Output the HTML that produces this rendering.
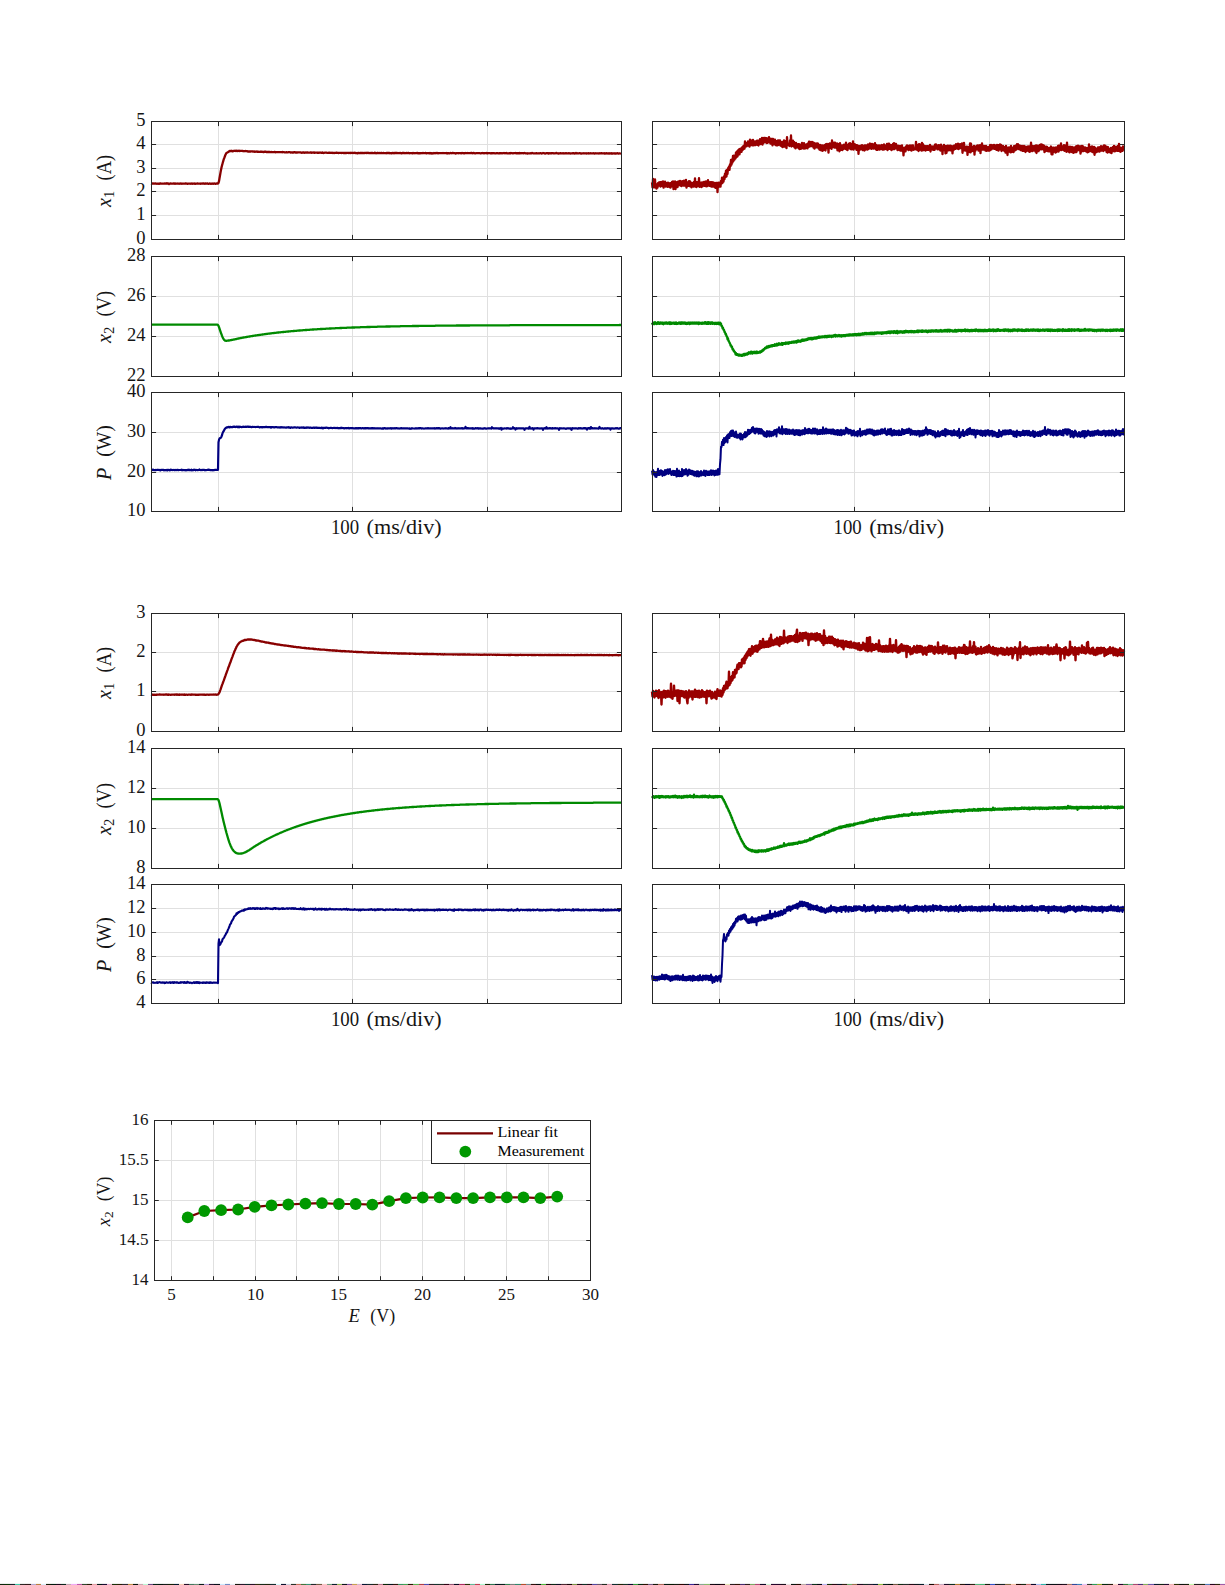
<!DOCTYPE html><html><head><meta charset="utf-8"><title>Plots</title><style>html,body{margin:0;padding:0;background:#fff;}body{width:1225px;height:1585px;overflow:hidden;}svg{display:block;}</style></head><body><svg width="1225" height="1585" viewBox="0 0 1225 1585" font-family="'Liberation Serif', 'DejaVu Serif', serif" fill="#151515">
<rect width="1225" height="1585" fill="#fff"/>
<path d="M218.5 121.5V239.5M352.5 121.5V239.5M487.5 121.5V239.5M151.5 144.5H621.5M151.5 168.5H621.5M151.5 191.5H621.5M151.5 215.5H621.5" stroke="#e0e0e0" stroke-width="1" fill="none"/>
<path d="M151.0 183.5L151.5 183.6L152.0 183.7L152.5 183.5L153.0 183.4L153.5 183.6L154.0 183.7L154.5 183.7L155.0 183.5L155.5 183.4L156.0 183.7L156.5 183.7L157.0 183.8L157.5 183.7L158.0 183.6L158.5 183.6L159.0 183.9L159.5 183.6L160.0 183.5L160.5 183.5L161.0 183.6L161.5 183.6L162.0 183.6L162.5 183.6L163.0 183.6L163.5 183.7L164.0 183.7L164.5 183.6L165.0 183.4L165.5 183.7L166.0 183.4L166.5 183.6L167.0 183.4L167.5 183.6L168.0 183.5L168.5 183.6L169.0 184.0L169.5 183.6L170.0 183.7L170.5 183.4L171.0 183.6L171.5 183.7L172.0 183.6L172.5 183.6L173.0 183.6L173.5 183.5L174.0 183.7L174.5 183.5L175.0 183.8L175.5 183.5L176.0 183.7L176.5 183.6L177.0 183.7L177.5 183.5L178.0 183.7L178.5 183.6L179.0 183.8L179.5 183.7L180.0 183.6L180.5 183.5L181.0 183.7L181.5 183.7L182.0 183.8L182.5 183.6L183.0 183.7L183.5 183.7L184.0 183.6L184.5 183.6L185.0 183.6L185.5 183.5L186.0 183.5L186.5 183.6L187.0 183.7L187.5 183.8L188.0 183.7L188.5 183.7L189.0 183.7L189.5 183.7L190.0 183.6L190.5 183.7L191.0 183.8L191.5 183.6L192.0 183.5L192.5 183.8L193.0 183.6L193.5 183.7L194.0 183.7L194.5 183.5L195.0 183.9L195.5 183.8L196.0 183.6L196.5 183.7L197.0 183.6L197.5 183.5L198.0 183.6L198.5 183.6L199.0 183.7L199.5 183.7L200.0 183.6L200.5 183.8L201.0 183.5L201.5 183.7L202.0 183.7L202.5 183.6L203.0 183.4L203.5 183.5L204.0 183.6L204.5 183.7L205.0 183.8L205.5 183.5L206.0 183.6L206.5 183.7L207.0 183.6L207.5 183.3L208.0 183.7L208.5 183.9L209.0 183.7L209.5 183.5L210.0 183.6L210.5 183.6L211.0 183.9L211.5 183.7L212.0 183.6L212.5 183.8L213.0 183.6L213.5 183.8L214.0 183.5L214.5 183.5L215.0 183.7L215.5 183.8L216.0 183.7L216.5 183.6L217.0 183.4L217.5 183.5L218.0 183.5L218.5 182.8L219.0 181.2L219.5 178.3L220.0 175.5L220.5 172.6L221.0 169.9L221.5 167.6L222.0 165.5L222.5 163.7L223.0 161.8L223.5 160.2L224.0 158.5L224.5 157.4L225.0 156.0L225.5 154.7L226.0 153.7L226.5 153.0L227.0 152.7L227.5 152.3L228.0 152.2L228.5 151.7L229.0 151.4L229.5 151.0L230.0 151.3L230.5 151.1L231.0 150.8L231.5 151.0L232.0 150.8L232.5 151.4L233.0 151.1L233.5 151.0L234.0 150.9L234.5 150.7L235.0 150.9L235.5 150.7L236.0 151.0L236.5 150.7L237.0 150.8L237.5 151.1L238.0 151.1L238.5 150.8L239.0 150.7L239.5 151.0L240.0 151.0L240.5 150.8L241.0 150.8L241.5 150.8L242.0 150.8L242.5 150.9L243.0 151.1L243.5 151.1L244.0 151.3L244.5 151.1L245.0 151.1L245.5 151.0L246.0 151.2L246.5 151.1L247.0 151.1L247.5 151.4L248.0 151.5L248.5 151.5L249.0 151.6L249.5 151.5L250.0 151.4L250.5 151.5L251.0 151.4L251.5 151.4L252.0 151.3L252.5 151.4L253.0 151.6L253.5 151.6L254.0 151.5L254.5 151.8L255.0 151.7L255.5 151.7L256.0 151.8L256.5 151.6L257.0 151.5L257.5 151.8L258.0 151.6L258.5 151.9L259.0 151.8L259.5 151.9L260.0 151.9L260.5 151.6L261.0 151.9L261.5 151.7L262.0 151.7L262.5 151.8L263.0 152.0L263.5 152.0L264.0 152.0L264.5 151.7L265.0 151.8L265.5 151.6L266.0 151.9L266.5 152.0L267.0 151.9L267.5 152.0L268.0 152.0L268.5 152.1L269.0 151.9L269.5 151.9L270.0 151.9L270.5 152.2L271.0 152.2L271.5 152.0L272.0 152.1L272.5 152.1L273.0 152.1L273.5 152.1L274.0 152.1L274.5 152.0L275.0 152.0L275.5 152.3L276.0 152.2L276.5 152.1L277.0 152.1L277.5 152.2L278.0 152.2L278.5 152.1L279.0 152.2L279.5 152.2L280.0 152.1L280.5 152.1L281.0 152.1L281.5 152.1L282.0 152.3L282.5 151.9L283.0 152.2L283.5 152.2L284.0 152.2L284.5 152.3L285.0 152.4L285.5 152.3L286.0 152.3L286.5 152.2L287.0 152.3L287.5 152.4L288.0 152.3L288.5 152.2L289.0 152.2L289.5 152.2L290.0 152.2L290.5 152.5L291.0 152.4L291.5 152.3L292.0 152.6L292.5 152.3L293.0 152.5L293.5 152.5L294.0 152.2L294.5 152.2L295.0 152.3L295.5 152.5L296.0 152.6L296.5 152.3L297.0 152.6L297.5 152.4L298.0 152.4L298.5 152.4L299.0 152.4L299.5 152.3L300.0 152.4L300.5 152.3L301.0 152.6L301.5 152.8L302.0 152.8L302.5 152.5L303.0 152.3L303.5 152.5L304.0 152.4L304.5 152.8L305.0 152.6L305.5 152.5L306.0 152.7L306.5 152.6L307.0 152.4L307.5 152.5L308.0 152.6L308.5 152.6L309.0 152.6L309.5 152.6L310.0 152.6L310.5 152.5L311.0 152.5L311.5 152.8L312.0 152.7L312.5 152.7L313.0 152.4L313.5 152.6L314.0 152.8L314.5 152.5L315.0 152.8L315.5 152.6L316.0 152.7L316.5 152.7L317.0 152.7L317.5 152.8L318.0 152.6L318.5 152.9L319.0 152.6L319.5 152.6L320.0 152.8L320.5 152.6L321.0 152.7L321.5 152.8L322.0 152.9L322.5 152.5L323.0 152.8L323.5 153.0L324.0 152.9L324.5 152.7L325.0 152.7L325.5 152.7L326.0 152.6L326.5 152.7L327.0 152.8L327.5 152.8L328.0 152.9L328.5 152.8L329.0 152.6L329.5 152.9L330.0 152.7L330.5 152.8L331.0 152.8L331.5 152.8L332.0 152.7L332.5 152.8L333.0 153.1L333.5 152.8L334.0 152.8L334.5 153.0L335.0 152.9L335.5 152.9L336.0 152.9L336.5 152.6L337.0 152.7L337.5 152.9L338.0 152.9L338.5 153.0L339.0 152.9L339.5 152.8L340.0 152.9L340.5 152.9L341.0 152.9L341.5 153.0L342.0 152.8L342.5 152.8L343.0 152.8L343.5 153.0L344.0 153.1L344.5 153.0L345.0 153.0L345.5 153.0L346.0 152.9L346.5 153.0L347.0 152.8L347.5 152.9L348.0 152.8L348.5 153.0L349.0 152.9L349.5 152.9L350.0 153.0L350.5 153.1L351.0 152.8L351.5 152.8L352.0 153.0L352.5 152.8L353.0 153.0L353.5 152.9L354.0 152.9L354.5 152.7L355.0 153.0L355.5 152.9L356.0 152.9L356.5 153.2L357.0 153.1L357.5 153.4L358.0 153.0L358.5 152.9L359.0 153.0L359.5 153.2L360.0 153.0L360.5 153.0L361.0 153.1L361.5 152.9L362.0 153.0L362.5 152.9L363.0 152.9L363.5 153.1L364.0 153.1L364.5 153.0L365.0 152.9L365.5 152.8L366.0 153.1L366.5 153.0L367.0 152.8L367.5 153.0L368.0 152.8L368.5 153.0L369.0 153.0L369.5 153.1L370.0 153.1L370.5 153.1L371.0 152.9L371.5 153.0L372.0 153.0L372.5 153.0L373.0 153.1L373.5 153.1L374.0 153.2L374.5 152.7L375.0 153.1L375.5 153.0L376.0 153.3L376.5 153.2L377.0 152.9L377.5 153.1L378.0 153.0L378.5 153.2L379.0 152.9L379.5 153.1L380.0 153.1L380.5 153.1L381.0 153.0L381.5 152.9L382.0 153.1L382.5 153.2L383.0 153.1L383.5 153.0L384.0 153.1L384.5 153.2L385.0 153.1L385.5 153.1L386.0 153.3L386.5 153.0L387.0 153.0L387.5 152.9L388.0 153.0L388.5 153.0L389.0 153.0L389.5 153.0L390.0 153.3L390.5 153.1L391.0 153.1L391.5 153.4L392.0 153.1L392.5 152.9L393.0 153.2L393.5 153.0L394.0 153.3L394.5 153.0L395.0 153.0L395.5 152.9L396.0 153.1L396.5 153.0L397.0 153.1L397.5 153.1L398.0 153.0L398.5 153.2L399.0 153.2L399.5 153.1L400.0 153.0L400.5 153.0L401.0 153.2L401.5 153.4L402.0 153.1L402.5 153.0L403.0 153.0L403.5 153.0L404.0 153.0L404.5 153.1L405.0 153.3L405.5 153.1L406.0 153.1L406.5 152.9L407.0 153.2L407.5 153.1L408.0 153.0L408.5 153.0L409.0 153.1L409.5 153.3L410.0 153.2L410.5 153.2L411.0 153.1L411.5 153.2L412.0 153.1L412.5 153.4L413.0 153.0L413.5 153.1L414.0 153.3L414.5 153.1L415.0 153.3L415.5 153.1L416.0 153.2L416.5 153.1L417.0 153.0L417.5 153.0L418.0 153.4L418.5 153.2L419.0 153.2L419.5 153.3L420.0 153.2L420.5 153.3L421.0 153.1L421.5 153.1L422.0 153.3L422.5 153.1L423.0 153.0L423.5 153.1L424.0 153.1L424.5 153.2L425.0 153.1L425.5 153.0L426.0 153.1L426.5 153.4L427.0 153.2L427.5 153.2L428.0 153.2L428.5 153.2L429.0 153.3L429.5 153.3L430.0 153.0L430.5 153.3L431.0 153.2L431.5 153.1L432.0 153.5L432.5 153.2L433.0 153.4L433.5 153.3L434.0 153.0L434.5 153.2L435.0 153.3L435.5 153.2L436.0 152.9L436.5 153.1L437.0 153.2L437.5 153.0L438.0 153.4L438.5 153.1L439.0 153.1L439.5 153.1L440.0 153.1L440.5 153.1L441.0 153.2L441.5 153.2L442.0 153.1L442.5 153.2L443.0 153.0L443.5 153.2L444.0 153.1L444.5 153.2L445.0 153.1L445.5 153.1L446.0 153.2L446.5 153.0L447.0 153.5L447.5 153.2L448.0 153.2L448.5 153.1L449.0 153.4L449.5 153.3L450.0 153.2L450.5 153.0L451.0 153.1L451.5 153.3L452.0 153.1L452.5 153.0L453.0 153.0L453.5 153.1L454.0 153.2L454.5 153.1L455.0 153.2L455.5 153.5L456.0 153.4L456.5 153.1L457.0 153.2L457.5 153.2L458.0 153.2L458.5 153.3L459.0 153.1L459.5 153.1L460.0 153.1L460.5 153.2L461.0 153.3L461.5 153.3L462.0 153.0L462.5 153.1L463.0 153.1L463.5 153.3L464.0 153.2L464.5 153.3L465.0 153.2L465.5 153.0L466.0 153.2L466.5 153.2L467.0 153.2L467.5 153.0L468.0 153.2L468.5 153.1L469.0 153.1L469.5 153.2L470.0 153.2L470.5 153.1L471.0 153.0L471.5 152.9L472.0 153.1L472.5 153.3L473.0 153.2L473.5 152.9L474.0 153.1L474.5 153.2L475.0 153.4L475.5 153.3L476.0 153.2L476.5 153.2L477.0 153.1L477.5 153.1L478.0 153.2L478.5 153.1L479.0 153.2L479.5 153.1L480.0 153.2L480.5 153.4L481.0 153.3L481.5 153.2L482.0 153.2L482.5 153.0L483.0 153.2L483.5 153.3L484.0 153.1L484.5 153.3L485.0 153.2L485.5 153.2L486.0 153.2L486.5 153.0L487.0 153.4L487.5 153.1L488.0 153.3L488.5 153.1L489.0 153.2L489.5 153.1L490.0 153.2L490.5 153.3L491.0 153.4L491.5 153.1L492.0 153.2L492.5 153.3L493.0 153.1L493.5 153.3L494.0 153.1L494.5 153.3L495.0 153.3L495.5 153.4L496.0 153.3L496.5 153.1L497.0 153.3L497.5 153.1L498.0 153.3L498.5 153.4L499.0 153.3L499.5 153.1L500.0 153.4L500.5 153.2L501.0 153.1L501.5 153.2L502.0 153.4L502.5 153.2L503.0 153.2L503.5 153.2L504.0 153.0L504.5 153.2L505.0 153.3L505.5 153.2L506.0 153.2L506.5 153.0L507.0 153.4L507.5 153.3L508.0 153.3L508.5 153.4L509.0 153.2L509.5 153.2L510.0 153.3L510.5 153.4L511.0 153.0L511.5 153.2L512.0 153.1L512.5 153.3L513.0 153.4L513.5 153.2L514.0 153.1L514.5 153.2L515.0 153.2L515.5 153.0L516.0 153.3L516.5 153.2L517.0 153.3L517.5 153.1L518.0 153.4L518.5 153.1L519.0 153.4L519.5 153.0L520.0 153.4L520.5 153.2L521.0 153.1L521.5 153.2L522.0 153.3L522.5 153.1L523.0 153.2L523.5 153.3L524.0 153.2L524.5 152.9L525.0 153.2L525.5 153.3L526.0 153.3L526.5 153.4L527.0 153.2L527.5 153.6L528.0 153.3L528.5 153.3L529.0 153.4L529.5 153.4L530.0 153.3L530.5 153.2L531.0 153.4L531.5 153.3L532.0 153.0L532.5 153.1L533.0 153.3L533.5 153.3L534.0 153.3L534.5 153.3L535.0 153.3L535.5 153.4L536.0 153.2L536.5 153.2L537.0 153.3L537.5 153.4L538.0 153.4L538.5 153.4L539.0 153.2L539.5 153.4L540.0 153.3L540.5 153.1L541.0 153.3L541.5 153.5L542.0 153.4L542.5 153.2L543.0 153.0L543.5 153.2L544.0 153.2L544.5 153.3L545.0 153.6L545.5 153.4L546.0 153.3L546.5 153.2L547.0 153.1L547.5 153.3L548.0 153.2L548.5 153.6L549.0 153.2L549.5 153.2L550.0 153.4L550.5 153.3L551.0 153.1L551.5 153.4L552.0 153.2L552.5 153.1L553.0 153.3L553.5 153.3L554.0 153.2L554.5 153.4L555.0 153.4L555.5 153.2L556.0 153.0L556.5 153.0L557.0 153.3L557.5 153.4L558.0 153.4L558.5 153.5L559.0 153.5L559.5 153.3L560.0 153.4L560.5 153.1L561.0 153.4L561.5 153.3L562.0 153.3L562.5 153.3L563.0 153.2L563.5 153.3L564.0 153.5L564.5 153.3L565.0 153.4L565.5 153.2L566.0 153.3L566.5 153.2L567.0 153.4L567.5 153.3L568.0 153.4L568.5 153.2L569.0 153.2L569.5 153.3L570.0 153.4L570.5 153.5L571.0 153.3L571.5 153.4L572.0 153.4L572.5 153.4L573.0 153.1L573.5 153.4L574.0 153.2L574.5 153.5L575.0 153.4L575.5 153.4L576.0 153.0L576.5 153.4L577.0 153.4L577.5 153.2L578.0 153.4L578.5 153.3L579.0 153.3L579.5 153.2L580.0 153.2L580.5 153.3L581.0 153.7L581.5 153.4L582.0 153.4L582.5 153.3L583.0 153.3L583.5 153.3L584.0 153.2L584.5 153.4L585.0 153.3L585.5 153.4L586.0 153.2L586.5 153.5L587.0 153.3L587.5 153.4L588.0 153.3L588.5 153.2L589.0 153.5L589.5 153.3L590.0 153.3L590.5 153.2L591.0 153.4L591.5 153.3L592.0 153.4L592.5 153.4L593.0 153.3L593.5 153.2L594.0 153.4L594.5 153.5L595.0 153.4L595.5 153.2L596.0 153.4L596.5 153.4L597.0 153.4L597.5 153.4L598.0 153.3L598.5 153.4L599.0 153.5L599.5 153.3L600.0 153.2L600.5 153.4L601.0 153.4L601.5 153.1L602.0 153.3L602.5 153.4L603.0 153.4L603.5 153.4L604.0 153.2L604.5 153.5L605.0 153.6L605.5 153.4L606.0 153.3L606.5 153.2L607.0 153.5L607.5 153.4L608.0 153.3L608.5 153.5L609.0 153.5L609.5 153.5L610.0 153.2L610.5 153.4L611.0 153.5L611.5 153.2L612.0 153.5L612.5 153.6L613.0 153.5L613.5 153.3L614.0 153.3L614.5 153.5L615.0 153.5L615.5 153.5L616.0 153.5L616.5 153.4L617.0 153.3L617.5 153.2L618.0 153.5L618.5 153.7L619.0 153.3L619.5 153.3L620.0 153.5L620.5 153.4L621.0 153.2" stroke="#880000" stroke-width="2.3" fill="none" stroke-linejoin="round"/>
<path d="M218.5 121.5v4.6M218.5 239.5v-4.6M352.5 121.5v4.6M352.5 239.5v-4.6M487.5 121.5v4.6M487.5 239.5v-4.6M151.5 121.5h4.6M621.5 121.5h-4.6M151.5 144.5h4.6M621.5 144.5h-4.6M151.5 168.5h4.6M621.5 168.5h-4.6M151.5 191.5h4.6M621.5 191.5h-4.6M151.5 215.5h4.6M621.5 215.5h-4.6M151.5 239.5h4.6M621.5 239.5h-4.6" stroke="#262626" stroke-width="1" fill="none"/>
<rect x="151.5" y="121.5" width="470" height="118" fill="none" stroke="#262626" stroke-width="1"/>
<text x="145.4" y="126.0" text-anchor="end" font-size="18.5">5</text>
<text x="145.4" y="149.0" text-anchor="end" font-size="18.5">4</text>
<text x="145.4" y="173.0" text-anchor="end" font-size="18.5">3</text>
<text x="145.4" y="196.0" text-anchor="end" font-size="18.5">2</text>
<text x="145.4" y="220.0" text-anchor="end" font-size="18.5">1</text>
<text x="145.4" y="244.0" text-anchor="end" font-size="18.5">0</text>
<path d="M719.5 121.5V239.5M854.5 121.5V239.5M989.5 121.5V239.5M652.5 144.5H1124.5M652.5 168.5H1124.5M652.5 191.5H1124.5M652.5 215.5H1124.5" stroke="#e0e0e0" stroke-width="1" fill="none"/>
<path d="M652.0 182.4L652.5 187.3L653.0 178.8L653.5 187.3L654.0 181.3L654.5 187.4L655.0 179.3L655.5 187.5L656.0 184.1L656.5 188.5L657.0 184.2L657.5 187.5L658.0 183.2L658.5 184.5L659.0 182.4L659.5 185.6L660.0 182.2L660.5 186.5L661.0 182.2L661.5 185.8L662.0 181.8L662.5 185.6L663.0 181.5L663.5 187.7L664.0 185.1L664.5 185.8L665.0 181.6L665.5 186.5L666.0 183.0L666.5 185.6L667.0 182.9L667.5 186.8L668.0 182.6L668.5 186.3L669.0 183.6L669.5 187.0L670.0 183.1L670.5 187.7L671.0 182.9L671.5 186.4L672.0 181.8L672.5 186.5L673.0 181.3L673.5 189.1L674.0 185.6L674.5 186.1L675.0 181.5L675.5 189.1L676.0 182.1L676.5 185.9L677.0 182.4L677.5 187.2L678.0 181.7L678.5 185.4L679.0 181.3L679.5 184.4L680.0 180.8L680.5 185.6L681.0 181.6L681.5 186.1L682.0 181.5L682.5 185.2L683.0 181.2L683.5 185.7L684.0 180.6L684.5 185.5L685.0 181.0L685.5 185.2L686.0 179.8L686.5 187.6L687.0 182.2L687.5 185.9L688.0 182.5L688.5 185.9L689.0 181.1L689.5 186.1L690.0 181.4L690.5 186.4L691.0 182.6L691.5 187.3L692.0 182.9L692.5 186.3L693.0 183.2L693.5 186.5L694.0 182.0L694.5 186.3L695.0 178.3L695.5 186.6L696.0 181.9L696.5 187.2L697.0 182.7L697.5 185.9L698.0 181.9L698.5 185.6L699.0 178.1L699.5 186.9L700.0 182.5L700.5 186.0L701.0 182.9L701.5 187.0L702.0 182.3L702.5 186.3L703.0 182.7L703.5 185.7L704.0 181.9L704.5 185.8L705.0 181.8L705.5 186.0L706.0 181.3L706.5 186.3L707.0 182.4L707.5 186.0L708.0 180.2L708.5 185.2L709.0 182.5L709.5 185.8L710.0 182.1L710.5 186.0L711.0 182.3L711.5 186.6L712.0 182.1L712.5 186.7L713.0 183.1L713.5 182.5L714.0 183.1L714.5 187.1L715.0 183.5L715.5 187.9L716.0 182.8L716.5 187.2L717.0 182.9L717.5 192.2L718.0 182.8L718.5 186.8L719.0 182.7L719.5 186.7L720.0 182.8L720.5 186.7L721.0 181.0L721.5 183.7L722.0 177.6L722.5 182.8L723.0 178.1L723.5 181.7L724.0 176.4L724.5 179.2L725.0 173.7L725.5 177.0L726.0 170.7L726.5 176.5L727.0 170.0L727.5 173.8L728.0 168.2L728.5 168.0L729.0 166.5L729.5 169.8L730.0 164.4L730.5 166.2L731.0 159.8L731.5 164.6L732.0 159.4L732.5 162.5L733.0 155.8L733.5 160.8L734.0 155.7L734.5 159.7L735.0 155.6L735.5 158.3L736.0 152.3L736.5 157.1L737.0 151.5L737.5 156.3L738.0 150.4L738.5 154.7L739.0 149.5L739.5 154.4L740.0 148.9L740.5 152.0L741.0 148.5L741.5 151.8L742.0 147.3L742.5 150.2L743.0 146.4L743.5 149.0L744.0 145.7L744.5 148.7L745.0 141.3L745.5 146.6L746.0 142.9L746.5 146.4L747.0 142.9L747.5 145.5L748.0 141.3L748.5 145.4L749.0 141.6L749.5 146.6L750.0 139.7L750.5 144.6L751.0 140.4L751.5 145.1L752.0 141.2L752.5 145.3L753.0 139.8L753.5 145.4L754.0 141.4L754.5 145.1L755.0 141.4L755.5 145.0L756.0 141.4L756.5 144.6L757.0 140.6L757.5 144.8L758.0 140.6L758.5 145.5L759.0 140.7L759.5 143.5L760.0 139.1L760.5 144.2L761.0 139.8L761.5 142.5L762.0 137.9L762.5 144.6L763.0 139.6L763.5 142.8L764.0 137.8L764.5 142.1L765.0 137.9L765.5 142.2L766.0 138.1L766.5 143.0L767.0 138.4L767.5 142.9L768.0 139.0L768.5 139.6L769.0 137.1L769.5 142.4L770.0 138.7L770.5 143.7L771.0 139.0L771.5 142.8L772.0 138.9L772.5 145.3L773.0 138.9L773.5 144.0L774.0 139.6L774.5 143.8L775.0 139.6L775.5 145.1L776.0 141.0L776.5 145.4L777.0 141.2L777.5 145.3L778.0 140.4L778.5 144.9L779.0 140.7L779.5 144.3L780.0 140.5L780.5 145.6L781.0 142.2L781.5 146.1L782.0 142.0L782.5 147.2L783.0 142.0L783.5 146.6L784.0 140.4L784.5 146.7L785.0 141.9L785.5 145.2L786.0 140.8L786.5 148.1L787.0 137.2L787.5 144.4L788.0 144.4L788.5 145.1L789.0 144.1L789.5 146.0L790.0 140.3L790.5 144.6L791.0 135.5L791.5 146.5L792.0 141.4L792.5 145.9L793.0 140.7L793.5 146.2L794.0 141.8L794.5 147.3L795.0 142.9L795.5 148.3L796.0 142.9L796.5 147.4L797.0 147.0L797.5 146.9L798.0 144.1L798.5 148.1L799.0 144.1L799.5 149.1L800.0 144.7L800.5 148.8L801.0 144.9L801.5 148.6L802.0 143.0L802.5 147.7L803.0 143.8L803.5 148.5L804.0 143.1L804.5 148.5L805.0 144.3L805.5 148.3L806.0 145.0L806.5 147.1L807.0 144.1L807.5 148.3L808.0 143.3L808.5 146.8L809.0 141.7L809.5 146.7L810.0 141.9L810.5 146.0L811.0 142.2L811.5 146.0L812.0 141.9L812.5 145.9L813.0 142.5L813.5 147.7L814.0 143.0L814.5 148.6L815.0 144.4L815.5 145.7L816.0 143.5L816.5 147.3L817.0 143.3L817.5 147.1L818.0 143.6L818.5 148.4L819.0 145.6L819.5 149.6L820.0 144.9L820.5 150.1L821.0 145.6L821.5 150.4L822.0 145.5L822.5 150.9L823.0 145.8L823.5 150.2L824.0 145.5L824.5 148.2L825.0 145.0L825.5 150.5L826.0 144.2L826.5 148.1L827.0 143.9L827.5 146.2L828.0 144.9L828.5 152.7L829.0 143.8L829.5 147.9L830.0 143.3L830.5 147.7L831.0 144.7L831.5 148.9L832.0 140.5L832.5 146.8L833.0 142.8L833.5 147.1L834.0 142.7L834.5 147.7L835.0 142.7L835.5 147.2L836.0 143.8L836.5 148.0L837.0 143.5L837.5 150.4L838.0 144.6L838.5 146.2L839.0 143.8L839.5 151.3L840.0 143.2L840.5 148.6L841.0 145.8L841.5 149.9L842.0 145.5L842.5 150.0L843.0 145.4L843.5 148.8L844.0 144.6L844.5 148.7L845.0 144.6L845.5 148.9L846.0 142.7L846.5 149.5L847.0 145.8L847.5 150.1L848.0 144.7L848.5 148.3L849.0 143.7L849.5 147.8L850.0 143.1L850.5 149.1L851.0 144.0L851.5 149.3L852.0 144.5L852.5 149.2L853.0 141.4L853.5 149.6L854.0 143.9L854.5 147.8L855.0 144.3L855.5 148.4L856.0 145.1L856.5 149.8L857.0 145.1L857.5 148.5L858.0 145.9L858.5 153.9L859.0 146.0L859.5 150.2L860.0 148.7L860.5 149.1L861.0 145.7L861.5 149.0L862.0 145.1L862.5 150.0L863.0 146.5L863.5 150.2L864.0 145.7L864.5 150.5L865.0 145.3L865.5 149.7L866.0 145.4L866.5 149.3L867.0 145.3L867.5 149.7L868.0 144.5L868.5 148.9L869.0 146.5L869.5 145.4L870.0 143.5L870.5 148.4L871.0 144.7L871.5 148.9L872.0 143.8L872.5 147.7L873.0 144.8L873.5 148.5L874.0 144.2L874.5 147.9L875.0 143.1L875.5 149.0L876.0 144.8L876.5 149.9L877.0 145.9L877.5 149.9L878.0 145.4L878.5 146.6L879.0 145.7L879.5 149.7L880.0 145.4L880.5 149.0L881.0 146.1L881.5 146.9L882.0 145.0L882.5 149.7L883.0 146.0L883.5 149.5L884.0 144.5L884.5 149.4L885.0 145.6L885.5 148.9L886.0 145.5L886.5 148.6L887.0 143.9L887.5 150.1L888.0 144.0L888.5 148.6L889.0 143.6L889.5 148.8L890.0 144.7L890.5 149.2L891.0 145.3L891.5 150.1L892.0 144.8L892.5 148.3L893.0 143.9L893.5 149.1L894.0 143.2L894.5 149.2L895.0 144.0L895.5 148.2L896.0 143.9L896.5 147.7L897.0 147.6L897.5 150.1L898.0 145.7L898.5 149.7L899.0 146.1L899.5 150.2L900.0 146.0L900.5 150.5L901.0 147.2L901.5 150.7L902.0 145.5L902.5 150.9L903.0 148.1L903.5 155.4L904.0 148.0L904.5 151.2L905.0 147.7L905.5 151.4L906.0 146.3L906.5 149.4L907.0 145.4L907.5 149.2L908.0 145.8L908.5 150.0L909.0 145.8L909.5 149.5L910.0 145.4L910.5 150.0L911.0 146.7L911.5 150.6L912.0 145.3L912.5 149.2L913.0 145.3L913.5 149.9L914.0 149.1L914.5 149.4L915.0 148.8L915.5 148.7L916.0 141.8L916.5 149.7L917.0 144.7L917.5 149.8L918.0 145.7L918.5 151.0L919.0 144.1L919.5 150.0L920.0 144.5L920.5 146.1L921.0 146.8L921.5 150.6L922.0 142.8L922.5 150.3L923.0 144.2L923.5 150.1L924.0 145.6L924.5 149.8L925.0 146.2L925.5 150.7L926.0 146.5L926.5 149.8L927.0 146.2L927.5 149.9L928.0 146.2L928.5 149.9L929.0 148.0L929.5 149.4L930.0 144.9L930.5 151.5L931.0 146.1L931.5 149.1L932.0 148.1L932.5 149.5L933.0 146.3L933.5 149.8L934.0 148.3L934.5 149.9L935.0 144.6L935.5 148.6L936.0 144.3L936.5 145.7L937.0 145.6L937.5 149.3L938.0 145.5L938.5 148.8L939.0 145.1L939.5 149.7L940.0 146.4L940.5 150.5L941.0 144.7L941.5 149.9L942.0 146.1L942.5 154.2L943.0 146.1L943.5 150.1L944.0 144.9L944.5 150.0L945.0 145.9L945.5 153.4L946.0 146.1L946.5 152.8L947.0 146.0L947.5 150.2L948.0 145.6L948.5 150.4L949.0 146.1L949.5 150.1L950.0 145.7L950.5 150.4L951.0 145.8L951.5 150.4L952.0 146.6L952.5 153.4L953.0 146.2L953.5 150.2L954.0 145.7L954.5 149.1L955.0 145.3L955.5 148.8L956.0 144.1L956.5 147.9L957.0 144.7L957.5 148.7L958.0 143.6L958.5 149.2L959.0 145.1L959.5 148.3L960.0 144.2L960.5 148.1L961.0 144.3L961.5 148.1L962.0 143.5L962.5 152.8L963.0 146.0L963.5 149.6L964.0 142.9L964.5 150.3L965.0 147.0L965.5 150.5L966.0 146.8L966.5 150.5L967.0 146.6L967.5 154.9L968.0 147.6L968.5 148.4L969.0 146.9L969.5 152.0L970.0 143.5L970.5 152.4L971.0 143.7L971.5 151.3L972.0 146.7L972.5 150.8L973.0 146.8L973.5 149.8L974.0 146.0L974.5 154.7L975.0 146.4L975.5 150.7L976.0 146.6L976.5 149.0L977.0 145.6L977.5 148.9L978.0 145.4L978.5 150.7L979.0 146.1L979.5 149.7L980.0 145.2L980.5 153.2L981.0 145.5L981.5 149.2L982.0 143.3L982.5 149.6L983.0 145.9L983.5 149.7L984.0 145.8L984.5 149.7L985.0 146.3L985.5 150.7L986.0 145.8L986.5 150.8L987.0 146.9L987.5 150.4L988.0 147.5L988.5 150.7L989.0 147.0L989.5 150.7L990.0 145.2L990.5 149.8L991.0 144.9L991.5 149.3L992.0 145.7L992.5 146.3L993.0 145.3L993.5 148.6L994.0 145.0L994.5 148.9L995.0 145.3L995.5 149.2L996.0 145.7L996.5 149.8L997.0 145.0L997.5 150.0L998.0 145.1L998.5 150.6L999.0 145.1L999.5 149.0L1000.0 144.5L1000.5 149.4L1001.0 145.0L1001.5 151.0L1002.0 146.0L1002.5 150.1L1003.0 146.0L1003.5 150.3L1004.0 147.2L1004.5 150.9L1005.0 147.0L1005.5 152.6L1006.0 145.9L1006.5 151.3L1007.0 147.7L1007.5 155.0L1008.0 147.8L1008.5 151.4L1009.0 147.3L1009.5 151.5L1010.0 148.4L1010.5 152.4L1011.0 146.0L1011.5 152.0L1012.0 148.2L1012.5 151.0L1013.0 147.6L1013.5 152.1L1014.0 146.2L1014.5 150.6L1015.0 145.9L1015.5 150.1L1016.0 145.4L1016.5 149.4L1017.0 144.2L1017.5 145.0L1018.0 144.3L1018.5 149.0L1019.0 145.4L1019.5 148.9L1020.0 145.6L1020.5 150.1L1021.0 146.2L1021.5 150.2L1022.0 145.9L1022.5 150.8L1023.0 146.9L1023.5 150.8L1024.0 146.0L1024.5 151.0L1025.0 146.6L1025.5 152.0L1026.0 146.9L1026.5 150.9L1027.0 146.9L1027.5 150.2L1028.0 146.5L1028.5 151.1L1029.0 146.7L1029.5 151.9L1030.0 146.2L1030.5 151.4L1031.0 142.7L1031.5 147.1L1032.0 146.7L1032.5 151.1L1033.0 146.1L1033.5 150.3L1034.0 146.3L1034.5 150.2L1035.0 146.0L1035.5 151.6L1036.0 145.5L1036.5 153.0L1037.0 145.6L1037.5 148.6L1038.0 145.7L1038.5 151.2L1039.0 148.4L1039.5 149.8L1040.0 144.8L1040.5 149.2L1041.0 144.4L1041.5 149.3L1042.0 144.7L1042.5 148.6L1043.0 145.1L1043.5 149.6L1044.0 145.6L1044.5 152.1L1045.0 146.9L1045.5 151.1L1046.0 146.6L1046.5 150.1L1047.0 146.8L1047.5 151.2L1048.0 150.7L1048.5 151.3L1049.0 148.0L1049.5 151.3L1050.0 148.4L1050.5 148.6L1051.0 146.5L1051.5 154.3L1052.0 148.0L1052.5 154.3L1053.0 147.7L1053.5 151.8L1054.0 147.6L1054.5 151.1L1055.0 148.4L1055.5 152.6L1056.0 147.4L1056.5 151.8L1057.0 147.5L1057.5 151.0L1058.0 146.0L1058.5 151.6L1059.0 145.6L1059.5 150.4L1060.0 146.4L1060.5 148.6L1061.0 143.3L1061.5 150.2L1062.0 146.3L1062.5 149.7L1063.0 146.1L1063.5 149.9L1064.0 145.2L1064.5 150.9L1065.0 145.6L1065.5 150.5L1066.0 145.4L1066.5 151.8L1067.0 142.6L1067.5 150.6L1068.0 146.7L1068.5 151.7L1069.0 147.6L1069.5 152.4L1070.0 146.6L1070.5 149.1L1071.0 148.2L1071.5 151.8L1072.0 147.0L1072.5 152.4L1073.0 148.1L1073.5 152.8L1074.0 147.3L1074.5 152.0L1075.0 147.5L1075.5 152.1L1076.0 146.4L1076.5 152.0L1077.0 146.1L1077.5 150.4L1078.0 145.6L1078.5 150.0L1079.0 146.2L1079.5 150.4L1080.0 146.7L1080.5 153.6L1081.0 146.2L1081.5 151.6L1082.0 146.0L1082.5 150.9L1083.0 146.4L1083.5 151.1L1084.0 147.8L1084.5 150.4L1085.0 147.4L1085.5 151.0L1086.0 148.0L1086.5 151.5L1087.0 148.1L1087.5 152.4L1088.0 147.9L1088.5 151.9L1089.0 144.3L1089.5 151.2L1090.0 148.0L1090.5 150.9L1091.0 146.9L1091.5 151.3L1092.0 146.3L1092.5 152.1L1093.0 147.4L1093.5 150.5L1094.0 146.8L1094.5 154.8L1095.0 147.6L1095.5 152.5L1096.0 152.2L1096.5 150.0L1097.0 148.5L1097.5 151.7L1098.0 147.3L1098.5 151.4L1099.0 147.3L1099.5 151.5L1100.0 147.1L1100.5 149.9L1101.0 146.1L1101.5 150.5L1102.0 146.8L1102.5 150.7L1103.0 146.3L1103.5 151.0L1104.0 145.5L1104.5 149.9L1105.0 145.7L1105.5 149.1L1106.0 146.7L1106.5 151.9L1107.0 146.9L1107.5 152.6L1108.0 147.1L1108.5 151.6L1109.0 148.6L1109.5 152.0L1110.0 151.1L1110.5 152.6L1111.0 147.8L1111.5 153.1L1112.0 147.9L1112.5 151.2L1113.0 147.0L1113.5 151.2L1114.0 145.9L1114.5 151.4L1115.0 146.7L1115.5 151.1L1116.0 147.2L1116.5 150.6L1117.0 146.7L1117.5 150.9L1118.0 145.8L1118.5 150.9L1119.0 143.9L1119.5 151.1L1120.0 147.5L1120.5 151.9L1121.0 151.2L1121.5 151.1L1122.0 147.7L1122.5 150.9L1123.0 146.4L1123.5 149.7L1124.0 146.3" stroke="#990000" stroke-width="2.3" fill="none" stroke-linejoin="round"/>
<path d="M719.5 121.5v4.6M719.5 239.5v-4.6M854.5 121.5v4.6M854.5 239.5v-4.6M989.5 121.5v4.6M989.5 239.5v-4.6M652.5 121.5h4.6M1124.5 121.5h-4.6M652.5 144.5h4.6M1124.5 144.5h-4.6M652.5 168.5h4.6M1124.5 168.5h-4.6M652.5 191.5h4.6M1124.5 191.5h-4.6M652.5 215.5h4.6M1124.5 215.5h-4.6M652.5 239.5h4.6M1124.5 239.5h-4.6" stroke="#262626" stroke-width="1" fill="none"/>
<rect x="652.5" y="121.5" width="472" height="118" fill="none" stroke="#262626" stroke-width="1"/>
<text transform="translate(111.2 0) rotate(-90)" font-size="20"><tspan x="-207" font-style="italic">x</tspan><tspan font-size="14.5" dy="3.2">1</tspan><tspan x="-180.5" dy="-3.2" textLength="25.7" lengthAdjust="spacingAndGlyphs">(A)</tspan></text>
<path d="M218.5 256.5V376.5M352.5 256.5V376.5M487.5 256.5V376.5M151.5 296.5H621.5M151.5 336.5H621.5" stroke="#e0e0e0" stroke-width="1" fill="none"/>
<path d="M151.0 324.7L151.5 324.7L152.0 324.7L152.5 324.7L153.0 324.7L153.5 324.7L154.0 324.7L154.5 324.7L155.0 324.7L155.5 324.7L156.0 324.7L156.5 324.7L157.0 324.7L157.5 324.7L158.0 324.7L158.5 324.7L159.0 324.7L159.5 324.7L160.0 324.7L160.5 324.7L161.0 324.7L161.5 324.7L162.0 324.7L162.5 324.7L163.0 324.7L163.5 324.7L164.0 324.7L164.5 324.7L165.0 324.7L165.5 324.7L166.0 324.7L166.5 324.7L167.0 324.7L167.5 324.7L168.0 324.7L168.5 324.7L169.0 324.7L169.5 324.7L170.0 324.7L170.5 324.7L171.0 324.7L171.5 324.7L172.0 324.7L172.5 324.7L173.0 324.7L173.5 324.7L174.0 324.7L174.5 324.7L175.0 324.7L175.5 324.7L176.0 324.7L176.5 324.7L177.0 324.7L177.5 324.7L178.0 324.7L178.5 324.7L179.0 324.7L179.5 324.7L180.0 324.7L180.5 324.7L181.0 324.7L181.5 324.7L182.0 324.7L182.5 324.7L183.0 324.7L183.5 324.7L184.0 324.7L184.5 324.7L185.0 324.7L185.5 324.7L186.0 324.7L186.5 324.7L187.0 324.7L187.5 324.7L188.0 324.7L188.5 324.7L189.0 324.7L189.5 324.7L190.0 324.7L190.5 324.7L191.0 324.7L191.5 324.7L192.0 324.7L192.5 324.7L193.0 324.7L193.5 324.7L194.0 324.7L194.5 324.7L195.0 324.7L195.5 324.7L196.0 324.7L196.5 324.7L197.0 324.7L197.5 324.7L198.0 324.7L198.5 324.7L199.0 324.7L199.5 324.7L200.0 324.7L200.5 324.7L201.0 324.7L201.5 324.7L202.0 324.7L202.5 324.7L203.0 324.7L203.5 324.7L204.0 324.7L204.5 324.7L205.0 324.7L205.5 324.7L206.0 324.7L206.5 324.7L207.0 324.7L207.5 324.7L208.0 324.7L208.5 324.7L209.0 324.7L209.5 324.7L210.0 324.7L210.5 324.7L211.0 324.7L211.5 324.7L212.0 324.7L212.5 324.7L213.0 324.7L213.5 324.7L214.0 324.7L214.5 324.7L215.0 324.7L215.5 324.7L216.0 324.7L216.5 324.7L217.0 324.7L217.5 324.7L218.0 325.0L218.5 325.8L219.0 327.1L219.5 328.6L220.0 330.1L220.5 331.6L221.0 333.0L221.5 334.3L222.0 335.7L222.5 336.9L223.0 338.0L223.5 338.9L224.0 339.7L224.5 340.2L225.0 340.6L225.5 340.7L226.0 340.8L226.5 340.8L227.0 340.7L227.5 340.7L228.0 340.6L228.5 340.5L229.0 340.5L229.5 340.4L230.0 340.3L230.5 340.2L231.0 340.1L231.5 340.0L232.0 339.9L232.5 339.8L233.0 339.7L233.5 339.6L234.0 339.5L234.5 339.4L235.0 339.3L235.5 339.2L236.0 339.1L236.5 339.0L237.0 338.8L237.5 338.7L238.0 338.6L238.5 338.5L239.0 338.4L239.5 338.3L240.0 338.2L240.5 338.1L241.0 338.0L241.5 337.9L242.0 337.8L242.5 337.7L243.0 337.6L243.5 337.5L244.0 337.4L244.5 337.4L245.0 337.3L245.5 337.2L246.0 337.1L246.5 337.0L247.0 336.9L247.5 336.8L248.0 336.7L248.5 336.6L249.0 336.6L249.5 336.5L250.0 336.4L250.5 336.3L251.0 336.2L251.5 336.1L252.0 336.1L252.5 336.0L253.0 335.9L253.5 335.8L254.0 335.7L254.5 335.7L255.0 335.6L255.5 335.5L256.0 335.4L256.5 335.4L257.0 335.3L257.5 335.2L258.0 335.1L258.5 335.1L259.0 335.0L259.5 334.9L260.0 334.8L260.5 334.8L261.0 334.7L261.5 334.6L262.0 334.6L262.5 334.5L263.0 334.4L263.5 334.3L264.0 334.3L264.5 334.2L265.0 334.1L265.5 334.1L266.0 334.0L266.5 333.9L267.0 333.9L267.5 333.8L268.0 333.7L268.5 333.7L269.0 333.6L269.5 333.6L270.0 333.5L270.5 333.4L271.0 333.4L271.5 333.3L272.0 333.2L272.5 333.2L273.0 333.1L273.5 333.1L274.0 333.0L274.5 332.9L275.0 332.9L275.5 332.8L276.0 332.8L276.5 332.7L277.0 332.7L277.5 332.6L278.0 332.5L278.5 332.5L279.0 332.4L279.5 332.4L280.0 332.3L280.5 332.3L281.0 332.2L281.5 332.2L282.0 332.1L282.5 332.1L283.0 332.0L283.5 332.0L284.0 331.9L284.5 331.9L285.0 331.8L285.5 331.8L286.0 331.7L286.5 331.7L287.0 331.6L287.5 331.6L288.0 331.5L288.5 331.5L289.0 331.4L289.5 331.4L290.0 331.3L290.5 331.3L291.0 331.2L291.5 331.2L292.0 331.1L292.5 331.1L293.0 331.1L293.5 331.0L294.0 331.0L294.5 330.9L295.0 330.9L295.5 330.8L296.0 330.8L296.5 330.8L297.0 330.7L297.5 330.7L298.0 330.6L298.5 330.6L299.0 330.5L299.5 330.5L300.0 330.5L300.5 330.4L301.0 330.4L301.5 330.3L302.0 330.3L302.5 330.3L303.0 330.2L303.5 330.2L304.0 330.2L304.5 330.1L305.0 330.1L305.5 330.0L306.0 330.0L306.5 330.0L307.0 329.9L307.5 329.9L308.0 329.9L308.5 329.8L309.0 329.8L309.5 329.8L310.0 329.7L310.5 329.7L311.0 329.6L311.5 329.6L312.0 329.6L312.5 329.5L313.0 329.5L313.5 329.5L314.0 329.4L314.5 329.4L315.0 329.4L315.5 329.3L316.0 329.3L316.5 329.3L317.0 329.3L317.5 329.2L318.0 329.2L318.5 329.2L319.0 329.1L319.5 329.1L320.0 329.1L320.5 329.0L321.0 329.0L321.5 329.0L322.0 329.0L322.5 328.9L323.0 328.9L323.5 328.9L324.0 328.8L324.5 328.8L325.0 328.8L325.5 328.8L326.0 328.7L326.5 328.7L327.0 328.7L327.5 328.6L328.0 328.6L328.5 328.6L329.0 328.6L329.5 328.5L330.0 328.5L330.5 328.5L331.0 328.5L331.5 328.4L332.0 328.4L332.5 328.4L333.0 328.4L333.5 328.3L334.0 328.3L334.5 328.3L335.0 328.3L335.5 328.2L336.0 328.2L336.5 328.2L337.0 328.2L337.5 328.1L338.0 328.1L338.5 328.1L339.0 328.1L339.5 328.1L340.0 328.0L340.5 328.0L341.0 328.0L341.5 328.0L342.0 327.9L342.5 327.9L343.0 327.9L343.5 327.9L344.0 327.9L344.5 327.8L345.0 327.8L345.5 327.8L346.0 327.8L346.5 327.8L347.0 327.7L347.5 327.7L348.0 327.7L348.5 327.7L349.0 327.7L349.5 327.6L350.0 327.6L350.5 327.6L351.0 327.6L351.5 327.6L352.0 327.5L352.5 327.5L353.0 327.5L353.5 327.5L354.0 327.5L354.5 327.5L355.0 327.4L355.5 327.4L356.0 327.4L356.5 327.4L357.0 327.4L357.5 327.3L358.0 327.3L358.5 327.3L359.0 327.3L359.5 327.3L360.0 327.3L360.5 327.2L361.0 327.2L361.5 327.2L362.0 327.2L362.5 327.2L363.0 327.2L363.5 327.1L364.0 327.1L364.5 327.1L365.0 327.1L365.5 327.1L366.0 327.1L366.5 327.1L367.0 327.0L367.5 327.0L368.0 327.0L368.5 327.0L369.0 327.0L369.5 327.0L370.0 327.0L370.5 326.9L371.0 326.9L371.5 326.9L372.0 326.9L372.5 326.9L373.0 326.9L373.5 326.9L374.0 326.8L374.5 326.8L375.0 326.8L375.5 326.8L376.0 326.8L376.5 326.8L377.0 326.8L377.5 326.7L378.0 326.7L378.5 326.7L379.0 326.7L379.5 326.7L380.0 326.7L380.5 326.7L381.0 326.7L381.5 326.6L382.0 326.6L382.5 326.6L383.0 326.6L383.5 326.6L384.0 326.6L384.5 326.6L385.0 326.6L385.5 326.6L386.0 326.5L386.5 326.5L387.0 326.5L387.5 326.5L388.0 326.5L388.5 326.5L389.0 326.5L389.5 326.5L390.0 326.5L390.5 326.4L391.0 326.4L391.5 326.4L392.0 326.4L392.5 326.4L393.0 326.4L393.5 326.4L394.0 326.4L394.5 326.4L395.0 326.4L395.5 326.3L396.0 326.3L396.5 326.3L397.0 326.3L397.5 326.3L398.0 326.3L398.5 326.3L399.0 326.3L399.5 326.3L400.0 326.3L400.5 326.2L401.0 326.2L401.5 326.2L402.0 326.2L402.5 326.2L403.0 326.2L403.5 326.2L404.0 326.2L404.5 326.2L405.0 326.2L405.5 326.2L406.0 326.1L406.5 326.1L407.0 326.1L407.5 326.1L408.0 326.1L408.5 326.1L409.0 326.1L409.5 326.1L410.0 326.1L410.5 326.1L411.0 326.1L411.5 326.1L412.0 326.1L412.5 326.0L413.0 326.0L413.5 326.0L414.0 326.0L414.5 326.0L415.0 326.0L415.5 326.0L416.0 326.0L416.5 326.0L417.0 326.0L417.5 326.0L418.0 326.0L418.5 326.0L419.0 325.9L419.5 325.9L420.0 325.9L420.5 325.9L421.0 325.9L421.5 325.9L422.0 325.9L422.5 325.9L423.0 325.9L423.5 325.9L424.0 325.9L424.5 325.9L425.0 325.9L425.5 325.9L426.0 325.9L426.5 325.9L427.0 325.8L427.5 325.8L428.0 325.8L428.5 325.8L429.0 325.8L429.5 325.8L430.0 325.8L430.5 325.8L431.0 325.8L431.5 325.8L432.0 325.8L432.5 325.8L433.0 325.8L433.5 325.8L434.0 325.8L434.5 325.8L435.0 325.8L435.5 325.7L436.0 325.7L436.5 325.7L437.0 325.7L437.5 325.7L438.0 325.7L438.5 325.7L439.0 325.7L439.5 325.7L440.0 325.7L440.5 325.7L441.0 325.7L441.5 325.7L442.0 325.7L442.5 325.7L443.0 325.7L443.5 325.7L444.0 325.7L444.5 325.7L445.0 325.6L445.5 325.6L446.0 325.6L446.5 325.6L447.0 325.6L447.5 325.6L448.0 325.6L448.5 325.6L449.0 325.6L449.5 325.6L450.0 325.6L450.5 325.6L451.0 325.6L451.5 325.6L452.0 325.6L452.5 325.6L453.0 325.6L453.5 325.6L454.0 325.6L454.5 325.6L455.0 325.6L455.5 325.6L456.0 325.6L456.5 325.5L457.0 325.5L457.5 325.5L458.0 325.5L458.5 325.5L459.0 325.5L459.5 325.5L460.0 325.5L460.5 325.5L461.0 325.5L461.5 325.5L462.0 325.5L462.5 325.5L463.0 325.5L463.5 325.5L464.0 325.5L464.5 325.5L465.0 325.5L465.5 325.5L466.0 325.5L466.5 325.5L467.0 325.5L467.5 325.5L468.0 325.5L468.5 325.5L469.0 325.5L469.5 325.5L470.0 325.4L470.5 325.4L471.0 325.4L471.5 325.4L472.0 325.4L472.5 325.4L473.0 325.4L473.5 325.4L474.0 325.4L474.5 325.4L475.0 325.4L475.5 325.4L476.0 325.4L476.5 325.4L477.0 325.4L477.5 325.4L478.0 325.4L478.5 325.4L479.0 325.4L479.5 325.4L480.0 325.4L480.5 325.4L481.0 325.4L481.5 325.4L482.0 325.4L482.5 325.4L483.0 325.4L483.5 325.4L484.0 325.4L484.5 325.4L485.0 325.4L485.5 325.4L486.0 325.4L486.5 325.4L487.0 325.3L487.5 325.3L488.0 325.3L488.5 325.3L489.0 325.3L489.5 325.3L490.0 325.3L490.5 325.3L491.0 325.3L491.5 325.3L492.0 325.3L492.5 325.3L493.0 325.3L493.5 325.3L494.0 325.3L494.5 325.3L495.0 325.3L495.5 325.3L496.0 325.3L496.5 325.3L497.0 325.3L497.5 325.3L498.0 325.3L498.5 325.3L499.0 325.3L499.5 325.3L500.0 325.3L500.5 325.3L501.0 325.3L501.5 325.3L502.0 325.3L502.5 325.3L503.0 325.3L503.5 325.3L504.0 325.3L504.5 325.3L505.0 325.3L505.5 325.3L506.0 325.3L506.5 325.3L507.0 325.3L507.5 325.3L508.0 325.3L508.5 325.3L509.0 325.3L509.5 325.3L510.0 325.2L510.5 325.2L511.0 325.2L511.5 325.2L512.0 325.2L512.5 325.2L513.0 325.2L513.5 325.2L514.0 325.2L514.5 325.2L515.0 325.2L515.5 325.2L516.0 325.2L516.5 325.2L517.0 325.2L517.5 325.2L518.0 325.2L518.5 325.2L519.0 325.2L519.5 325.2L520.0 325.2L520.5 325.2L521.0 325.2L521.5 325.2L522.0 325.2L522.5 325.2L523.0 325.2L523.5 325.2L524.0 325.2L524.5 325.2L525.0 325.2L525.5 325.2L526.0 325.2L526.5 325.2L527.0 325.2L527.5 325.2L528.0 325.2L528.5 325.2L529.0 325.2L529.5 325.2L530.0 325.2L530.5 325.2L531.0 325.2L531.5 325.2L532.0 325.2L532.5 325.2L533.0 325.2L533.5 325.2L534.0 325.2L534.5 325.2L535.0 325.2L535.5 325.2L536.0 325.2L536.5 325.2L537.0 325.2L537.5 325.2L538.0 325.2L538.5 325.2L539.0 325.2L539.5 325.2L540.0 325.2L540.5 325.2L541.0 325.2L541.5 325.2L542.0 325.2L542.5 325.2L543.0 325.2L543.5 325.2L544.0 325.2L544.5 325.1L545.0 325.1L545.5 325.1L546.0 325.1L546.5 325.1L547.0 325.1L547.5 325.1L548.0 325.1L548.5 325.1L549.0 325.1L549.5 325.1L550.0 325.1L550.5 325.1L551.0 325.1L551.5 325.1L552.0 325.1L552.5 325.1L553.0 325.1L553.5 325.1L554.0 325.1L554.5 325.1L555.0 325.1L555.5 325.1L556.0 325.1L556.5 325.1L557.0 325.1L557.5 325.1L558.0 325.1L558.5 325.1L559.0 325.1L559.5 325.1L560.0 325.1L560.5 325.1L561.0 325.1L561.5 325.1L562.0 325.1L562.5 325.1L563.0 325.1L563.5 325.1L564.0 325.1L564.5 325.1L565.0 325.1L565.5 325.1L566.0 325.1L566.5 325.1L567.0 325.1L567.5 325.1L568.0 325.1L568.5 325.1L569.0 325.1L569.5 325.1L570.0 325.1L570.5 325.1L571.0 325.1L571.5 325.1L572.0 325.1L572.5 325.1L573.0 325.1L573.5 325.1L574.0 325.1L574.5 325.1L575.0 325.1L575.5 325.1L576.0 325.1L576.5 325.1L577.0 325.1L577.5 325.1L578.0 325.1L578.5 325.1L579.0 325.1L579.5 325.1L580.0 325.1L580.5 325.1L581.0 325.1L581.5 325.1L582.0 325.1L582.5 325.1L583.0 325.1L583.5 325.1L584.0 325.1L584.5 325.1L585.0 325.1L585.5 325.1L586.0 325.1L586.5 325.1L587.0 325.1L587.5 325.1L588.0 325.1L588.5 325.1L589.0 325.1L589.5 325.1L590.0 325.1L590.5 325.1L591.0 325.1L591.5 325.1L592.0 325.1L592.5 325.1L593.0 325.1L593.5 325.1L594.0 325.1L594.5 325.1L595.0 325.1L595.5 325.1L596.0 325.1L596.5 325.1L597.0 325.1L597.5 325.1L598.0 325.1L598.5 325.1L599.0 325.1L599.5 325.1L600.0 325.1L600.5 325.1L601.0 325.1L601.5 325.1L602.0 325.1L602.5 325.1L603.0 325.1L603.5 325.1L604.0 325.1L604.5 325.1L605.0 325.1L605.5 325.1L606.0 325.1L606.5 325.1L607.0 325.1L607.5 325.1L608.0 325.1L608.5 325.1L609.0 325.1L609.5 325.1L610.0 325.1L610.5 325.1L611.0 325.1L611.5 325.1L612.0 325.1L612.5 325.1L613.0 325.1L613.5 325.1L614.0 325.1L614.5 325.1L615.0 325.1L615.5 325.1L616.0 325.1L616.5 325.1L617.0 325.1L617.5 325.1L618.0 325.1L618.5 325.1L619.0 325.1L619.5 325.0L620.0 325.0L620.5 325.0L621.0 325.0" stroke="#008a00" stroke-width="2.3" fill="none" stroke-linejoin="round"/>
<path d="M218.5 256.5v4.6M218.5 376.5v-4.6M352.5 256.5v4.6M352.5 376.5v-4.6M487.5 256.5v4.6M487.5 376.5v-4.6M151.5 256.5h4.6M621.5 256.5h-4.6M151.5 296.5h4.6M621.5 296.5h-4.6M151.5 336.5h4.6M621.5 336.5h-4.6M151.5 376.5h4.6M621.5 376.5h-4.6" stroke="#262626" stroke-width="1" fill="none"/>
<rect x="151.5" y="256.5" width="470" height="120" fill="none" stroke="#262626" stroke-width="1"/>
<text x="145.4" y="261.0" text-anchor="end" font-size="18.5">28</text>
<text x="145.4" y="301.0" text-anchor="end" font-size="18.5">26</text>
<text x="145.4" y="341.0" text-anchor="end" font-size="18.5">24</text>
<text x="145.4" y="381.0" text-anchor="end" font-size="18.5">22</text>
<path d="M719.5 256.5V376.5M854.5 256.5V376.5M989.5 256.5V376.5M652.5 296.5H1124.5M652.5 336.5H1124.5" stroke="#e0e0e0" stroke-width="1" fill="none"/>
<path d="M652.0 322.8L652.5 324.0L653.0 322.5L653.5 324.0L654.0 322.7L654.5 324.1L655.0 322.1L655.5 323.7L656.0 322.8L656.5 324.0L657.0 322.8L657.5 323.8L658.0 322.0L658.5 323.8L659.0 322.7L659.5 323.9L660.0 322.4L660.5 323.7L661.0 322.8L661.5 323.7L662.0 322.5L662.5 323.9L663.0 322.7L663.5 324.3L664.0 322.6L664.5 323.7L665.0 322.7L665.5 323.7L666.0 322.3L666.5 323.7L667.0 322.7L667.5 323.8L668.0 322.6L668.5 323.6L669.0 322.3L669.5 324.0L670.0 322.3L670.5 324.0L671.0 322.6L671.5 323.9L672.0 322.8L672.5 323.6L673.0 322.6L673.5 323.6L674.0 322.6L674.5 323.8L675.0 322.9L675.5 323.9L676.0 322.4L676.5 324.0L677.0 322.9L677.5 323.8L678.0 322.8L678.5 323.6L679.0 322.5L679.5 323.6L680.0 322.5L680.5 323.8L681.0 322.3L681.5 323.8L682.0 322.3L682.5 323.6L683.0 322.6L683.5 323.5L684.0 322.4L684.5 323.6L685.0 322.5L685.5 323.8L686.0 322.8L686.5 324.0L687.0 322.8L687.5 323.9L688.0 322.7L688.5 323.7L689.0 322.5L689.5 324.1L690.0 322.8L690.5 323.8L691.0 322.5L691.5 323.6L692.0 322.7L692.5 323.6L693.0 322.4L693.5 323.5L694.0 322.6L694.5 323.7L695.0 322.5L695.5 323.6L696.0 322.7L696.5 323.6L697.0 322.5L697.5 323.5L698.0 322.7L698.5 324.1L699.0 322.5L699.5 323.8L700.0 322.7L700.5 323.7L701.0 322.8L701.5 323.8L702.0 322.6L702.5 323.8L703.0 322.7L703.5 323.7L704.0 322.7L704.5 323.7L705.0 322.1L705.5 323.6L706.0 322.5L706.5 323.9L707.0 322.4L707.5 323.9L708.0 322.0L708.5 323.9L709.0 322.3L709.5 323.5L710.0 322.5L710.5 323.9L711.0 322.3L711.5 323.7L712.0 322.4L712.5 323.9L713.0 322.7L713.5 323.7L714.0 322.8L714.5 324.0L715.0 323.0L715.5 323.9L716.0 322.7L716.5 324.0L717.0 322.8L717.5 323.8L718.0 322.6L718.5 324.1L719.0 322.7L719.5 324.3L720.0 322.6L720.5 324.4L721.0 323.5L721.5 326.1L722.0 325.9L722.5 328.3L723.0 327.7L723.5 329.8L724.0 329.8L724.5 332.1L725.0 332.0L725.5 334.4L726.0 334.0L726.5 336.4L727.0 336.4L727.5 339.3L728.0 338.3L728.5 341.1L729.0 341.2L729.5 343.0L730.0 343.3L730.5 345.5L731.0 345.1L731.5 347.1L732.0 346.6L732.5 349.3L733.0 348.9L733.5 350.8L734.0 350.5L734.5 352.3L735.0 352.0L735.5 354.3L736.0 353.0L736.5 354.9L737.0 353.9L737.5 355.2L738.0 354.4L738.5 355.5L739.0 354.5L739.5 355.6L740.0 354.7L740.5 355.6L741.0 354.8L741.5 355.9L742.0 354.8L742.5 355.8L743.0 354.4L743.5 355.3L744.0 353.8L744.5 355.4L745.0 354.0L745.5 354.8L746.0 353.7L746.5 354.5L747.0 353.3L747.5 354.5L748.0 353.0L748.5 353.8L749.0 352.2L749.5 353.4L750.0 352.4L750.5 353.6L751.0 351.6L751.5 353.3L752.0 352.0L752.5 353.7L753.0 351.8L753.5 352.9L754.0 351.8L754.5 353.1L755.0 351.7L755.5 353.0L756.0 351.9L756.5 353.2L757.0 351.5L757.5 353.0L758.0 352.8L758.5 352.8L759.0 351.9L759.5 352.7L760.0 351.5L760.5 352.5L761.0 351.1L761.5 351.9L762.0 350.5L762.5 351.1L763.0 349.6L763.5 350.3L764.0 349.0L764.5 349.4L765.0 347.8L765.5 347.7L766.0 347.2L766.5 348.2L767.0 346.4L767.5 347.5L768.0 346.4L768.5 347.4L769.0 345.9L769.5 346.8L770.0 345.8L770.5 346.7L771.0 345.3L771.5 346.4L772.0 345.1L772.5 346.3L773.0 345.1L773.5 345.9L774.0 345.0L774.5 345.8L775.0 344.2L775.5 345.5L776.0 344.3L776.5 345.5L777.0 343.7L777.5 345.4L778.0 344.0L778.5 344.9L779.0 343.2L779.5 344.7L780.0 343.7L780.5 344.6L781.0 343.7L781.5 344.5L782.0 343.0L782.5 344.9L783.0 343.1L783.5 344.1L784.0 343.1L784.5 343.8L785.0 343.0L785.5 344.1L786.0 342.5L786.5 343.7L787.0 342.7L787.5 343.7L788.0 342.4L788.5 343.8L789.0 342.3L789.5 343.2L790.0 342.2L790.5 342.9L791.0 342.1L791.5 342.8L792.0 341.7L792.5 342.7L793.0 341.6L793.5 342.6L794.0 341.5L794.5 342.6L795.0 341.3L795.5 342.4L796.0 341.1L796.5 342.6L797.0 340.9L797.5 342.1L798.0 340.4L798.5 341.7L799.0 340.9L799.5 341.6L800.0 340.6L800.5 341.8L801.0 340.4L801.5 341.2L802.0 339.7L802.5 340.9L803.0 339.5L803.5 340.8L804.0 339.8L804.5 340.6L805.0 339.3L805.5 340.3L806.0 339.3L806.5 340.2L807.0 338.9L807.5 339.8L808.0 338.4L808.5 339.4L809.0 338.1L809.5 339.2L810.0 338.4L810.5 339.1L811.0 337.8L811.5 339.3L812.0 338.1L812.5 339.3L813.0 338.0L813.5 338.9L814.0 337.7L814.5 338.6L815.0 337.4L815.5 338.7L816.0 337.4L816.5 338.6L817.0 337.2L817.5 338.2L818.0 336.9L818.5 337.9L819.0 336.5L819.5 337.8L820.0 336.6L820.5 337.6L821.0 336.7L821.5 337.4L822.0 336.3L822.5 337.3L823.0 336.3L823.5 337.1L824.0 336.3L824.5 337.3L825.0 335.8L825.5 337.0L826.0 336.1L826.5 337.3L827.0 335.8L827.5 337.1L828.0 336.0L828.5 336.8L829.0 335.6L829.5 336.8L830.0 335.8L830.5 336.7L831.0 335.7L831.5 337.1L832.0 335.7L832.5 336.6L833.0 335.6L833.5 336.5L834.0 335.1L834.5 336.2L835.0 334.8L835.5 336.6L836.0 335.0L836.5 336.1L837.0 335.3L837.5 336.4L838.0 335.3L838.5 336.1L839.0 334.9L839.5 336.3L840.0 335.4L840.5 336.3L841.0 335.2L841.5 336.6L842.0 335.2L842.5 336.2L843.0 335.1L843.5 336.1L844.0 335.1L844.5 336.0L845.0 335.2L845.5 336.2L846.0 335.0L846.5 335.7L847.0 334.7L847.5 335.7L848.0 334.7L848.5 335.7L849.0 334.4L849.5 335.6L850.0 334.3L850.5 335.4L851.0 334.4L851.5 335.3L852.0 334.4L852.5 335.3L853.0 334.2L853.5 335.3L854.0 334.1L854.5 335.3L855.0 334.2L855.5 335.2L856.0 334.0L856.5 335.4L857.0 334.2L857.5 335.2L858.0 333.9L858.5 335.2L859.0 333.7L859.5 335.0L860.0 333.9L860.5 335.1L861.0 333.6L861.5 334.6L862.0 333.7L862.5 334.7L863.0 333.2L863.5 334.5L864.0 333.5L864.5 334.3L865.0 333.0L865.5 334.2L866.0 333.0L866.5 334.3L867.0 333.0L867.5 334.1L868.0 333.3L868.5 334.0L869.0 332.9L869.5 334.0L870.0 332.8L870.5 334.2L871.0 332.7L871.5 334.0L872.0 332.7L872.5 334.0L873.0 332.7L873.5 334.0L874.0 333.0L874.5 334.2L875.0 332.5L875.5 333.6L876.0 332.6L876.5 333.7L877.0 332.4L877.5 333.4L878.0 332.6L878.5 333.3L879.0 332.4L879.5 333.4L880.0 332.6L880.5 333.3L881.0 332.4L881.5 333.9L882.0 332.4L882.5 333.7L883.0 332.3L883.5 333.4L884.0 332.4L884.5 333.1L885.0 332.2L885.5 333.2L886.0 332.2L886.5 333.3L887.0 332.0L887.5 333.0L888.0 331.7L888.5 332.9L889.0 331.5L889.5 333.0L890.0 331.5L890.5 333.1L891.0 331.4L891.5 332.6L892.0 331.5L892.5 332.5L893.0 331.4L893.5 333.0L894.0 331.1L894.5 332.7L895.0 331.3L895.5 333.0L896.0 331.6L896.5 332.9L897.0 330.8L897.5 333.4L898.0 331.6L898.5 332.7L899.0 331.3L899.5 332.6L900.0 331.3L900.5 332.4L901.0 331.2L901.5 332.4L902.0 331.5L902.5 332.8L903.0 331.5L903.5 332.5L904.0 331.1L904.5 332.6L905.0 331.1L905.5 332.3L906.0 330.7L906.5 332.2L907.0 331.1L907.5 332.1L908.0 331.2L908.5 332.4L909.0 331.1L909.5 332.1L910.0 331.2L910.5 332.2L911.0 331.0L911.5 332.3L912.0 331.0L912.5 332.0L913.0 331.2L913.5 332.3L914.0 331.1L914.5 332.3L915.0 331.1L915.5 332.2L916.0 332.2L916.5 331.8L917.0 330.7L917.5 332.0L918.0 330.5L918.5 332.2L919.0 330.6L919.5 331.7L920.0 330.7L920.5 331.6L921.0 330.7L921.5 331.9L922.0 330.4L922.5 331.9L923.0 330.6L923.5 331.7L924.0 330.9L924.5 331.7L925.0 330.7L925.5 331.7L926.0 330.5L926.5 331.9L927.0 330.7L927.5 332.3L928.0 330.8L928.5 331.9L929.0 330.5L929.5 331.7L930.0 330.6L930.5 331.8L931.0 330.4L931.5 331.7L932.0 330.4L932.5 331.3L933.0 330.4L933.5 331.7L934.0 330.5L934.5 331.4L935.0 330.3L935.5 331.5L936.0 330.1L936.5 331.5L937.0 330.5L937.5 331.6L938.0 330.5L938.5 331.5L939.0 330.3L939.5 331.5L940.0 330.5L940.5 331.3L941.0 330.0L941.5 331.7L942.0 330.6L942.5 331.6L943.0 330.5L943.5 331.3L944.0 330.1L944.5 331.3L945.0 330.0L945.5 331.4L946.0 329.9L946.5 331.4L947.0 330.2L947.5 331.6L948.0 329.6L948.5 331.1L949.0 330.1L949.5 331.6L950.0 329.7L950.5 331.1L951.0 330.3L951.5 331.1L952.0 330.2L952.5 331.4L953.0 331.7L953.5 331.1L954.0 330.4L954.5 331.5L955.0 329.9L955.5 331.5L956.0 330.0L956.5 331.7L957.0 330.3L957.5 331.3L958.0 329.8L958.5 331.2L959.0 330.0L959.5 330.9L960.0 329.9L960.5 331.1L961.0 329.9L961.5 331.4L962.0 330.0L962.5 331.1L963.0 329.9L963.5 330.9L964.0 330.0L964.5 330.9L965.0 329.4L965.5 331.3L966.0 329.8L966.5 330.9L967.0 329.8L967.5 331.0L968.0 329.7L968.5 331.1L969.0 330.1L969.5 331.4L970.0 330.2L970.5 331.0L971.0 329.8L971.5 331.1L972.0 329.9L972.5 331.2L973.0 330.0L973.5 330.9L974.0 329.8L974.5 330.9L975.0 329.7L975.5 331.1L976.0 329.4L976.5 330.7L977.0 330.0L977.5 331.0L978.0 329.8L978.5 331.3L979.0 329.9L979.5 331.2L980.0 329.8L980.5 331.0L981.0 330.0L981.5 331.0L982.0 329.9L982.5 331.0L983.0 329.9L983.5 331.3L984.0 330.0L984.5 331.1L985.0 329.7L985.5 331.1L986.0 329.9L986.5 331.2L987.0 330.1L987.5 331.2L988.0 329.8L988.5 330.8L989.0 329.4L989.5 330.9L990.0 329.6L990.5 331.0L991.0 329.9L991.5 330.9L992.0 329.7L992.5 330.7L993.0 329.4L993.5 331.3L994.0 329.9L994.5 330.8L995.0 329.7L995.5 331.0L996.0 330.0L996.5 331.1L997.0 329.5L997.5 330.9L998.0 329.0L998.5 330.7L999.0 329.8L999.5 330.9L1000.0 329.9L1000.5 330.8L1001.0 329.9L1001.5 330.6L1002.0 329.8L1002.5 330.6L1003.0 329.8L1003.5 330.8L1004.0 329.5L1004.5 331.0L1005.0 329.4L1005.5 330.6L1006.0 329.5L1006.5 330.8L1007.0 329.8L1007.5 330.7L1008.0 329.3L1008.5 331.3L1009.0 330.0L1009.5 330.8L1010.0 329.7L1010.5 331.3L1011.0 329.9L1011.5 330.8L1012.0 329.8L1012.5 331.1L1013.0 329.5L1013.5 330.7L1014.0 329.4L1014.5 330.7L1015.0 329.5L1015.5 330.7L1016.0 329.8L1016.5 330.5L1017.0 329.6L1017.5 331.1L1018.0 329.4L1018.5 330.5L1019.0 329.4L1019.5 330.6L1020.0 329.7L1020.5 330.6L1021.0 329.7L1021.5 330.8L1022.0 329.5L1022.5 331.0L1023.0 329.9L1023.5 330.8L1024.0 329.9L1024.5 331.0L1025.0 329.9L1025.5 330.8L1026.0 329.3L1026.5 330.9L1027.0 329.6L1027.5 330.7L1028.0 329.3L1028.5 330.9L1029.0 329.8L1029.5 330.8L1030.0 329.8L1030.5 330.5L1031.0 329.4L1031.5 330.6L1032.0 329.7L1032.5 330.8L1033.0 329.3L1033.5 330.6L1034.0 329.4L1034.5 330.5L1035.0 329.7L1035.5 330.8L1036.0 329.6L1036.5 330.6L1037.0 329.6L1037.5 330.9L1038.0 329.3L1038.5 331.0L1039.0 329.9L1039.5 331.1L1040.0 329.6L1040.5 330.8L1041.0 329.9L1041.5 330.7L1042.0 329.9L1042.5 330.7L1043.0 329.5L1043.5 330.6L1044.0 329.7L1044.5 330.9L1045.0 329.6L1045.5 330.7L1046.0 329.6L1046.5 330.4L1047.0 329.4L1047.5 330.9L1048.0 329.5L1048.5 330.8L1049.0 329.5L1049.5 330.8L1050.0 329.7L1050.5 331.2L1051.0 329.5L1051.5 330.7L1052.0 329.6L1052.5 330.8L1053.0 329.9L1053.5 330.8L1054.0 329.8L1054.5 330.8L1055.0 329.9L1055.5 330.9L1056.0 329.9L1056.5 330.6L1057.0 329.6L1057.5 331.1L1058.0 329.5L1058.5 330.8L1059.0 329.5L1059.5 330.9L1060.0 329.5L1060.5 330.5L1061.0 329.7L1061.5 330.6L1062.0 329.7L1062.5 331.1L1063.0 329.0L1063.5 330.8L1064.0 329.8L1064.5 330.9L1065.0 329.6L1065.5 330.9L1066.0 329.7L1066.5 330.8L1067.0 329.8L1067.5 330.8L1068.0 329.5L1068.5 330.9L1069.0 329.1L1069.5 330.9L1070.0 329.6L1070.5 330.7L1071.0 329.5L1071.5 331.0L1072.0 329.2L1072.5 330.5L1073.0 329.7L1073.5 330.5L1074.0 329.3L1074.5 330.9L1075.0 329.5L1075.5 330.6L1076.0 329.6L1076.5 330.4L1077.0 329.5L1077.5 330.5L1078.0 329.1L1078.5 330.5L1079.0 329.5L1079.5 331.0L1080.0 329.7L1080.5 330.8L1081.0 329.6L1081.5 330.8L1082.0 329.8L1082.5 330.7L1083.0 329.7L1083.5 330.5L1084.0 329.5L1084.5 330.5L1085.0 328.8L1085.5 330.6L1086.0 329.6L1086.5 330.6L1087.0 329.6L1087.5 330.3L1088.0 329.4L1088.5 330.8L1089.0 329.4L1089.5 330.5L1090.0 329.5L1090.5 330.4L1091.0 329.5L1091.5 330.4L1092.0 329.6L1092.5 330.8L1093.0 329.7L1093.5 330.9L1094.0 329.8L1094.5 331.1L1095.0 329.9L1095.5 330.7L1096.0 329.9L1096.5 331.3L1097.0 330.0L1097.5 330.7L1098.0 329.7L1098.5 330.8L1099.0 329.7L1099.5 330.6L1100.0 329.7L1100.5 331.0L1101.0 329.6L1101.5 330.6L1102.0 329.6L1102.5 330.8L1103.0 329.6L1103.5 330.6L1104.0 329.9L1104.5 330.6L1105.0 329.8L1105.5 331.0L1106.0 329.9L1106.5 330.9L1107.0 329.7L1107.5 331.0L1108.0 329.9L1108.5 330.7L1109.0 329.9L1109.5 330.8L1110.0 329.6L1110.5 331.2L1111.0 329.9L1111.5 330.9L1112.0 329.7L1112.5 330.8L1113.0 329.6L1113.5 330.8L1114.0 329.5L1114.5 330.5L1115.0 329.7L1115.5 330.6L1116.0 329.4L1116.5 330.9L1117.0 329.3L1117.5 330.4L1118.0 329.7L1118.5 330.5L1119.0 329.7L1119.5 330.8L1120.0 329.8L1120.5 330.7L1121.0 329.2L1121.5 330.8L1122.0 329.4L1122.5 330.9L1123.0 329.2L1123.5 330.8L1124.0 329.8" stroke="#008a00" stroke-width="2.2" fill="none" stroke-linejoin="round"/>
<path d="M719.5 256.5v4.6M719.5 376.5v-4.6M854.5 256.5v4.6M854.5 376.5v-4.6M989.5 256.5v4.6M989.5 376.5v-4.6M652.5 256.5h4.6M1124.5 256.5h-4.6M652.5 296.5h4.6M1124.5 296.5h-4.6M652.5 336.5h4.6M1124.5 336.5h-4.6M652.5 376.5h4.6M1124.5 376.5h-4.6" stroke="#262626" stroke-width="1" fill="none"/>
<rect x="652.5" y="256.5" width="472" height="120" fill="none" stroke="#262626" stroke-width="1"/>
<text transform="translate(111.2 0) rotate(-90)" font-size="20"><tspan x="-343" font-style="italic">x</tspan><tspan font-size="14.5" dy="3.2">2</tspan><tspan x="-316.5" dy="-3.2" textLength="25.7" lengthAdjust="spacingAndGlyphs">(V)</tspan></text>
<path d="M218.5 392.5V511.5M352.5 392.5V511.5M487.5 392.5V511.5M151.5 432.5H621.5M151.5 472.5H621.5" stroke="#e0e0e0" stroke-width="1" fill="none"/>
<path d="M151.0 469.8L151.5 469.8L152.0 470.1L152.5 469.7L153.0 470.0L153.5 469.7L154.0 470.2L154.5 470.0L155.0 470.2L155.5 469.9L156.0 470.1L156.5 470.0L157.0 469.9L157.5 470.0L158.0 469.8L158.5 469.9L159.0 470.1L159.5 470.0L160.0 469.9L160.5 470.3L161.0 470.0L161.5 469.9L162.0 470.0L162.5 469.9L163.0 469.9L163.5 469.9L164.0 470.3L164.5 470.0L165.0 470.0L165.5 470.1L166.0 470.3L166.5 470.0L167.0 469.9L167.5 470.4L168.0 469.8L168.5 469.9L169.0 470.1L169.5 470.3L170.0 469.9L170.5 469.6L171.0 470.1L171.5 469.9L172.0 469.9L172.5 470.1L173.0 470.0L173.5 470.0L174.0 469.9L174.5 470.2L175.0 470.2L175.5 470.0L176.0 469.9L176.5 470.1L177.0 470.1L177.5 469.8L178.0 469.9L178.5 470.2L179.0 470.0L179.5 470.0L180.0 470.0L180.5 470.0L181.0 470.0L181.5 469.7L182.0 470.3L182.5 470.0L183.0 469.9L183.5 470.1L184.0 470.0L184.5 470.0L185.0 470.2L185.5 470.3L186.0 470.1L186.5 470.2L187.0 470.3L187.5 469.8L188.0 469.9L188.5 470.1L189.0 469.7L189.5 470.0L190.0 470.2L190.5 470.2L191.0 470.1L191.5 469.7L192.0 470.4L192.5 470.1L193.0 470.1L193.5 470.1L194.0 469.7L194.5 469.8L195.0 469.8L195.5 470.3L196.0 469.9L196.5 470.0L197.0 470.0L197.5 470.1L198.0 470.1L198.5 470.0L199.0 469.8L199.5 469.5L200.0 470.0L200.5 470.0L201.0 470.2L201.5 470.0L202.0 469.9L202.5 470.1L203.0 469.8L203.5 469.8L204.0 469.8L204.5 470.0L205.0 470.3L205.5 470.1L206.0 470.2L206.5 470.0L207.0 470.0L207.5 469.9L208.0 470.0L208.5 469.6L209.0 469.8L209.5 469.8L210.0 470.1L210.5 470.1L211.0 470.2L211.5 470.2L212.0 470.0L212.5 470.2L213.0 470.3L213.5 470.0L214.0 470.2L214.5 470.0L215.0 469.8L215.5 470.0L216.0 469.9L216.5 470.0L217.0 469.9L217.5 470.0L218.0 469.7L218.5 442.3L219.0 439.9L219.5 438.5L220.0 438.0L220.5 438.0L221.0 437.6L221.5 436.5L222.0 435.2L222.5 433.3L223.0 432.1L223.5 431.4L224.0 430.4L224.5 429.4L225.0 428.8L225.5 428.2L226.0 427.7L226.5 427.7L227.0 427.2L227.5 427.4L228.0 427.2L228.5 426.9L229.0 427.0L229.5 427.4L230.0 426.9L230.5 426.9L231.0 427.2L231.5 427.0L232.0 427.0L232.5 427.2L233.0 426.7L233.5 427.0L234.0 426.8L234.5 426.7L235.0 426.8L235.5 427.1L236.0 426.9L236.5 426.6L237.0 426.7L237.5 427.1L238.0 427.1L238.5 426.7L239.0 427.3L239.5 426.8L240.0 426.7L240.5 426.9L241.0 427.0L241.5 427.1L242.0 427.1L242.5 426.8L243.0 426.8L243.5 426.7L244.0 426.9L244.5 426.8L245.0 426.9L245.5 426.7L246.0 426.8L246.5 426.8L247.0 426.7L247.5 426.7L248.0 426.8L248.5 426.7L249.0 427.0L249.5 426.9L250.0 426.7L250.5 427.0L251.0 427.0L251.5 427.2L252.0 426.9L252.5 426.9L253.0 426.9L253.5 427.0L254.0 427.0L254.5 427.0L255.0 426.9L255.5 427.1L256.0 427.0L256.5 427.0L257.0 426.9L257.5 427.0L258.0 426.9L258.5 426.9L259.0 427.0L259.5 427.4L260.0 427.2L260.5 427.0L261.0 427.0L261.5 427.2L262.0 427.3L262.5 427.3L263.0 427.0L263.5 427.1L264.0 427.0L264.5 427.1L265.0 427.0L265.5 427.1L266.0 426.8L266.5 426.9L267.0 427.2L267.5 427.0L268.0 427.2L268.5 427.0L269.0 427.1L269.5 427.2L270.0 427.0L270.5 427.1L271.0 427.6L271.5 427.1L272.0 427.1L272.5 427.1L273.0 427.2L273.5 427.2L274.0 427.4L274.5 427.4L275.0 427.2L275.5 427.2L276.0 427.0L276.5 427.0L277.0 427.2L277.5 427.4L278.0 427.3L278.5 427.4L279.0 427.5L279.5 427.3L280.0 427.6L280.5 427.3L281.0 427.2L281.5 427.3L282.0 427.5L282.5 427.3L283.0 427.3L283.5 427.4L284.0 427.6L284.5 427.4L285.0 427.4L285.5 427.6L286.0 427.6L286.5 427.6L287.0 427.3L287.5 427.5L288.0 427.5L288.5 427.2L289.0 427.6L289.5 427.5L290.0 427.4L290.5 427.8L291.0 427.5L291.5 427.4L292.0 427.5L292.5 427.6L293.0 427.6L293.5 427.5L294.0 427.4L294.5 427.4L295.0 427.4L295.5 427.4L296.0 427.6L296.5 427.5L297.0 427.6L297.5 427.4L298.0 427.4L298.5 427.6L299.0 427.5L299.5 427.8L300.0 427.5L300.5 427.6L301.0 427.6L301.5 427.4L302.0 427.7L302.5 427.7L303.0 427.3L303.5 427.7L304.0 427.8L304.5 427.5L305.0 427.9L305.5 427.7L306.0 427.5L306.5 427.8L307.0 427.6L307.5 427.5L308.0 427.4L308.5 427.7L309.0 427.6L309.5 427.8L310.0 427.8L310.5 427.6L311.0 427.6L311.5 428.0L312.0 428.0L312.5 427.9L313.0 427.7L313.5 427.6L314.0 427.7L314.5 428.0L315.0 427.8L315.5 427.7L316.0 427.6L316.5 427.8L317.0 427.7L317.5 427.8L318.0 427.9L318.5 428.0L319.0 427.8L319.5 427.8L320.0 427.9L320.5 428.1L321.0 427.9L321.5 427.6L322.0 428.1L322.5 427.9L323.0 428.4L323.5 427.8L324.0 427.9L324.5 427.8L325.0 427.9L325.5 427.8L326.0 427.7L326.5 427.6L327.0 427.9L327.5 427.8L328.0 427.8L328.5 428.3L329.0 428.1L329.5 428.1L330.0 427.9L330.5 428.0L331.0 427.9L331.5 427.9L332.0 428.1L332.5 428.1L333.0 428.0L333.5 428.0L334.0 427.8L334.5 427.9L335.0 428.1L335.5 428.0L336.0 427.9L336.5 428.1L337.0 427.9L337.5 427.9L338.0 428.2L338.5 428.0L339.0 428.3L339.5 428.1L340.0 428.2L340.5 428.2L341.0 427.7L341.5 428.1L342.0 427.9L342.5 428.0L343.0 428.1L343.5 428.3L344.0 428.1L344.5 428.4L345.0 428.0L345.5 428.1L346.0 428.1L346.5 428.3L347.0 428.1L347.5 428.0L348.0 428.1L348.5 427.9L349.0 428.3L349.5 428.3L350.0 428.2L350.5 428.2L351.0 428.1L351.5 428.1L352.0 428.3L352.5 428.1L353.0 428.1L353.5 428.4L354.0 428.4L354.5 428.3L355.0 428.3L355.5 428.2L356.0 428.4L356.5 428.2L357.0 428.2L357.5 428.3L358.0 428.5L358.5 428.2L359.0 428.3L359.5 428.2L360.0 428.2L360.5 428.2L361.0 428.3L361.5 428.4L362.0 428.2L362.5 428.2L363.0 428.2L363.5 428.3L364.0 428.4L364.5 428.1L365.0 428.4L365.5 428.2L366.0 428.4L366.5 428.2L367.0 428.2L367.5 428.2L368.0 428.3L368.5 428.2L369.0 428.4L369.5 428.4L370.0 428.3L370.5 428.4L371.0 428.5L371.5 428.2L372.0 428.3L372.5 428.3L373.0 428.0L373.5 428.4L374.0 428.2L374.5 428.3L375.0 428.3L375.5 428.4L376.0 428.4L376.5 428.4L377.0 428.3L377.5 428.5L378.0 428.4L378.5 428.3L379.0 428.4L379.5 428.5L380.0 428.4L380.5 428.5L381.0 428.4L381.5 428.6L382.0 428.7L382.5 428.5L383.0 428.2L383.5 428.7L384.0 428.3L384.5 428.2L385.0 428.0L385.5 428.5L386.0 428.6L386.5 428.5L387.0 428.3L387.5 428.6L388.0 428.4L388.5 428.3L389.0 428.4L389.5 428.4L390.0 428.4L390.5 428.5L391.0 428.1L391.5 428.6L392.0 428.3L392.5 428.5L393.0 428.3L393.5 428.4L394.0 428.4L394.5 428.2L395.0 428.5L395.5 428.5L396.0 428.2L396.5 428.1L397.0 428.3L397.5 428.3L398.0 428.4L398.5 428.4L399.0 428.6L399.5 428.5L400.0 428.4L400.5 428.4L401.0 428.0L401.5 428.3L402.0 428.3L402.5 428.4L403.0 428.4L403.5 428.4L404.0 428.5L404.5 428.3L405.0 428.4L405.5 428.4L406.0 428.4L406.5 428.4L407.0 428.4L407.5 428.4L408.0 428.4L408.5 428.6L409.0 428.4L409.5 428.4L410.0 428.8L410.5 428.5L411.0 428.5L411.5 428.6L412.0 428.2L412.5 428.5L413.0 428.5L413.5 428.5L414.0 428.5L414.5 428.5L415.0 428.6L415.5 428.3L416.0 428.5L416.5 428.3L417.0 428.6L417.5 428.4L418.0 428.2L418.5 428.4L419.0 428.2L419.5 428.5L420.0 428.3L420.5 428.1L421.0 428.3L421.5 428.6L422.0 428.4L422.5 428.3L423.0 428.5L423.5 428.5L424.0 428.6L424.5 428.5L425.0 428.5L425.5 428.3L426.0 428.4L426.5 428.4L427.0 428.4L427.5 428.5L428.0 428.2L428.5 428.5L429.0 428.4L429.5 428.5L430.0 428.4L430.5 428.4L431.0 428.4L431.5 428.5L432.0 428.4L432.5 428.4L433.0 428.3L433.5 428.5L434.0 428.4L434.5 428.2L435.0 428.6L435.5 428.3L436.0 428.4L436.5 428.2L437.0 428.1L437.5 428.5L438.0 428.2L438.5 428.1L439.0 428.4L439.5 428.2L440.0 428.4L440.5 428.7L441.0 428.3L441.5 428.5L442.0 428.5L442.5 428.4L443.0 428.4L443.5 428.6L444.0 428.4L444.5 428.5L445.0 428.4L445.5 428.2L446.0 428.4L446.5 428.4L447.0 428.5L447.5 428.5L448.0 428.6L448.5 428.1L449.0 428.3L449.5 428.3L450.0 428.3L450.5 427.2L451.0 428.4L451.5 428.3L452.0 428.4L452.5 428.2L453.0 428.5L453.5 428.5L454.0 428.3L454.5 428.5L455.0 428.0L455.5 428.3L456.0 428.5L456.5 428.3L457.0 428.6L457.5 428.4L458.0 428.3L458.5 428.5L459.0 428.3L459.5 428.3L460.0 428.3L460.5 428.5L461.0 428.5L461.5 428.2L462.0 428.5L462.5 428.2L463.0 428.6L463.5 428.5L464.0 428.4L464.5 428.3L465.0 428.2L465.5 426.9L466.0 428.4L466.5 428.4L467.0 428.2L467.5 428.4L468.0 428.1L468.5 428.5L469.0 428.4L469.5 428.4L470.0 428.4L470.5 428.4L471.0 428.4L471.5 428.4L472.0 428.6L472.5 428.1L473.0 428.7L473.5 428.4L474.0 428.7L474.5 428.6L475.0 428.5L475.5 428.1L476.0 428.3L476.5 428.4L477.0 428.4L477.5 428.2L478.0 428.2L478.5 428.6L479.0 428.3L479.5 428.3L480.0 428.6L480.5 428.3L481.0 428.5L481.5 428.5L482.0 428.7L482.5 428.6L483.0 428.5L483.5 428.6L484.0 428.3L484.5 428.3L485.0 428.2L485.5 428.4L486.0 428.7L486.5 428.6L487.0 428.5L487.5 428.5L488.0 428.3L488.5 428.5L489.0 428.4L489.5 428.5L490.0 428.3L490.5 428.4L491.0 428.2L491.5 428.6L492.0 427.2L492.5 428.1L493.0 428.3L493.5 428.5L494.0 428.3L494.5 428.4L495.0 428.5L495.5 428.3L496.0 428.5L496.5 428.3L497.0 428.4L497.5 428.5L498.0 428.4L498.5 428.3L499.0 428.8L499.5 428.4L500.0 428.5L500.5 428.4L501.0 428.0L501.5 429.7L502.0 428.7L502.5 428.4L503.0 428.6L503.5 428.7L504.0 428.5L504.5 428.4L505.0 428.5L505.5 428.5L506.0 428.4L506.5 428.6L507.0 428.2L507.5 428.3L508.0 428.5L508.5 428.3L509.0 428.6L509.5 428.5L510.0 428.6L510.5 428.4L511.0 428.8L511.5 428.6L512.0 428.6L512.5 428.4L513.0 427.2L513.5 428.3L514.0 428.4L514.5 428.2L515.0 428.3L515.5 429.5L516.0 428.5L516.5 428.1L517.0 428.7L517.5 428.4L518.0 428.4L518.5 428.5L519.0 428.3L519.5 428.5L520.0 428.4L520.5 428.4L521.0 428.4L521.5 428.3L522.0 428.3L522.5 428.4L523.0 428.3L523.5 428.4L524.0 428.5L524.5 429.8L525.0 428.5L525.5 428.4L526.0 428.4L526.5 428.5L527.0 428.3L527.5 428.4L528.0 428.3L528.5 428.7L529.0 428.7L529.5 426.8L530.0 428.4L530.5 428.3L531.0 428.7L531.5 428.4L532.0 428.2L532.5 428.2L533.0 428.5L533.5 429.7L534.0 428.3L534.5 428.4L535.0 428.3L535.5 428.3L536.0 428.3L536.5 428.5L537.0 428.3L537.5 428.2L538.0 428.3L538.5 428.4L539.0 428.3L539.5 428.5L540.0 428.6L540.5 428.4L541.0 428.4L541.5 428.3L542.0 428.3L542.5 428.6L543.0 429.8L543.5 428.5L544.0 428.3L544.5 428.3L545.0 428.1L545.5 428.5L546.0 428.6L546.5 427.2L547.0 428.3L547.5 428.2L548.0 428.6L548.5 428.4L549.0 428.2L549.5 428.5L550.0 428.3L550.5 428.2L551.0 428.4L551.5 428.3L552.0 428.6L552.5 428.1L553.0 428.3L553.5 428.5L554.0 428.5L554.5 428.3L555.0 428.2L555.5 428.5L556.0 428.3L556.5 428.3L557.0 428.3L557.5 428.3L558.0 428.5L558.5 428.7L559.0 429.8L559.5 428.3L560.0 428.2L560.5 428.4L561.0 428.3L561.5 428.3L562.0 428.4L562.5 428.5L563.0 428.5L563.5 428.3L564.0 428.5L564.5 428.4L565.0 428.6L565.5 428.5L566.0 428.8L566.5 428.5L567.0 428.4L567.5 428.3L568.0 428.4L568.5 428.4L569.0 428.4L569.5 428.4L570.0 428.6L570.5 428.3L571.0 428.5L571.5 429.8L572.0 428.3L572.5 428.2L573.0 428.5L573.5 428.5L574.0 428.3L574.5 428.4L575.0 428.3L575.5 428.5L576.0 428.4L576.5 428.4L577.0 428.5L577.5 428.6L578.0 428.6L578.5 428.2L579.0 428.5L579.5 428.2L580.0 428.5L580.5 428.2L581.0 428.3L581.5 428.3L582.0 428.6L582.5 428.5L583.0 428.4L583.5 428.2L584.0 428.3L584.5 428.2L585.0 428.3L585.5 428.2L586.0 428.6L586.5 428.3L587.0 429.6L587.5 428.4L588.0 428.1L588.5 428.4L589.0 428.2L589.5 428.7L590.0 428.0L590.5 428.6L591.0 427.1L591.5 428.2L592.0 428.5L592.5 428.2L593.0 428.3L593.5 428.3L594.0 428.4L594.5 428.2L595.0 428.4L595.5 428.4L596.0 428.4L596.5 428.4L597.0 428.5L597.5 428.5L598.0 428.4L598.5 428.7L599.0 428.3L599.5 427.0L600.0 428.2L600.5 428.3L601.0 428.3L601.5 428.6L602.0 428.4L602.5 428.2L603.0 428.4L603.5 428.7L604.0 428.7L604.5 428.4L605.0 428.1L605.5 428.5L606.0 428.7L606.5 428.4L607.0 428.5L607.5 428.2L608.0 428.4L608.5 428.4L609.0 428.4L609.5 428.5L610.0 428.4L610.5 429.7L611.0 428.5L611.5 428.4L612.0 428.4L612.5 428.3L613.0 428.6L613.5 428.6L614.0 428.4L614.5 428.6L615.0 428.5L615.5 428.3L616.0 428.2L616.5 428.5L617.0 428.1L617.5 428.3L618.0 428.5L618.5 428.6L619.0 428.7L619.5 428.5L620.0 428.2L620.5 428.2L621.0 428.3" stroke="#000080" stroke-width="2.2" fill="none" stroke-linejoin="round"/>
<path d="M218.5 392.5v4.6M218.5 511.5v-4.6M352.5 392.5v4.6M352.5 511.5v-4.6M487.5 392.5v4.6M487.5 511.5v-4.6M151.5 392.5h4.6M621.5 392.5h-4.6M151.5 432.5h4.6M621.5 432.5h-4.6M151.5 472.5h4.6M621.5 472.5h-4.6M151.5 511.5h4.6M621.5 511.5h-4.6" stroke="#262626" stroke-width="1" fill="none"/>
<rect x="151.5" y="392.5" width="470" height="119" fill="none" stroke="#262626" stroke-width="1"/>
<text x="145.4" y="397.0" text-anchor="end" font-size="18.5">40</text>
<text x="145.4" y="437.0" text-anchor="end" font-size="18.5">30</text>
<text x="145.4" y="477.0" text-anchor="end" font-size="18.5">20</text>
<text x="145.4" y="516.0" text-anchor="end" font-size="18.5">10</text>
<path d="M719.5 392.5V511.5M854.5 392.5V511.5M989.5 392.5V511.5M652.5 432.5H1124.5M652.5 472.5H1124.5" stroke="#e0e0e0" stroke-width="1" fill="none"/>
<path d="M652.0 470.7L652.5 474.3L653.0 470.1L653.5 474.2L654.0 471.5L654.5 475.4L655.0 472.6L655.5 476.8L656.0 471.9L656.5 477.0L657.0 472.2L657.5 472.8L658.0 468.7L658.5 475.1L659.0 471.4L659.5 475.1L660.0 470.7L660.5 474.5L661.0 470.3L661.5 474.5L662.0 471.0L662.5 476.0L663.0 471.6L663.5 475.1L664.0 471.8L664.5 475.2L665.0 470.0L665.5 474.8L666.0 470.8L666.5 474.0L667.0 469.8L667.5 473.5L668.0 469.3L668.5 473.9L669.0 469.9L669.5 473.1L670.0 469.1L670.5 473.7L671.0 471.2L671.5 475.0L672.0 473.6L672.5 474.2L673.0 470.7L673.5 475.1L674.0 471.0L674.5 475.0L675.0 470.9L675.5 475.1L676.0 471.7L676.5 476.6L677.0 468.7L677.5 475.9L678.0 471.7L678.5 475.9L679.0 470.6L679.5 476.2L680.0 472.1L680.5 476.0L681.0 471.8L681.5 476.2L682.0 468.9L682.5 476.0L683.0 471.7L683.5 474.8L684.0 469.9L684.5 474.4L685.0 470.5L685.5 474.3L686.0 469.1L686.5 473.7L687.0 470.3L687.5 475.7L688.0 470.9L688.5 474.8L689.0 469.5L689.5 472.9L690.0 470.2L690.5 473.9L691.0 470.8L691.5 474.2L692.0 470.7L692.5 474.6L693.0 471.2L693.5 474.9L694.0 471.4L694.5 475.8L695.0 472.2L695.5 475.1L696.0 471.8L696.5 476.3L697.0 471.3L697.5 476.0L698.0 471.2L698.5 476.4L699.0 472.5L699.5 476.3L700.0 472.1L700.5 475.3L701.0 471.0L701.5 475.5L702.0 472.3L702.5 474.8L703.0 472.2L703.5 475.1L704.0 470.5L704.5 475.3L705.0 472.7L705.5 475.9L706.0 470.7L706.5 474.2L707.0 471.5L707.5 474.9L708.0 471.4L708.5 475.1L709.0 471.6L709.5 475.1L710.0 471.3L710.5 474.6L711.0 470.2L711.5 475.0L712.0 471.5L712.5 474.4L713.0 470.4L713.5 474.5L714.0 471.0L714.5 475.5L715.0 470.9L715.5 475.0L716.0 470.6L716.5 474.8L717.0 470.5L717.5 474.8L718.0 469.1L718.5 474.5L719.0 470.6L719.5 474.2L720.0 464.1L720.5 459.2L721.0 446.7L721.5 447.1L722.0 441.8L722.5 445.0L723.0 439.7L723.5 445.1L724.0 438.0L724.5 443.0L725.0 438.2L725.5 442.0L726.0 437.0L726.5 439.3L727.0 435.6L727.5 442.4L728.0 434.6L728.5 438.2L729.0 434.1L729.5 438.0L730.0 432.2L730.5 435.5L731.0 430.9L731.5 436.1L732.0 430.5L732.5 435.8L733.0 430.6L733.5 436.0L734.0 432.2L734.5 437.0L735.0 432.8L735.5 436.7L736.0 431.5L736.5 437.6L737.0 434.4L737.5 437.8L738.0 434.4L738.5 437.1L739.0 435.5L739.5 438.0L740.0 433.6L740.5 439.4L741.0 433.8L741.5 438.0L742.0 435.0L742.5 439.5L743.0 435.0L743.5 437.6L744.0 433.8L744.5 437.2L745.0 432.1L745.5 437.2L746.0 432.7L746.5 436.4L747.0 432.1L747.5 435.4L748.0 429.7L748.5 434.1L749.0 430.0L749.5 433.9L750.0 430.2L750.5 433.0L751.0 429.5L751.5 432.1L752.0 427.7L752.5 431.3L753.0 427.1L753.5 431.8L754.0 428.5L754.5 433.2L755.0 429.0L755.5 433.4L756.0 428.6L756.5 431.7L757.0 428.4L757.5 432.0L758.0 428.9L758.5 433.7L759.0 428.8L759.5 432.8L760.0 429.6L760.5 433.6L761.0 429.0L761.5 433.6L762.0 429.8L762.5 433.8L763.0 431.1L763.5 435.4L764.0 431.7L764.5 436.2L765.0 432.4L765.5 436.3L766.0 432.5L766.5 437.0L767.0 430.9L767.5 436.2L768.0 432.0L768.5 435.2L769.0 431.3L769.5 436.4L770.0 431.6L770.5 435.2L771.0 432.2L771.5 436.2L772.0 431.7L772.5 435.2L773.0 432.0L773.5 435.5L774.0 430.5L774.5 434.5L775.0 430.1L775.5 433.4L776.0 429.9L776.5 436.5L777.0 429.3L777.5 432.4L778.0 429.2L778.5 432.0L779.0 427.2L779.5 433.3L780.0 429.2L780.5 433.5L781.0 429.5L781.5 433.5L782.0 426.3L782.5 434.2L783.0 429.1L783.5 432.7L784.0 429.4L784.5 433.0L785.0 429.3L785.5 433.9L786.0 429.1L786.5 433.8L787.0 429.3L787.5 434.0L788.0 430.4L788.5 433.1L789.0 429.6L789.5 434.1L790.0 430.2L790.5 433.6L791.0 430.3L791.5 433.8L792.0 430.2L792.5 433.5L793.0 429.5L793.5 434.3L794.0 434.1L794.5 434.9L795.0 430.3L795.5 434.8L796.0 430.3L796.5 434.3L797.0 430.1L797.5 434.5L798.0 431.2L798.5 435.0L799.0 430.1L799.5 435.2L800.0 431.1L800.5 435.2L801.0 430.4L801.5 434.0L802.0 430.7L802.5 434.5L803.0 429.9L803.5 433.7L804.0 430.2L804.5 434.2L805.0 428.1L805.5 433.6L806.0 429.9L806.5 433.1L807.0 429.4L807.5 433.2L808.0 429.3L808.5 433.3L809.0 428.8L809.5 432.8L810.0 429.5L810.5 433.2L811.0 430.0L811.5 433.6L812.0 429.9L812.5 433.6L813.0 428.4L813.5 432.6L814.0 429.4L814.5 433.6L815.0 428.4L815.5 433.3L816.0 429.8L816.5 433.5L817.0 429.2L817.5 434.5L818.0 430.3L818.5 434.1L819.0 430.5L819.5 434.1L820.0 429.7L820.5 433.9L821.0 429.9L821.5 433.6L822.0 429.7L822.5 434.0L823.0 427.3L823.5 432.7L824.0 429.5L824.5 433.8L825.0 429.6L825.5 432.0L826.0 428.4L826.5 433.6L827.0 429.2L827.5 432.9L828.0 429.9L828.5 433.3L829.0 429.5L829.5 433.0L830.0 430.0L830.5 433.4L831.0 429.4L831.5 433.8L832.0 430.1L832.5 433.6L833.0 429.3L833.5 433.9L834.0 430.1L834.5 434.3L835.0 430.4L835.5 434.4L836.0 431.1L836.5 434.3L837.0 430.1L837.5 435.0L838.0 429.9L838.5 434.3L839.0 430.7L839.5 435.1L840.0 430.4L840.5 434.7L841.0 429.8L841.5 435.3L842.0 431.3L842.5 434.3L843.0 430.2L843.5 434.1L844.0 430.3L844.5 434.4L845.0 430.2L845.5 433.6L846.0 427.7L846.5 432.1L847.0 428.5L847.5 432.8L848.0 429.3L848.5 433.8L849.0 430.3L849.5 433.3L850.0 429.8L850.5 433.5L851.0 430.2L851.5 435.5L852.0 431.1L852.5 435.2L853.0 430.7L853.5 433.9L854.0 430.4L854.5 435.7L855.0 432.4L855.5 435.3L856.0 432.0L856.5 435.3L857.0 431.4L857.5 436.3L858.0 431.0L858.5 434.8L859.0 430.9L859.5 434.5L860.0 428.7L860.5 436.2L861.0 431.7L861.5 434.3L862.0 431.4L862.5 435.2L863.0 430.9L863.5 434.1L864.0 431.2L864.5 434.0L865.0 430.5L865.5 434.8L866.0 430.8L866.5 434.4L867.0 429.6L867.5 433.7L868.0 429.8L868.5 433.6L869.0 429.4L869.5 433.3L870.0 429.2L870.5 433.6L871.0 430.2L871.5 433.7L872.0 429.5L872.5 434.2L873.0 430.5L873.5 435.2L874.0 430.4L874.5 435.4L875.0 431.4L875.5 434.8L876.0 431.0L876.5 434.7L877.0 430.5L877.5 434.6L878.0 430.6L878.5 434.4L879.0 430.5L879.5 433.7L880.0 431.3L880.5 434.2L881.0 429.4L881.5 432.9L882.0 429.2L882.5 433.6L883.0 429.4L883.5 431.5L884.0 430.0L884.5 433.1L885.0 428.5L885.5 433.7L886.0 431.7L886.5 434.9L887.0 431.1L887.5 434.7L888.0 429.3L888.5 434.0L889.0 430.3L889.5 434.2L890.0 429.0L890.5 434.3L891.0 428.8L891.5 435.4L892.0 430.4L892.5 435.5L893.0 431.7L893.5 434.8L894.0 430.0L894.5 435.0L895.0 430.7L895.5 434.5L896.0 431.2L896.5 435.0L897.0 430.7L897.5 433.9L898.0 431.4L898.5 435.2L899.0 430.3L899.5 434.9L900.0 431.2L900.5 434.9L901.0 431.2L901.5 435.0L902.0 429.1L902.5 433.3L903.0 429.8L903.5 434.2L904.0 430.1L904.5 434.1L905.0 430.6L905.5 433.3L906.0 429.7L906.5 433.0L907.0 429.2L907.5 433.0L908.0 429.4L908.5 433.0L909.0 428.5L909.5 432.2L910.0 429.8L910.5 435.0L911.0 429.6L911.5 433.4L912.0 430.4L912.5 434.5L913.0 431.0L913.5 432.8L914.0 431.1L914.5 434.7L915.0 431.0L915.5 434.5L916.0 430.9L916.5 435.2L917.0 432.0L917.5 434.6L918.0 430.7L918.5 433.8L919.0 430.9L919.5 436.4L920.0 431.1L920.5 435.4L921.0 431.6L921.5 435.6L922.0 431.0L922.5 435.5L923.0 430.5L923.5 435.1L924.0 431.4L924.5 434.7L925.0 429.7L925.5 433.3L926.0 427.2L926.5 431.2L927.0 429.3L927.5 434.8L928.0 430.6L928.5 433.8L929.0 430.1L929.5 433.2L930.0 429.9L930.5 434.1L931.0 430.2L931.5 434.1L932.0 431.0L932.5 435.2L933.0 431.1L933.5 434.8L934.0 431.6L934.5 436.0L935.0 431.5L935.5 437.5L936.0 433.8L936.5 435.1L937.0 432.7L937.5 436.3L938.0 431.0L938.5 436.2L939.0 433.2L939.5 436.4L940.0 432.2L940.5 435.7L941.0 431.7L941.5 434.5L942.0 430.9L942.5 435.0L943.0 430.4L943.5 435.0L944.0 431.1L944.5 435.3L945.0 429.0L945.5 436.3L946.0 429.3L946.5 434.1L947.0 430.3L947.5 434.6L948.0 430.3L948.5 434.3L949.0 431.1L949.5 434.0L950.0 430.9L950.5 434.7L951.0 430.8L951.5 435.4L952.0 431.9L952.5 435.5L953.0 430.9L953.5 435.1L954.0 430.1L954.5 435.3L955.0 431.7L955.5 434.8L956.0 431.3L956.5 435.2L957.0 432.0L957.5 436.0L958.0 430.7L958.5 435.2L959.0 428.8L959.5 438.0L960.0 431.9L960.5 437.0L961.0 434.5L961.5 434.8L962.0 431.8L962.5 435.2L963.0 429.9L963.5 435.9L964.0 432.3L964.5 435.9L965.0 432.0L965.5 434.5L966.0 431.1L966.5 434.7L967.0 429.7L967.5 435.1L968.0 429.3L968.5 433.7L969.0 428.7L969.5 433.9L970.0 428.1L970.5 433.4L971.0 430.5L971.5 434.3L972.0 429.8L972.5 433.8L973.0 430.4L973.5 434.8L974.0 429.8L974.5 434.2L975.0 430.4L975.5 437.4L976.0 430.8L976.5 434.4L977.0 430.2L977.5 434.1L978.0 430.6L978.5 432.7L979.0 431.0L979.5 434.3L980.0 430.8L980.5 435.2L981.0 430.4L981.5 434.9L982.0 431.2L982.5 436.0L983.0 430.9L983.5 434.8L984.0 431.2L984.5 435.2L985.0 430.6L985.5 436.0L986.0 430.4L986.5 434.8L987.0 431.0L987.5 434.5L988.0 430.0L988.5 434.7L989.0 431.1L989.5 435.7L990.0 430.9L990.5 434.2L991.0 431.0L991.5 434.6L992.0 430.8L992.5 436.3L993.0 431.5L993.5 435.1L994.0 431.6L994.5 435.8L995.0 431.9L995.5 435.5L996.0 433.0L996.5 436.8L997.0 432.7L997.5 437.0L998.0 433.1L998.5 437.1L999.0 430.1L999.5 436.0L1000.0 431.5L1000.5 435.7L1001.0 432.1L1001.5 436.5L1002.0 431.7L1002.5 434.9L1003.0 430.4L1003.5 434.5L1004.0 431.0L1004.5 434.5L1005.0 430.3L1005.5 434.5L1006.0 430.7L1006.5 434.3L1007.0 430.5L1007.5 433.7L1008.0 430.5L1008.5 434.3L1009.0 430.5L1009.5 433.9L1010.0 430.0L1010.5 433.7L1011.0 430.3L1011.5 434.0L1012.0 431.7L1012.5 434.5L1013.0 431.3L1013.5 436.1L1014.0 431.4L1014.5 436.4L1015.0 432.0L1015.5 435.5L1016.0 431.4L1016.5 437.1L1017.0 430.5L1017.5 435.3L1018.0 432.2L1018.5 434.8L1019.0 431.8L1019.5 435.5L1020.0 432.1L1020.5 435.9L1021.0 432.5L1021.5 435.3L1022.0 431.8L1022.5 435.1L1023.0 430.6L1023.5 434.9L1024.0 431.3L1024.5 435.5L1025.0 431.1L1025.5 434.9L1026.0 430.9L1026.5 434.3L1027.0 430.7L1027.5 435.3L1028.0 431.6L1028.5 434.9L1029.0 430.7L1029.5 435.5L1030.0 432.1L1030.5 435.9L1031.0 432.6L1031.5 435.6L1032.0 431.9L1032.5 435.5L1033.0 430.8L1033.5 436.5L1034.0 432.6L1034.5 437.1L1035.0 431.5L1035.5 436.0L1036.0 433.5L1036.5 435.6L1037.0 432.6L1037.5 435.7L1038.0 432.1L1038.5 436.0L1039.0 432.3L1039.5 435.3L1040.0 431.2L1040.5 436.2L1041.0 433.5L1041.5 434.2L1042.0 431.0L1042.5 434.9L1043.0 430.6L1043.5 433.7L1044.0 430.2L1044.5 433.9L1045.0 427.1L1045.5 434.4L1046.0 430.3L1046.5 435.1L1047.0 432.0L1047.5 433.5L1048.0 429.2L1048.5 433.6L1049.0 429.9L1049.5 433.3L1050.0 429.7L1050.5 434.8L1051.0 430.4L1051.5 432.3L1052.0 431.3L1052.5 434.9L1053.0 430.5L1053.5 435.4L1054.0 430.8L1054.5 434.5L1055.0 431.8L1055.5 434.8L1056.0 430.4L1056.5 435.4L1057.0 431.4L1057.5 435.3L1058.0 431.4L1058.5 434.8L1059.0 431.1L1059.5 433.8L1060.0 430.6L1060.5 434.5L1061.0 430.9L1061.5 434.9L1062.0 431.6L1062.5 435.2L1063.0 429.7L1063.5 435.4L1064.0 430.5L1064.5 433.0L1065.0 429.2L1065.5 433.2L1066.0 429.3L1066.5 434.5L1067.0 429.8L1067.5 434.8L1068.0 429.2L1068.5 433.4L1069.0 429.6L1069.5 433.4L1070.0 429.9L1070.5 437.0L1071.0 431.2L1071.5 434.5L1072.0 431.1L1072.5 436.4L1073.0 431.8L1073.5 437.5L1074.0 432.0L1074.5 436.3L1075.0 430.6L1075.5 435.1L1076.0 431.6L1076.5 435.7L1077.0 433.2L1077.5 436.7L1078.0 434.2L1078.5 435.8L1079.0 431.9L1079.5 436.4L1080.0 432.7L1080.5 436.9L1081.0 432.6L1081.5 436.2L1082.0 431.6L1082.5 436.2L1083.0 431.0L1083.5 435.3L1084.0 431.2L1084.5 437.7L1085.0 431.1L1085.5 434.4L1086.0 431.6L1086.5 436.3L1087.0 431.8L1087.5 435.2L1088.0 430.4L1088.5 434.5L1089.0 431.5L1089.5 435.5L1090.0 431.8L1090.5 436.0L1091.0 432.1L1091.5 435.2L1092.0 431.5L1092.5 435.8L1093.0 431.6L1093.5 435.5L1094.0 431.4L1094.5 435.4L1095.0 431.1L1095.5 434.6L1096.0 431.4L1096.5 434.7L1097.0 430.7L1097.5 433.9L1098.0 430.3L1098.5 435.0L1099.0 431.2L1099.5 434.8L1100.0 431.7L1100.5 435.0L1101.0 431.5L1101.5 435.3L1102.0 431.6L1102.5 435.1L1103.0 431.0L1103.5 434.1L1104.0 430.6L1104.5 434.5L1105.0 431.6L1105.5 436.2L1106.0 431.0L1106.5 435.0L1107.0 431.5L1107.5 434.2L1108.0 431.0L1108.5 435.4L1109.0 430.5L1109.5 435.3L1110.0 431.0L1110.5 434.5L1111.0 431.1L1111.5 435.7L1112.0 430.2L1112.5 434.4L1113.0 430.5L1113.5 434.9L1114.0 431.5L1114.5 436.2L1115.0 431.4L1115.5 435.3L1116.0 429.4L1116.5 435.0L1117.0 431.4L1117.5 434.6L1118.0 430.7L1118.5 434.5L1119.0 430.8L1119.5 435.6L1120.0 430.9L1120.5 435.4L1121.0 431.6L1121.5 432.8L1122.0 430.6L1122.5 434.1L1123.0 428.9L1123.5 434.6L1124.0 430.2" stroke="#000080" stroke-width="2.0" fill="none" stroke-linejoin="round"/>
<path d="M719.5 392.5v4.6M719.5 511.5v-4.6M854.5 392.5v4.6M854.5 511.5v-4.6M989.5 392.5v4.6M989.5 511.5v-4.6M652.5 392.5h4.6M1124.5 392.5h-4.6M652.5 432.5h4.6M1124.5 432.5h-4.6M652.5 472.5h4.6M1124.5 472.5h-4.6M652.5 511.5h4.6M1124.5 511.5h-4.6" stroke="#262626" stroke-width="1" fill="none"/>
<rect x="652.5" y="392.5" width="472" height="119" fill="none" stroke="#262626" stroke-width="1"/>
<text transform="translate(111.2 0) rotate(-90)" font-size="20"><tspan x="-480.1" font-style="italic">P</tspan><tspan x="-456.8" textLength="31.5" lengthAdjust="spacingAndGlyphs">(W)</tspan></text>
<text y="534" font-size="20"><tspan x="330.9" textLength="28.2" lengthAdjust="spacingAndGlyphs">100</tspan> <tspan x="366.6" textLength="75" lengthAdjust="spacingAndGlyphs">(ms/div)</tspan></text>
<text y="534" font-size="20"><tspan x="833.5" textLength="28.2" lengthAdjust="spacingAndGlyphs">100</tspan> <tspan x="869.2" textLength="75" lengthAdjust="spacingAndGlyphs">(ms/div)</tspan></text>
<path d="M218.5 613.5V731.5M352.5 613.5V731.5M487.5 613.5V731.5M151.5 652.5H621.5M151.5 691.5H621.5" stroke="#e0e0e0" stroke-width="1" fill="none"/>
<path d="M151.0 694.7L151.5 694.8L152.0 694.6L152.5 694.8L153.0 694.7L153.5 694.7L154.0 694.9L154.5 694.7L155.0 694.7L155.5 694.8L156.0 694.8L156.5 694.7L157.0 694.8L157.5 694.6L158.0 694.7L158.5 694.7L159.0 694.6L159.5 694.5L160.0 694.5L160.5 694.7L161.0 694.7L161.5 694.7L162.0 694.7L162.5 694.6L163.0 694.7L163.5 694.7L164.0 694.8L164.5 694.6L165.0 694.7L165.5 694.5L166.0 694.6L166.5 694.5L167.0 694.6L167.5 694.8L168.0 694.5L168.5 694.8L169.0 694.7L169.5 694.7L170.0 694.7L170.5 694.8L171.0 694.8L171.5 694.7L172.0 694.6L172.5 694.6L173.0 694.6L173.5 694.7L174.0 694.6L174.5 694.8L175.0 694.5L175.5 694.6L176.0 694.6L176.5 694.5L177.0 694.9L177.5 694.5L178.0 694.7L178.5 694.6L179.0 694.9L179.5 694.5L180.0 694.8L180.5 694.6L181.0 694.7L181.5 694.6L182.0 694.8L182.5 694.6L183.0 694.7L183.5 694.7L184.0 694.9L184.5 694.5L185.0 694.9L185.5 694.8L186.0 694.7L186.5 694.7L187.0 694.7L187.5 694.9L188.0 694.7L188.5 694.7L189.0 694.7L189.5 694.7L190.0 694.7L190.5 694.6L191.0 694.9L191.5 694.5L192.0 694.3L192.5 694.7L193.0 694.7L193.5 694.7L194.0 694.7L194.5 694.7L195.0 694.7L195.5 694.8L196.0 694.7L196.5 694.7L197.0 694.9L197.5 694.8L198.0 694.6L198.5 694.9L199.0 694.8L199.5 694.6L200.0 694.6L200.5 694.7L201.0 694.6L201.5 694.6L202.0 694.6L202.5 694.6L203.0 694.8L203.5 694.7L204.0 694.6L204.5 694.8L205.0 694.7L205.5 694.8L206.0 694.8L206.5 694.7L207.0 694.7L207.5 694.7L208.0 694.6L208.5 694.8L209.0 694.8L209.5 694.7L210.0 694.7L210.5 694.7L211.0 694.6L211.5 694.6L212.0 694.7L212.5 694.6L213.0 694.7L213.5 694.5L214.0 694.7L214.5 694.7L215.0 694.6L215.5 694.5L216.0 694.7L216.5 694.8L217.0 694.6L217.5 694.7L218.0 694.4L218.5 694.1L219.0 693.1L219.5 692.3L220.0 690.8L220.5 689.6L221.0 688.1L221.5 686.7L222.0 685.2L222.5 683.9L223.0 682.5L223.5 681.2L224.0 679.8L224.5 678.3L225.0 677.0L225.5 675.7L226.0 674.2L226.5 672.8L227.0 671.4L227.5 670.1L228.0 668.7L228.5 667.2L229.0 666.0L229.5 664.6L230.0 663.2L230.5 662.0L231.0 660.6L231.5 659.2L232.0 657.9L232.5 656.6L233.0 655.2L233.5 653.9L234.0 652.7L234.5 651.2L235.0 650.2L235.5 649.1L236.0 648.0L236.5 646.8L237.0 646.0L237.5 645.1L238.0 644.4L238.5 643.8L239.0 643.2L239.5 642.6L240.0 642.2L240.5 642.0L241.0 641.5L241.5 641.3L242.0 641.1L242.5 640.8L243.0 640.8L243.5 640.4L244.0 640.5L244.5 640.0L245.0 639.9L245.5 640.1L246.0 640.0L246.5 639.8L247.0 639.7L247.5 639.5L248.0 639.6L248.5 639.5L249.0 639.5L249.5 639.6L250.0 639.5L250.5 639.6L251.0 639.5L251.5 639.5L252.0 639.7L252.5 639.7L253.0 639.9L253.5 639.8L254.0 640.1L254.5 639.9L255.0 640.2L255.5 640.1L256.0 640.5L256.5 640.4L257.0 640.5L257.5 640.7L258.0 640.6L258.5 640.7L259.0 640.7L259.5 641.2L260.0 641.1L260.5 641.2L261.0 641.4L261.5 641.7L262.0 641.4L262.5 641.7L263.0 641.7L263.5 641.9L264.0 641.8L264.5 642.0L265.0 642.3L265.5 642.4L266.0 642.5L266.5 642.4L267.0 642.6L267.5 642.6L268.0 642.6L268.5 642.7L269.0 643.0L269.5 643.0L270.0 643.1L270.5 643.3L271.0 643.2L271.5 643.4L272.0 643.5L272.5 643.5L273.0 643.7L273.5 643.7L274.0 643.8L274.5 643.9L275.0 644.2L275.5 644.0L276.0 644.2L276.5 644.3L277.0 644.3L277.5 644.5L278.0 644.4L278.5 644.7L279.0 644.5L279.5 644.7L280.0 644.8L280.5 644.9L281.0 645.0L281.5 645.1L282.0 645.1L282.5 645.1L283.0 645.3L283.5 645.3L284.0 645.3L284.5 645.6L285.0 645.6L285.5 645.5L286.0 645.7L286.5 645.6L287.0 645.7L287.5 645.9L288.0 645.8L288.5 646.0L289.0 646.0L289.5 646.2L290.0 646.2L290.5 646.3L291.0 646.2L291.5 646.4L292.0 646.6L292.5 646.6L293.0 646.4L293.5 646.8L294.0 646.8L294.5 646.8L295.0 647.0L295.5 646.8L296.0 647.0L296.5 647.2L297.0 647.3L297.5 647.3L298.0 647.1L298.5 647.1L299.0 647.4L299.5 647.3L300.0 647.5L300.5 647.4L301.0 647.7L301.5 647.7L302.0 647.8L302.5 647.8L303.0 647.8L303.5 647.8L304.0 648.0L304.5 648.0L305.0 648.1L305.5 648.0L306.0 648.3L306.5 648.2L307.0 648.4L307.5 648.4L308.0 648.3L308.5 648.2L309.0 648.6L309.5 648.5L310.0 648.6L310.5 648.6L311.0 648.7L311.5 648.6L312.0 648.7L312.5 648.7L313.0 648.8L313.5 648.6L314.0 649.0L314.5 649.0L315.0 648.9L315.5 649.0L316.0 649.1L316.5 649.2L317.0 649.2L317.5 649.4L318.0 649.3L318.5 649.2L319.0 649.3L319.5 649.5L320.0 649.4L320.5 649.6L321.0 649.7L321.5 649.7L322.0 649.7L322.5 649.7L323.0 649.7L323.5 649.7L324.0 649.7L324.5 649.7L325.0 649.8L325.5 649.8L326.0 649.8L326.5 650.0L327.0 650.1L327.5 650.0L328.0 650.2L328.5 650.2L329.0 650.3L329.5 650.2L330.0 650.1L330.5 650.4L331.0 650.4L331.5 650.4L332.0 650.4L332.5 650.6L333.0 650.4L333.5 650.6L334.0 650.5L334.5 650.4L335.0 650.6L335.5 650.8L336.0 650.5L336.5 650.8L337.0 650.7L337.5 650.7L338.0 650.8L338.5 650.9L339.0 650.8L339.5 650.9L340.0 651.0L340.5 651.1L341.0 650.9L341.5 651.2L342.0 651.3L342.5 651.3L343.0 651.0L343.5 651.2L344.0 651.0L344.5 651.3L345.0 651.3L345.5 651.2L346.0 651.2L346.5 651.4L347.0 651.4L347.5 651.3L348.0 651.4L348.5 651.2L349.0 651.4L349.5 651.5L350.0 651.6L350.5 651.7L351.0 651.5L351.5 651.4L352.0 651.7L352.5 651.6L353.0 651.7L353.5 651.8L354.0 651.8L354.5 651.9L355.0 651.9L355.5 651.7L356.0 651.8L356.5 652.1L357.0 651.9L357.5 652.0L358.0 651.9L358.5 651.9L359.0 652.2L359.5 652.1L360.0 652.0L360.5 652.2L361.0 652.0L361.5 652.0L362.0 652.2L362.5 652.2L363.0 652.1L363.5 652.3L364.0 652.3L364.5 652.4L365.0 652.4L365.5 652.3L366.0 652.3L366.5 652.3L367.0 652.3L367.5 652.5L368.0 652.6L368.5 652.6L369.0 652.5L369.5 652.4L370.0 652.6L370.5 652.5L371.0 652.5L371.5 652.4L372.0 652.5L372.5 652.7L373.0 652.5L373.5 652.5L374.0 652.6L374.5 652.8L375.0 652.8L375.5 652.7L376.0 652.7L376.5 652.7L377.0 652.7L377.5 652.8L378.0 652.8L378.5 652.7L379.0 652.8L379.5 652.8L380.0 652.8L380.5 652.8L381.0 653.0L381.5 653.1L382.0 652.9L382.5 652.9L383.0 653.0L383.5 653.0L384.0 652.9L384.5 653.2L385.0 652.9L385.5 653.0L386.0 653.0L386.5 653.0L387.0 653.1L387.5 653.2L388.0 653.3L388.5 653.2L389.0 653.2L389.5 653.0L390.0 653.2L390.5 653.1L391.0 653.2L391.5 653.3L392.0 653.3L392.5 653.2L393.0 653.2L393.5 653.3L394.0 653.3L394.5 653.2L395.0 653.3L395.5 653.4L396.0 653.2L396.5 653.3L397.0 653.3L397.5 653.6L398.0 653.5L398.5 653.5L399.0 653.5L399.5 653.5L400.0 653.5L400.5 653.3L401.0 653.5L401.5 653.6L402.0 653.4L402.5 653.6L403.0 653.6L403.5 653.4L404.0 653.5L404.5 653.5L405.0 653.5L405.5 653.6L406.0 653.5L406.5 653.6L407.0 653.7L407.5 653.7L408.0 653.7L408.5 653.6L409.0 653.8L409.5 653.5L410.0 653.8L410.5 653.7L411.0 653.6L411.5 653.7L412.0 653.6L412.5 653.6L413.0 653.7L413.5 653.7L414.0 653.9L414.5 653.7L415.0 653.7L415.5 653.7L416.0 654.0L416.5 653.8L417.0 653.8L417.5 653.8L418.0 653.8L418.5 653.9L419.0 653.9L419.5 654.0L420.0 654.0L420.5 653.9L421.0 653.9L421.5 653.9L422.0 653.7L422.5 653.9L423.0 654.0L423.5 653.9L424.0 654.0L424.5 653.9L425.0 654.1L425.5 654.0L426.0 654.0L426.5 654.1L427.0 653.8L427.5 654.0L428.0 654.0L428.5 654.2L429.0 654.1L429.5 654.0L430.0 654.2L430.5 654.0L431.0 654.2L431.5 654.0L432.0 654.1L432.5 654.0L433.0 654.2L433.5 653.9L434.0 654.2L434.5 654.1L435.0 654.2L435.5 654.1L436.0 654.2L436.5 654.2L437.0 654.3L437.5 654.2L438.0 654.3L438.5 654.3L439.0 654.2L439.5 654.1L440.0 654.1L440.5 654.3L441.0 654.2L441.5 654.4L442.0 654.3L442.5 654.2L443.0 654.4L443.5 654.5L444.0 654.3L444.5 654.2L445.0 654.2L445.5 654.4L446.0 654.3L446.5 654.3L447.0 654.4L447.5 654.3L448.0 654.4L448.5 654.3L449.0 654.3L449.5 654.4L450.0 654.4L450.5 654.4L451.0 654.3L451.5 654.4L452.0 654.4L452.5 654.4L453.0 654.5L453.5 654.5L454.0 654.4L454.5 654.4L455.0 654.3L455.5 654.5L456.0 654.4L456.5 654.4L457.0 654.4L457.5 654.5L458.0 654.7L458.5 654.5L459.0 654.5L459.5 654.5L460.0 654.4L460.5 654.5L461.0 654.4L461.5 654.4L462.0 654.5L462.5 654.5L463.0 654.5L463.5 654.4L464.0 654.6L464.5 654.4L465.0 654.6L465.5 654.5L466.0 654.6L466.5 654.6L467.0 654.6L467.5 654.4L468.0 654.5L468.5 654.6L469.0 654.5L469.5 654.3L470.0 654.6L470.5 654.6L471.0 654.6L471.5 654.6L472.0 654.6L472.5 654.6L473.0 654.8L473.5 654.7L474.0 654.7L474.5 654.6L475.0 654.7L475.5 654.6L476.0 654.7L476.5 654.4L477.0 654.7L477.5 654.6L478.0 654.6L478.5 654.8L479.0 654.7L479.5 654.7L480.0 654.6L480.5 654.9L481.0 654.8L481.5 654.8L482.0 654.6L482.5 654.8L483.0 654.8L483.5 654.7L484.0 654.7L484.5 654.5L485.0 654.8L485.5 654.6L486.0 654.8L486.5 654.7L487.0 654.7L487.5 654.8L488.0 654.8L488.5 654.6L489.0 654.7L489.5 654.8L490.0 654.7L490.5 654.6L491.0 654.7L491.5 654.7L492.0 654.7L492.5 654.8L493.0 654.8L493.5 654.7L494.0 654.6L494.5 654.8L495.0 654.8L495.5 654.7L496.0 654.8L496.5 655.0L497.0 654.7L497.5 654.6L498.0 654.9L498.5 654.7L499.0 654.9L499.5 654.7L500.0 654.8L500.5 654.9L501.0 654.9L501.5 654.9L502.0 654.9L502.5 654.8L503.0 654.8L503.5 654.8L504.0 655.0L504.5 654.9L505.0 654.8L505.5 654.9L506.0 654.9L506.5 655.0L507.0 654.8L507.5 654.8L508.0 654.9L508.5 655.1L509.0 654.9L509.5 655.0L510.0 654.7L510.5 655.0L511.0 654.7L511.5 654.8L512.0 654.8L512.5 654.9L513.0 654.9L513.5 654.9L514.0 654.9L514.5 654.8L515.0 655.1L515.5 654.9L516.0 655.0L516.5 655.1L517.0 655.0L517.5 655.0L518.0 654.9L518.5 655.1L519.0 654.8L519.5 654.8L520.0 654.9L520.5 654.7L521.0 654.8L521.5 655.0L522.0 654.9L522.5 654.9L523.0 655.0L523.5 654.8L524.0 655.0L524.5 654.9L525.0 654.8L525.5 654.9L526.0 654.9L526.5 654.9L527.0 654.9L527.5 655.0L528.0 655.1L528.5 655.0L529.0 654.9L529.5 654.8L530.0 654.9L530.5 654.8L531.0 655.0L531.5 655.0L532.0 655.0L532.5 655.0L533.0 654.9L533.5 655.0L534.0 655.0L534.5 655.0L535.0 655.1L535.5 654.9L536.0 655.2L536.5 654.8L537.0 654.8L537.5 654.8L538.0 654.9L538.5 655.0L539.0 655.2L539.5 654.9L540.0 655.1L540.5 655.0L541.0 655.0L541.5 654.9L542.0 655.2L542.5 655.0L543.0 654.9L543.5 655.2L544.0 655.0L544.5 655.0L545.0 655.0L545.5 654.9L546.0 654.9L546.5 655.0L547.0 655.2L547.5 655.0L548.0 655.0L548.5 655.1L549.0 654.9L549.5 655.1L550.0 655.0L550.5 654.9L551.0 655.1L551.5 655.1L552.0 655.0L552.5 655.0L553.0 655.1L553.5 655.2L554.0 654.9L554.5 654.8L555.0 655.2L555.5 655.0L556.0 655.0L556.5 655.1L557.0 655.0L557.5 655.1L558.0 654.9L558.5 655.0L559.0 654.9L559.5 655.2L560.0 655.0L560.5 655.2L561.0 655.2L561.5 654.9L562.0 655.0L562.5 655.1L563.0 655.1L563.5 655.0L564.0 655.1L564.5 655.1L565.0 655.0L565.5 655.0L566.0 655.1L566.5 655.1L567.0 655.1L567.5 654.9L568.0 655.2L568.5 655.0L569.0 655.1L569.5 655.1L570.0 655.1L570.5 655.1L571.0 655.0L571.5 655.1L572.0 655.2L572.5 655.1L573.0 655.1L573.5 655.1L574.0 655.1L574.5 655.3L575.0 655.0L575.5 655.1L576.0 655.2L576.5 655.1L577.0 655.0L577.5 655.0L578.0 655.2L578.5 655.0L579.0 655.1L579.5 655.1L580.0 655.1L580.5 654.9L581.0 654.9L581.5 655.1L582.0 655.0L582.5 655.1L583.0 655.1L583.5 655.1L584.0 655.0L584.5 654.9L585.0 655.2L585.5 655.0L586.0 655.0L586.5 654.9L587.0 655.1L587.5 655.0L588.0 655.0L588.5 655.2L589.0 655.1L589.5 655.2L590.0 655.0L590.5 654.8L591.0 655.0L591.5 655.1L592.0 655.0L592.5 655.2L593.0 655.1L593.5 655.0L594.0 655.2L594.5 655.1L595.0 655.1L595.5 655.2L596.0 654.9L596.5 655.2L597.0 655.2L597.5 654.9L598.0 655.1L598.5 655.1L599.0 655.0L599.5 655.1L600.0 655.0L600.5 655.1L601.0 655.1L601.5 654.9L602.0 655.2L602.5 655.2L603.0 655.0L603.5 655.2L604.0 655.3L604.5 655.0L605.0 655.1L605.5 655.1L606.0 655.2L606.5 655.1L607.0 655.0L607.5 655.2L608.0 655.1L608.5 655.2L609.0 655.4L609.5 655.0L610.0 655.1L610.5 655.2L611.0 655.1L611.5 655.2L612.0 655.1L612.5 655.4L613.0 655.2L613.5 655.2L614.0 655.1L614.5 655.2L615.0 655.0L615.5 655.1L616.0 655.2L616.5 655.0L617.0 655.1L617.5 655.1L618.0 655.1L618.5 655.4L619.0 655.2L619.5 655.2L620.0 655.1L620.5 655.1L621.0 655.1" stroke="#880000" stroke-width="2.3" fill="none" stroke-linejoin="round"/>
<path d="M218.5 613.5v4.6M218.5 731.5v-4.6M352.5 613.5v4.6M352.5 731.5v-4.6M487.5 613.5v4.6M487.5 731.5v-4.6M151.5 613.5h4.6M621.5 613.5h-4.6M151.5 652.5h4.6M621.5 652.5h-4.6M151.5 691.5h4.6M621.5 691.5h-4.6M151.5 731.5h4.6M621.5 731.5h-4.6" stroke="#262626" stroke-width="1" fill="none"/>
<rect x="151.5" y="613.5" width="470" height="118" fill="none" stroke="#262626" stroke-width="1"/>
<text x="145.4" y="618.0" text-anchor="end" font-size="18.5">3</text>
<text x="145.4" y="657.0" text-anchor="end" font-size="18.5">2</text>
<text x="145.4" y="696.0" text-anchor="end" font-size="18.5">1</text>
<text x="145.4" y="736.0" text-anchor="end" font-size="18.5">0</text>
<path d="M719.5 613.5V731.5M854.5 613.5V731.5M989.5 613.5V731.5M652.5 652.5H1124.5M652.5 691.5H1124.5" stroke="#e0e0e0" stroke-width="1" fill="none"/>
<path d="M652.0 691.7L652.5 696.4L653.0 690.9L653.5 695.9L654.0 692.2L654.5 697.5L655.0 691.8L655.5 695.8L656.0 690.8L656.5 695.8L657.0 691.3L657.5 696.5L658.0 692.0L658.5 698.0L659.0 690.1L659.5 696.0L660.0 692.1L660.5 697.2L661.0 692.1L661.5 704.5L662.0 691.9L662.5 697.7L663.0 691.6L663.5 697.2L664.0 690.6L664.5 696.1L665.0 691.1L665.5 697.7L666.0 691.2L666.5 696.1L667.0 691.8L667.5 696.7L668.0 690.7L668.5 696.6L669.0 691.9L669.5 696.5L670.0 691.1L670.5 697.2L671.0 683.7L671.5 697.6L672.0 697.4L672.5 698.7L673.0 692.4L673.5 695.7L674.0 685.6L674.5 696.0L675.0 691.2L675.5 692.2L676.0 690.7L676.5 696.0L677.0 690.4L677.5 701.0L678.0 690.5L678.5 695.4L679.0 690.6L679.5 703.2L680.0 691.1L680.5 695.2L681.0 690.9L681.5 696.0L682.0 691.4L682.5 691.6L683.0 691.4L683.5 696.7L684.0 691.7L684.5 697.6L685.0 692.7L685.5 696.7L686.0 691.1L686.5 696.9L687.0 700.3L687.5 703.3L688.0 692.3L688.5 697.8L689.0 690.5L689.5 696.6L690.0 691.6L690.5 696.3L691.0 691.5L691.5 696.8L692.0 691.4L692.5 699.5L693.0 691.4L693.5 695.8L694.0 692.1L694.5 696.7L695.0 689.6L695.5 696.8L696.0 691.7L696.5 696.6L697.0 690.9L697.5 697.1L698.0 692.5L698.5 697.0L699.0 690.8L699.5 697.6L700.0 691.4L700.5 697.0L701.0 692.0L701.5 697.0L702.0 690.3L702.5 691.2L703.0 691.4L703.5 696.6L704.0 692.3L704.5 696.7L705.0 692.4L705.5 696.4L706.0 691.8L706.5 703.3L707.0 690.7L707.5 696.2L708.0 691.2L708.5 696.2L709.0 692.0L709.5 696.1L710.0 690.7L710.5 695.9L711.0 695.9L711.5 698.6L712.0 691.9L712.5 697.8L713.0 693.2L713.5 697.3L714.0 693.2L714.5 696.3L715.0 691.7L715.5 698.2L716.0 693.2L716.5 699.0L717.0 692.1L717.5 689.3L718.0 690.8L718.5 695.7L719.0 695.3L719.5 695.8L720.0 690.4L720.5 695.8L721.0 691.5L721.5 696.6L722.0 690.8L722.5 694.9L723.0 688.3L723.5 692.5L724.0 686.0L724.5 690.1L725.0 685.4L725.5 689.1L726.0 684.3L726.5 681.8L727.0 682.6L727.5 688.2L728.0 682.5L728.5 685.7L729.0 671.7L729.5 685.1L730.0 678.7L730.5 683.2L731.0 677.0L731.5 681.1L732.0 675.9L732.5 679.9L733.0 672.3L733.5 678.0L734.0 672.3L734.5 677.4L735.0 669.9L735.5 673.9L736.0 669.5L736.5 673.0L737.0 667.5L737.5 664.6L738.0 665.5L738.5 669.1L739.0 663.3L739.5 667.2L740.0 663.2L740.5 666.4L741.0 667.2L741.5 666.4L742.0 659.4L742.5 663.4L743.0 658.6L743.5 663.2L744.0 657.4L744.5 663.2L745.0 655.6L745.5 659.8L746.0 654.1L746.5 658.1L747.0 652.5L747.5 656.3L748.0 651.1L748.5 654.9L749.0 649.2L749.5 653.8L750.0 649.0L750.5 655.7L751.0 649.3L751.5 653.5L752.0 646.3L752.5 653.7L753.0 647.6L753.5 652.1L754.0 647.0L754.5 650.8L755.0 646.3L755.5 651.1L756.0 645.7L756.5 651.5L757.0 645.6L757.5 651.7L758.0 646.0L758.5 649.7L759.0 644.6L759.5 649.4L760.0 641.1L760.5 647.6L761.0 641.5L761.5 647.9L762.0 643.2L762.5 646.9L763.0 638.9L763.5 647.2L764.0 642.4L764.5 647.2L765.0 641.8L765.5 646.1L766.0 646.8L766.5 646.9L767.0 641.5L767.5 646.4L768.0 641.6L768.5 646.8L769.0 641.6L769.5 638.5L770.0 641.0L770.5 646.1L771.0 634.7L771.5 645.2L772.0 639.7L772.5 645.1L773.0 640.9L773.5 645.0L774.0 640.4L774.5 644.4L775.0 639.4L775.5 644.2L776.0 639.2L776.5 644.2L777.0 637.8L777.5 643.9L778.0 643.9L778.5 644.8L779.0 638.5L779.5 646.0L780.0 637.0L780.5 642.4L781.0 637.3L781.5 643.8L782.0 637.7L782.5 642.0L783.0 638.0L783.5 643.2L784.0 630.6L784.5 642.4L785.0 637.5L785.5 641.4L786.0 637.8L786.5 641.5L787.0 638.2L787.5 643.0L788.0 636.6L788.5 641.7L789.0 636.4L789.5 641.6L790.0 636.2L790.5 641.4L791.0 636.2L791.5 640.6L792.0 636.4L792.5 640.5L793.0 640.3L793.5 639.5L794.0 635.9L794.5 641.3L795.0 634.9L795.5 641.9L796.0 634.2L796.5 633.6L797.0 629.6L797.5 642.1L798.0 635.5L798.5 640.2L799.0 635.5L799.5 641.0L800.0 632.9L800.5 639.0L801.0 634.3L801.5 638.9L802.0 633.5L802.5 640.9L803.0 633.3L803.5 638.2L804.0 633.1L804.5 638.2L805.0 632.9L805.5 638.2L806.0 632.6L806.5 638.4L807.0 633.8L807.5 639.5L808.0 633.8L808.5 645.1L809.0 635.1L809.5 640.5L810.0 634.2L810.5 638.7L811.0 633.6L811.5 639.3L812.0 633.6L812.5 638.6L813.0 634.4L813.5 639.3L814.0 634.3L814.5 639.3L815.0 633.7L815.5 640.7L816.0 634.6L816.5 640.3L817.0 633.3L817.5 638.9L818.0 634.8L818.5 639.6L819.0 634.1L819.5 639.3L820.0 634.2L820.5 640.8L821.0 635.7L821.5 641.1L822.0 642.7L822.5 641.0L823.0 635.8L823.5 645.1L824.0 630.5L824.5 641.2L825.0 635.9L825.5 643.2L826.0 637.8L826.5 642.2L827.0 638.3L827.5 643.0L828.0 638.0L828.5 642.4L829.0 636.7L829.5 642.8L830.0 636.8L830.5 643.1L831.0 638.0L831.5 642.7L832.0 636.8L832.5 643.4L833.0 637.9L833.5 643.7L834.0 638.9L834.5 645.2L835.0 639.3L835.5 644.2L836.0 640.3L836.5 645.1L837.0 640.0L837.5 646.6L838.0 639.6L838.5 646.0L839.0 641.8L839.5 645.5L840.0 641.0L840.5 645.3L841.0 640.6L841.5 647.0L842.0 642.5L842.5 646.6L843.0 640.6L843.5 649.3L844.0 642.4L844.5 646.6L845.0 641.6L845.5 646.3L846.0 641.2L846.5 646.3L847.0 641.6L847.5 646.9L848.0 642.3L848.5 646.9L849.0 642.1L849.5 647.5L850.0 642.0L850.5 647.2L851.0 641.7L851.5 647.6L852.0 643.6L852.5 647.3L853.0 643.5L853.5 647.5L854.0 642.8L854.5 647.8L855.0 643.2L855.5 648.2L856.0 643.6L856.5 648.4L857.0 643.5L857.5 648.8L858.0 649.4L858.5 647.8L859.0 643.2L859.5 650.0L860.0 645.8L860.5 650.1L861.0 645.2L861.5 649.9L862.0 648.3L862.5 648.6L863.0 642.8L863.5 647.3L864.0 643.7L864.5 649.4L865.0 643.9L865.5 650.5L866.0 645.3L866.5 649.5L867.0 638.0L867.5 651.3L868.0 644.1L868.5 650.9L869.0 637.8L869.5 650.3L870.0 637.3L870.5 649.6L871.0 645.9L871.5 651.3L872.0 645.7L872.5 644.1L873.0 645.4L873.5 649.9L874.0 645.0L874.5 649.8L875.0 645.1L875.5 648.9L876.0 644.0L876.5 649.1L877.0 644.5L877.5 649.2L878.0 644.8L878.5 651.0L879.0 640.5L879.5 649.8L880.0 645.2L880.5 651.1L881.0 646.1L881.5 649.8L882.0 649.8L882.5 651.7L883.0 646.2L883.5 651.1L884.0 646.3L884.5 651.7L885.0 646.8L885.5 650.3L886.0 645.7L886.5 651.6L887.0 646.1L887.5 651.5L888.0 646.2L888.5 651.6L889.0 645.4L889.5 649.3L890.0 638.9L890.5 651.4L891.0 645.5L891.5 651.0L892.0 645.5L892.5 652.0L893.0 646.0L893.5 645.1L894.0 646.1L894.5 650.6L895.0 647.0L895.5 651.0L896.0 640.3L896.5 651.2L897.0 647.6L897.5 652.5L898.0 647.8L898.5 652.6L899.0 646.8L899.5 652.1L900.0 645.8L900.5 651.2L901.0 646.5L901.5 644.1L902.0 646.6L902.5 650.7L903.0 645.9L903.5 650.7L904.0 645.7L904.5 650.6L905.0 650.4L905.5 649.4L906.0 646.0L906.5 657.1L907.0 645.9L907.5 651.8L908.0 646.1L908.5 651.1L909.0 647.2L909.5 652.3L910.0 647.3L910.5 654.3L911.0 648.7L911.5 652.6L912.0 648.9L912.5 653.6L913.0 648.0L913.5 652.5L914.0 646.3L914.5 651.2L915.0 647.2L915.5 651.5L916.0 652.6L916.5 652.5L917.0 645.6L917.5 652.6L918.0 646.3L918.5 650.9L919.0 646.4L919.5 652.0L920.0 645.9L920.5 651.1L921.0 646.4L921.5 652.2L922.0 646.7L922.5 651.8L923.0 654.6L923.5 653.1L924.0 647.9L924.5 652.5L925.0 647.5L925.5 654.0L926.0 647.7L926.5 654.8L927.0 648.2L927.5 651.8L928.0 646.9L928.5 651.9L929.0 645.7L929.5 650.5L930.0 647.2L930.5 651.6L931.0 645.9L931.5 650.4L932.0 646.1L932.5 651.4L933.0 647.1L933.5 653.1L934.0 647.6L934.5 653.8L935.0 646.7L935.5 652.3L936.0 647.8L936.5 651.9L937.0 648.2L937.5 652.4L938.0 642.4L938.5 653.4L939.0 648.5L939.5 652.9L940.0 647.3L940.5 652.5L941.0 647.3L941.5 651.6L942.0 647.1L942.5 653.8L943.0 645.7L943.5 652.1L944.0 645.9L944.5 645.7L945.0 646.8L945.5 652.6L946.0 646.9L946.5 650.9L947.0 646.2L947.5 651.2L948.0 648.1L948.5 654.1L949.0 648.6L949.5 652.2L950.0 647.6L950.5 653.9L951.0 648.8L951.5 653.0L952.0 648.2L952.5 653.1L953.0 648.1L953.5 653.5L954.0 647.9L954.5 653.8L955.0 647.8L955.5 658.3L956.0 648.6L956.5 652.9L957.0 648.7L957.5 652.9L958.0 649.2L958.5 652.3L959.0 647.1L959.5 652.7L960.0 647.6L960.5 652.1L961.0 652.0L961.5 652.8L962.0 647.6L962.5 652.7L963.0 647.5L963.5 652.9L964.0 645.0L964.5 645.1L965.0 647.7L965.5 654.1L966.0 648.9L966.5 647.2L967.0 648.2L967.5 653.8L968.0 649.1L968.5 652.8L969.0 647.4L969.5 652.6L970.0 641.4L970.5 652.0L971.0 647.8L971.5 652.6L972.0 648.3L972.5 652.9L973.0 646.1L973.5 651.9L974.0 642.1L974.5 652.1L975.0 647.5L975.5 646.7L976.0 654.2L976.5 654.4L977.0 649.2L977.5 653.7L978.0 648.3L978.5 653.6L979.0 649.4L979.5 653.3L980.0 648.6L980.5 653.1L981.0 646.9L981.5 653.8L982.0 648.6L982.5 653.1L983.0 648.9L983.5 652.2L984.0 648.0L984.5 653.0L985.0 647.5L985.5 652.2L986.0 647.3L986.5 650.5L987.0 646.5L987.5 652.6L988.0 646.9L988.5 651.5L989.0 645.2L989.5 651.7L990.0 646.8L990.5 652.7L991.0 648.0L991.5 652.3L992.0 648.3L992.5 653.6L993.0 646.9L993.5 653.6L994.0 648.0L994.5 654.4L995.0 648.7L995.5 653.6L996.0 648.3L996.5 653.8L997.0 649.0L997.5 655.3L998.0 648.6L998.5 652.3L999.0 649.0L999.5 653.3L1000.0 648.9L1000.5 653.4L1001.0 648.0L1001.5 653.0L1002.0 648.5L1002.5 654.5L1003.0 648.4L1003.5 654.4L1004.0 649.2L1004.5 654.8L1005.0 652.7L1005.5 654.6L1006.0 649.5L1006.5 653.8L1007.0 647.8L1007.5 653.7L1008.0 649.3L1008.5 655.0L1009.0 648.8L1009.5 653.5L1010.0 654.0L1010.5 653.9L1011.0 647.9L1011.5 652.7L1012.0 648.5L1012.5 658.4L1013.0 655.1L1013.5 654.7L1014.0 648.7L1014.5 652.9L1015.0 647.1L1015.5 652.7L1016.0 648.3L1016.5 653.2L1017.0 649.5L1017.5 660.0L1018.0 648.6L1018.5 653.6L1019.0 647.5L1019.5 652.8L1020.0 642.2L1020.5 658.0L1021.0 648.9L1021.5 653.7L1022.0 649.0L1022.5 654.0L1023.0 647.7L1023.5 654.4L1024.0 649.1L1024.5 653.3L1025.0 646.4L1025.5 652.4L1026.0 649.0L1026.5 653.8L1027.0 647.1L1027.5 652.5L1028.0 648.8L1028.5 653.5L1029.0 648.7L1029.5 654.3L1030.0 653.2L1030.5 655.2L1031.0 648.2L1031.5 653.3L1032.0 648.9L1032.5 653.7L1033.0 647.9L1033.5 654.3L1034.0 648.7L1034.5 652.5L1035.0 647.9L1035.5 653.0L1036.0 648.7L1036.5 654.3L1037.0 648.9L1037.5 647.4L1038.0 648.8L1038.5 652.9L1039.0 648.4L1039.5 653.1L1040.0 647.8L1040.5 654.0L1041.0 647.3L1041.5 652.6L1042.0 648.0L1042.5 654.2L1043.0 647.5L1043.5 652.6L1044.0 652.9L1044.5 651.6L1045.0 647.4L1045.5 652.5L1046.0 647.8L1046.5 653.5L1047.0 648.7L1047.5 653.1L1048.0 645.3L1048.5 654.2L1049.0 648.2L1049.5 654.4L1050.0 649.2L1050.5 653.5L1051.0 647.7L1051.5 653.4L1052.0 648.8L1052.5 654.1L1053.0 648.5L1053.5 653.7L1054.0 647.1L1054.5 652.8L1055.0 653.5L1055.5 652.9L1056.0 647.6L1056.5 644.5L1057.0 648.2L1057.5 654.1L1058.0 648.0L1058.5 652.7L1059.0 648.2L1059.5 647.9L1060.0 648.3L1060.5 660.2L1061.0 650.0L1061.5 653.5L1062.0 649.1L1062.5 653.4L1063.0 649.1L1063.5 653.8L1064.0 648.3L1064.5 658.5L1065.0 649.2L1065.5 647.1L1066.0 647.7L1066.5 654.5L1067.0 650.5L1067.5 654.7L1068.0 649.9L1068.5 655.4L1069.0 649.4L1069.5 654.6L1070.0 641.6L1070.5 654.0L1071.0 648.3L1071.5 652.0L1072.0 647.1L1072.5 652.7L1073.0 648.2L1073.5 654.7L1074.0 648.7L1074.5 654.1L1075.0 647.2L1075.5 660.3L1076.0 648.3L1076.5 652.8L1077.0 648.2L1077.5 653.9L1078.0 648.4L1078.5 654.3L1079.0 647.7L1079.5 648.6L1080.0 648.5L1080.5 652.0L1081.0 648.7L1081.5 652.9L1082.0 645.5L1082.5 652.1L1083.0 647.1L1083.5 652.7L1084.0 647.1L1084.5 652.9L1085.0 648.1L1085.5 653.6L1086.0 653.2L1086.5 652.6L1087.0 642.8L1087.5 651.4L1088.0 641.9L1088.5 652.4L1089.0 647.9L1089.5 653.4L1090.0 649.3L1090.5 653.6L1091.0 649.5L1091.5 653.2L1092.0 648.2L1092.5 653.6L1093.0 647.8L1093.5 653.6L1094.0 654.7L1094.5 653.7L1095.0 649.7L1095.5 655.0L1096.0 654.2L1096.5 654.0L1097.0 647.9L1097.5 654.4L1098.0 648.0L1098.5 653.1L1099.0 648.4L1099.5 653.3L1100.0 648.1L1100.5 653.3L1101.0 647.8L1101.5 653.1L1102.0 648.3L1102.5 652.0L1103.0 648.5L1103.5 651.9L1104.0 647.9L1104.5 656.1L1105.0 649.0L1105.5 654.7L1106.0 649.7L1106.5 654.8L1107.0 650.4L1107.5 653.9L1108.0 649.1L1108.5 653.7L1109.0 648.4L1109.5 652.6L1110.0 647.2L1110.5 653.2L1111.0 648.4L1111.5 652.8L1112.0 648.5L1112.5 653.4L1113.0 647.8L1113.5 655.2L1114.0 648.8L1114.5 653.9L1115.0 648.7L1115.5 655.2L1116.0 649.2L1116.5 653.1L1117.0 649.8L1117.5 656.0L1118.0 649.9L1118.5 655.0L1119.0 649.7L1119.5 654.4L1120.0 648.3L1120.5 655.3L1121.0 649.1L1121.5 654.3L1122.0 650.3L1122.5 655.6L1123.0 650.3L1123.5 654.7L1124.0 650.7" stroke="#990000" stroke-width="2.4" fill="none" stroke-linejoin="round"/>
<path d="M719.5 613.5v4.6M719.5 731.5v-4.6M854.5 613.5v4.6M854.5 731.5v-4.6M989.5 613.5v4.6M989.5 731.5v-4.6M652.5 613.5h4.6M1124.5 613.5h-4.6M652.5 652.5h4.6M1124.5 652.5h-4.6M652.5 691.5h4.6M1124.5 691.5h-4.6M652.5 731.5h4.6M1124.5 731.5h-4.6" stroke="#262626" stroke-width="1" fill="none"/>
<rect x="652.5" y="613.5" width="472" height="118" fill="none" stroke="#262626" stroke-width="1"/>
<text transform="translate(111.2 0) rotate(-90)" font-size="20"><tspan x="-699" font-style="italic">x</tspan><tspan font-size="14.5" dy="3.2">1</tspan><tspan x="-672.5" dy="-3.2" textLength="25.7" lengthAdjust="spacingAndGlyphs">(A)</tspan></text>
<path d="M218.5 748.5V868.5M352.5 748.5V868.5M487.5 748.5V868.5M151.5 788.5H621.5M151.5 828.5H621.5" stroke="#e0e0e0" stroke-width="1" fill="none"/>
<path d="M151.0 799.1L151.5 799.1L152.0 799.1L152.5 799.1L153.0 799.1L153.5 799.1L154.0 799.1L154.5 799.1L155.0 799.1L155.5 799.1L156.0 799.1L156.5 799.1L157.0 799.1L157.5 799.1L158.0 799.1L158.5 799.1L159.0 799.1L159.5 799.1L160.0 799.1L160.5 799.1L161.0 799.1L161.5 799.1L162.0 799.1L162.5 799.1L163.0 799.1L163.5 799.1L164.0 799.1L164.5 799.1L165.0 799.1L165.5 799.1L166.0 799.1L166.5 799.1L167.0 799.1L167.5 799.1L168.0 799.1L168.5 799.1L169.0 799.1L169.5 799.1L170.0 799.1L170.5 799.1L171.0 799.1L171.5 799.1L172.0 799.1L172.5 799.1L173.0 799.1L173.5 799.1L174.0 799.1L174.5 799.1L175.0 799.1L175.5 799.1L176.0 799.1L176.5 799.1L177.0 799.1L177.5 799.1L178.0 799.1L178.5 799.1L179.0 799.1L179.5 799.1L180.0 799.1L180.5 799.1L181.0 799.1L181.5 799.1L182.0 799.1L182.5 799.1L183.0 799.1L183.5 799.1L184.0 799.1L184.5 799.1L185.0 799.1L185.5 799.1L186.0 799.1L186.5 799.1L187.0 799.1L187.5 799.1L188.0 799.1L188.5 799.1L189.0 799.1L189.5 799.1L190.0 799.1L190.5 799.1L191.0 799.1L191.5 799.1L192.0 799.1L192.5 799.1L193.0 799.1L193.5 799.1L194.0 799.1L194.5 799.1L195.0 799.1L195.5 799.1L196.0 799.1L196.5 799.1L197.0 799.1L197.5 799.1L198.0 799.1L198.5 799.1L199.0 799.1L199.5 799.1L200.0 799.1L200.5 799.1L201.0 799.1L201.5 799.1L202.0 799.1L202.5 799.1L203.0 799.1L203.5 799.1L204.0 799.1L204.5 799.1L205.0 799.1L205.5 799.1L206.0 799.1L206.5 799.1L207.0 799.1L207.5 799.1L208.0 799.1L208.5 799.1L209.0 799.1L209.5 799.1L210.0 799.1L210.5 799.1L211.0 799.1L211.5 799.1L212.0 799.1L212.5 799.1L213.0 799.1L213.5 799.1L214.0 799.1L214.5 799.1L215.0 799.1L215.5 799.1L216.0 799.1L216.5 799.1L217.0 799.1L217.5 799.1L218.0 799.4L218.5 800.2L219.0 801.5L219.5 803.2L220.0 805.4L220.5 807.7L221.0 810.0L221.5 812.3L222.0 814.6L222.5 816.9L223.0 819.1L223.5 821.2L224.0 823.3L224.5 825.3L225.0 827.3L225.5 829.2L226.0 831.1L226.5 833.0L227.0 834.7L227.5 836.5L228.0 838.2L228.5 839.8L229.0 841.3L229.5 842.8L230.0 844.1L230.5 845.4L231.0 846.5L231.5 847.6L232.0 848.5L232.5 849.3L233.0 850.1L233.5 850.7L234.0 851.3L234.5 851.8L235.0 852.3L235.5 852.6L236.0 852.9L236.5 853.1L237.0 853.3L237.5 853.4L238.0 853.5L238.5 853.6L239.0 853.6L239.5 853.6L240.0 853.6L240.5 853.6L241.0 853.5L241.5 853.5L242.0 853.4L242.5 853.3L243.0 853.2L243.5 853.0L244.0 852.8L244.5 852.6L245.0 852.4L245.5 852.2L246.0 851.9L246.5 851.6L247.0 851.4L247.5 851.1L248.0 850.8L248.5 850.5L249.0 850.2L249.5 849.9L250.0 849.5L250.5 849.2L251.0 848.9L251.5 848.5L252.0 848.2L252.5 847.8L253.0 847.5L253.5 847.2L254.0 846.8L254.5 846.5L255.0 846.2L255.5 845.9L256.0 845.6L256.5 845.3L257.0 845.0L257.5 844.7L258.0 844.4L258.5 844.1L259.0 843.8L259.5 843.5L260.0 843.2L260.5 842.9L261.0 842.6L261.5 842.3L262.0 842.0L262.5 841.7L263.0 841.5L263.5 841.2L264.0 840.9L264.5 840.6L265.0 840.4L265.5 840.1L266.0 839.8L266.5 839.6L267.0 839.3L267.5 839.0L268.0 838.8L268.5 838.5L269.0 838.3L269.5 838.0L270.0 837.7L270.5 837.5L271.0 837.2L271.5 837.0L272.0 836.8L272.5 836.5L273.0 836.3L273.5 836.0L274.0 835.8L274.5 835.5L275.0 835.3L275.5 835.1L276.0 834.8L276.5 834.6L277.0 834.4L277.5 834.2L278.0 833.9L278.5 833.7L279.0 833.5L279.5 833.3L280.0 833.0L280.5 832.8L281.0 832.6L281.5 832.4L282.0 832.2L282.5 832.0L283.0 831.8L283.5 831.5L284.0 831.3L284.5 831.1L285.0 830.9L285.5 830.7L286.0 830.5L286.5 830.3L287.0 830.1L287.5 829.9L288.0 829.7L288.5 829.5L289.0 829.3L289.5 829.2L290.0 829.0L290.5 828.8L291.0 828.6L291.5 828.4L292.0 828.2L292.5 828.0L293.0 827.8L293.5 827.7L294.0 827.5L294.5 827.3L295.0 827.1L295.5 827.0L296.0 826.8L296.5 826.6L297.0 826.4L297.5 826.3L298.0 826.1L298.5 825.9L299.0 825.8L299.5 825.6L300.0 825.4L300.5 825.3L301.0 825.1L301.5 824.9L302.0 824.8L302.5 824.6L303.0 824.5L303.5 824.3L304.0 824.1L304.5 824.0L305.0 823.8L305.5 823.7L306.0 823.5L306.5 823.4L307.0 823.2L307.5 823.1L308.0 822.9L308.5 822.8L309.0 822.6L309.5 822.5L310.0 822.4L310.5 822.2L311.0 822.1L311.5 821.9L312.0 821.8L312.5 821.7L313.0 821.5L313.5 821.4L314.0 821.3L314.5 821.1L315.0 821.0L315.5 820.9L316.0 820.7L316.5 820.6L317.0 820.5L317.5 820.3L318.0 820.2L318.5 820.1L319.0 820.0L319.5 819.8L320.0 819.7L320.5 819.6L321.0 819.5L321.5 819.3L322.0 819.2L322.5 819.1L323.0 819.0L323.5 818.9L324.0 818.7L324.5 818.6L325.0 818.5L325.5 818.4L326.0 818.3L326.5 818.2L327.0 818.1L327.5 817.9L328.0 817.8L328.5 817.7L329.0 817.6L329.5 817.5L330.0 817.4L330.5 817.3L331.0 817.2L331.5 817.1L332.0 817.0L332.5 816.9L333.0 816.8L333.5 816.7L334.0 816.6L334.5 816.5L335.0 816.4L335.5 816.3L336.0 816.2L336.5 816.1L337.0 816.0L337.5 815.9L338.0 815.8L338.5 815.7L339.0 815.6L339.5 815.5L340.0 815.4L340.5 815.3L341.0 815.2L341.5 815.1L342.0 815.0L342.5 814.9L343.0 814.9L343.5 814.8L344.0 814.7L344.5 814.6L345.0 814.5L345.5 814.4L346.0 814.3L346.5 814.3L347.0 814.2L347.5 814.1L348.0 814.0L348.5 813.9L349.0 813.8L349.5 813.8L350.0 813.7L350.5 813.6L351.0 813.5L351.5 813.4L352.0 813.4L352.5 813.3L353.0 813.2L353.5 813.1L354.0 813.0L354.5 813.0L355.0 812.9L355.5 812.8L356.0 812.7L356.5 812.7L357.0 812.6L357.5 812.5L358.0 812.5L358.5 812.4L359.0 812.3L359.5 812.2L360.0 812.2L360.5 812.1L361.0 812.0L361.5 812.0L362.0 811.9L362.5 811.8L363.0 811.8L363.5 811.7L364.0 811.6L364.5 811.6L365.0 811.5L365.5 811.4L366.0 811.4L366.5 811.3L367.0 811.2L367.5 811.2L368.0 811.1L368.5 811.1L369.0 811.0L369.5 810.9L370.0 810.9L370.5 810.8L371.0 810.8L371.5 810.7L372.0 810.6L372.5 810.6L373.0 810.5L373.5 810.5L374.0 810.4L374.5 810.3L375.0 810.3L375.5 810.2L376.0 810.2L376.5 810.1L377.0 810.1L377.5 810.0L378.0 810.0L378.5 809.9L379.0 809.8L379.5 809.8L380.0 809.7L380.5 809.7L381.0 809.6L381.5 809.6L382.0 809.5L382.5 809.5L383.0 809.4L383.5 809.4L384.0 809.3L384.5 809.3L385.0 809.2L385.5 809.2L386.0 809.1L386.5 809.1L387.0 809.0L387.5 809.0L388.0 809.0L388.5 808.9L389.0 808.9L389.5 808.8L390.0 808.8L390.5 808.7L391.0 808.7L391.5 808.6L392.0 808.6L392.5 808.5L393.0 808.5L393.5 808.5L394.0 808.4L394.5 808.4L395.0 808.3L395.5 808.3L396.0 808.2L396.5 808.2L397.0 808.2L397.5 808.1L398.0 808.1L398.5 808.0L399.0 808.0L399.5 808.0L400.0 807.9L400.5 807.9L401.0 807.8L401.5 807.8L402.0 807.8L402.5 807.7L403.0 807.7L403.5 807.6L404.0 807.6L404.5 807.6L405.0 807.5L405.5 807.5L406.0 807.5L406.5 807.4L407.0 807.4L407.5 807.4L408.0 807.3L408.5 807.3L409.0 807.3L409.5 807.2L410.0 807.2L410.5 807.1L411.0 807.1L411.5 807.1L412.0 807.0L412.5 807.0L413.0 807.0L413.5 807.0L414.0 806.9L414.5 806.9L415.0 806.9L415.5 806.8L416.0 806.8L416.5 806.8L417.0 806.7L417.5 806.7L418.0 806.7L418.5 806.6L419.0 806.6L419.5 806.6L420.0 806.5L420.5 806.5L421.0 806.5L421.5 806.5L422.0 806.4L422.5 806.4L423.0 806.4L423.5 806.3L424.0 806.3L424.5 806.3L425.0 806.3L425.5 806.2L426.0 806.2L426.5 806.2L427.0 806.2L427.5 806.1L428.0 806.1L428.5 806.1L429.0 806.0L429.5 806.0L430.0 806.0L430.5 806.0L431.0 805.9L431.5 805.9L432.0 805.9L432.5 805.9L433.0 805.8L433.5 805.8L434.0 805.8L434.5 805.8L435.0 805.7L435.5 805.7L436.0 805.7L436.5 805.7L437.0 805.7L437.5 805.6L438.0 805.6L438.5 805.6L439.0 805.6L439.5 805.5L440.0 805.5L440.5 805.5L441.0 805.5L441.5 805.5L442.0 805.4L442.5 805.4L443.0 805.4L443.5 805.4L444.0 805.3L444.5 805.3L445.0 805.3L445.5 805.3L446.0 805.3L446.5 805.2L447.0 805.2L447.5 805.2L448.0 805.2L448.5 805.2L449.0 805.1L449.5 805.1L450.0 805.1L450.5 805.1L451.0 805.1L451.5 805.0L452.0 805.0L452.5 805.0L453.0 805.0L453.5 805.0L454.0 805.0L454.5 804.9L455.0 804.9L455.5 804.9L456.0 804.9L456.5 804.9L457.0 804.8L457.5 804.8L458.0 804.8L458.5 804.8L459.0 804.8L459.5 804.8L460.0 804.7L460.5 804.7L461.0 804.7L461.5 804.7L462.0 804.7L462.5 804.7L463.0 804.6L463.5 804.6L464.0 804.6L464.5 804.6L465.0 804.6L465.5 804.6L466.0 804.5L466.5 804.5L467.0 804.5L467.5 804.5L468.0 804.5L468.5 804.5L469.0 804.5L469.5 804.4L470.0 804.4L470.5 804.4L471.0 804.4L471.5 804.4L472.0 804.4L472.5 804.4L473.0 804.3L473.5 804.3L474.0 804.3L474.5 804.3L475.0 804.3L475.5 804.3L476.0 804.3L476.5 804.3L477.0 804.2L477.5 804.2L478.0 804.2L478.5 804.2L479.0 804.2L479.5 804.2L480.0 804.2L480.5 804.1L481.0 804.1L481.5 804.1L482.0 804.1L482.5 804.1L483.0 804.1L483.5 804.1L484.0 804.1L484.5 804.1L485.0 804.0L485.5 804.0L486.0 804.0L486.5 804.0L487.0 804.0L487.5 804.0L488.0 804.0L488.5 804.0L489.0 803.9L489.5 803.9L490.0 803.9L490.5 803.9L491.0 803.9L491.5 803.9L492.0 803.9L492.5 803.9L493.0 803.9L493.5 803.9L494.0 803.8L494.5 803.8L495.0 803.8L495.5 803.8L496.0 803.8L496.5 803.8L497.0 803.8L497.5 803.8L498.0 803.8L498.5 803.8L499.0 803.7L499.5 803.7L500.0 803.7L500.5 803.7L501.0 803.7L501.5 803.7L502.0 803.7L502.5 803.7L503.0 803.7L503.5 803.7L504.0 803.6L504.5 803.6L505.0 803.6L505.5 803.6L506.0 803.6L506.5 803.6L507.0 803.6L507.5 803.6L508.0 803.6L508.5 803.6L509.0 803.6L509.5 803.6L510.0 803.5L510.5 803.5L511.0 803.5L511.5 803.5L512.0 803.5L512.5 803.5L513.0 803.5L513.5 803.5L514.0 803.5L514.5 803.5L515.0 803.5L515.5 803.5L516.0 803.5L516.5 803.4L517.0 803.4L517.5 803.4L518.0 803.4L518.5 803.4L519.0 803.4L519.5 803.4L520.0 803.4L520.5 803.4L521.0 803.4L521.5 803.4L522.0 803.4L522.5 803.4L523.0 803.4L523.5 803.3L524.0 803.3L524.5 803.3L525.0 803.3L525.5 803.3L526.0 803.3L526.5 803.3L527.0 803.3L527.5 803.3L528.0 803.3L528.5 803.3L529.0 803.3L529.5 803.3L530.0 803.3L530.5 803.3L531.0 803.2L531.5 803.2L532.0 803.2L532.5 803.2L533.0 803.2L533.5 803.2L534.0 803.2L534.5 803.2L535.0 803.2L535.5 803.2L536.0 803.2L536.5 803.2L537.0 803.2L537.5 803.2L538.0 803.2L538.5 803.2L539.0 803.2L539.5 803.2L540.0 803.1L540.5 803.1L541.0 803.1L541.5 803.1L542.0 803.1L542.5 803.1L543.0 803.1L543.5 803.1L544.0 803.1L544.5 803.1L545.0 803.1L545.5 803.1L546.0 803.1L546.5 803.1L547.0 803.1L547.5 803.1L548.0 803.1L548.5 803.1L549.0 803.1L549.5 803.1L550.0 803.0L550.5 803.0L551.0 803.0L551.5 803.0L552.0 803.0L552.5 803.0L553.0 803.0L553.5 803.0L554.0 803.0L554.5 803.0L555.0 803.0L555.5 803.0L556.0 803.0L556.5 803.0L557.0 803.0L557.5 803.0L558.0 803.0L558.5 803.0L559.0 803.0L559.5 803.0L560.0 803.0L560.5 803.0L561.0 803.0L561.5 802.9L562.0 802.9L562.5 802.9L563.0 802.9L563.5 802.9L564.0 802.9L564.5 802.9L565.0 802.9L565.5 802.9L566.0 802.9L566.5 802.9L567.0 802.9L567.5 802.9L568.0 802.9L568.5 802.9L569.0 802.9L569.5 802.9L570.0 802.9L570.5 802.9L571.0 802.9L571.5 802.9L572.0 802.9L572.5 802.9L573.0 802.9L573.5 802.9L574.0 802.9L574.5 802.9L575.0 802.9L575.5 802.8L576.0 802.8L576.5 802.8L577.0 802.8L577.5 802.8L578.0 802.8L578.5 802.8L579.0 802.8L579.5 802.8L580.0 802.8L580.5 802.8L581.0 802.8L581.5 802.8L582.0 802.8L582.5 802.8L583.0 802.8L583.5 802.8L584.0 802.8L584.5 802.8L585.0 802.8L585.5 802.8L586.0 802.8L586.5 802.8L587.0 802.8L587.5 802.8L588.0 802.8L588.5 802.8L589.0 802.8L589.5 802.8L590.0 802.8L590.5 802.8L591.0 802.8L591.5 802.8L592.0 802.8L592.5 802.8L593.0 802.8L593.5 802.7L594.0 802.7L594.5 802.7L595.0 802.7L595.5 802.7L596.0 802.7L596.5 802.7L597.0 802.7L597.5 802.7L598.0 802.7L598.5 802.7L599.0 802.7L599.5 802.7L600.0 802.7L600.5 802.7L601.0 802.7L601.5 802.7L602.0 802.7L602.5 802.7L603.0 802.7L603.5 802.7L604.0 802.7L604.5 802.7L605.0 802.7L605.5 802.7L606.0 802.7L606.5 802.7L607.0 802.7L607.5 802.7L608.0 802.7L608.5 802.7L609.0 802.7L609.5 802.7L610.0 802.7L610.5 802.7L611.0 802.7L611.5 802.7L612.0 802.7L612.5 802.7L613.0 802.7L613.5 802.7L614.0 802.7L614.5 802.7L615.0 802.7L615.5 802.7L616.0 802.7L616.5 802.7L617.0 802.6L617.5 802.6L618.0 802.6L618.5 802.6L619.0 802.6L619.5 802.6L620.0 802.6L620.5 802.6L621.0 802.6" stroke="#008a00" stroke-width="2.3" fill="none" stroke-linejoin="round"/>
<path d="M218.5 748.5v4.6M218.5 868.5v-4.6M352.5 748.5v4.6M352.5 868.5v-4.6M487.5 748.5v4.6M487.5 868.5v-4.6M151.5 748.5h4.6M621.5 748.5h-4.6M151.5 788.5h4.6M621.5 788.5h-4.6M151.5 828.5h4.6M621.5 828.5h-4.6M151.5 868.5h4.6M621.5 868.5h-4.6" stroke="#262626" stroke-width="1" fill="none"/>
<rect x="151.5" y="748.5" width="470" height="120" fill="none" stroke="#262626" stroke-width="1"/>
<text x="145.4" y="753.0" text-anchor="end" font-size="18.5">14</text>
<text x="145.4" y="793.0" text-anchor="end" font-size="18.5">12</text>
<text x="145.4" y="833.0" text-anchor="end" font-size="18.5">10</text>
<text x="145.4" y="873.0" text-anchor="end" font-size="18.5">8</text>
<path d="M719.5 748.5V868.5M854.5 748.5V868.5M989.5 748.5V868.5M652.5 788.5H1124.5M652.5 828.5H1124.5" stroke="#e0e0e0" stroke-width="1" fill="none"/>
<path d="M652.0 796.3L652.5 797.2L653.0 796.1L653.5 797.4L654.0 796.4L654.5 797.9L655.0 796.3L655.5 797.4L656.0 796.1L656.5 797.3L657.0 796.3L657.5 797.2L658.0 796.1L658.5 797.4L659.0 796.0L659.5 797.9L660.0 796.1L660.5 797.4L661.0 796.1L661.5 797.0L662.0 795.9L662.5 797.2L663.0 796.2L663.5 797.3L664.0 796.4L664.5 797.2L665.0 796.3L665.5 797.5L666.0 796.2L666.5 797.3L667.0 796.2L667.5 797.2L668.0 796.1L668.5 797.4L669.0 796.4L669.5 797.5L670.0 796.3L670.5 797.4L671.0 796.3L671.5 797.2L672.0 796.2L672.5 797.2L673.0 795.9L673.5 797.3L674.0 796.1L674.5 797.0L675.0 795.6L675.5 797.3L676.0 796.0L676.5 797.1L677.0 796.2L677.5 797.8L678.0 796.4L678.5 797.3L679.0 796.1L679.5 797.5L680.0 796.4L680.5 797.3L681.0 796.3L681.5 798.0L682.0 796.2L682.5 797.5L683.0 796.3L683.5 797.7L684.0 795.9L684.5 797.3L685.0 796.1L685.5 797.1L686.0 795.9L686.5 797.1L687.0 795.7L687.5 797.3L688.0 796.0L688.5 797.0L689.0 795.8L689.5 796.9L690.0 795.4L690.5 797.1L691.0 795.9L691.5 797.1L692.0 796.0L692.5 797.0L693.0 795.9L693.5 797.6L694.0 794.5L694.5 797.2L695.0 796.3L695.5 797.2L696.0 796.2L696.5 797.2L697.0 796.0L697.5 797.1L698.0 796.2L698.5 797.2L699.0 796.3L699.5 797.3L700.0 796.3L700.5 797.0L701.0 796.0L701.5 797.0L702.0 795.9L702.5 797.3L703.0 795.7L703.5 796.8L704.0 795.8L704.5 797.2L705.0 795.6L705.5 797.0L706.0 796.0L706.5 797.1L707.0 796.1L707.5 797.3L708.0 796.3L708.5 797.6L709.0 796.1L709.5 795.5L710.0 796.3L710.5 797.1L711.0 796.2L711.5 797.4L712.0 796.3L712.5 797.3L713.0 796.2L713.5 797.8L714.0 796.2L714.5 797.3L715.0 796.1L715.5 797.3L716.0 796.0L716.5 797.0L717.0 796.1L717.5 797.4L718.0 796.0L718.5 797.1L719.0 796.1L719.5 796.9L720.0 796.1L720.5 796.9L721.0 796.1L721.5 797.3L722.0 796.4L722.5 798.5L723.0 798.3L723.5 800.4L724.0 800.0L724.5 802.3L725.0 802.0L725.5 804.2L726.0 804.2L726.5 806.7L727.0 806.2L727.5 808.4L728.0 808.6L728.5 810.8L729.0 810.5L729.5 812.9L730.0 812.7L730.5 815.3L731.0 815.1L731.5 817.8L732.0 817.5L732.5 820.3L733.0 820.3L733.5 822.7L734.0 822.8L734.5 824.9L735.0 825.2L735.5 827.8L736.0 827.5L736.5 829.9L737.0 829.8L737.5 832.5L738.0 832.0L738.5 834.3L739.0 834.2L739.5 836.5L740.0 836.6L740.5 838.8L741.0 838.6L741.5 840.8L742.0 840.5L742.5 842.5L743.0 842.2L743.5 844.1L744.0 843.9L744.5 846.3L745.0 845.6L745.5 847.4L746.0 846.7L746.5 848.4L747.0 847.8L747.5 849.0L748.0 848.3L748.5 849.8L749.0 849.1L749.5 850.3L750.0 849.4L750.5 850.6L751.0 850.0L751.5 851.3L752.0 849.9L752.5 851.3L753.0 850.5L753.5 851.4L754.0 850.5L754.5 851.8L755.0 850.6L755.5 852.0L756.0 850.7L756.5 852.1L757.0 850.6L757.5 852.2L758.0 850.7L758.5 852.0L759.0 850.2L759.5 851.5L760.0 850.5L760.5 851.4L761.0 850.3L761.5 851.6L762.0 850.2L762.5 851.4L763.0 850.3L763.5 851.5L764.0 850.3L764.5 851.2L765.0 850.2L765.5 851.5L766.0 850.1L766.5 851.0L767.0 849.4L767.5 850.8L768.0 849.5L768.5 850.8L769.0 849.2L769.5 850.2L770.0 848.8L770.5 849.7L771.0 848.7L771.5 849.5L772.0 848.2L772.5 849.2L773.0 848.3L773.5 848.9L774.0 847.5L774.5 848.6L775.0 847.6L775.5 848.5L776.0 847.4L776.5 848.0L777.0 847.2L777.5 847.9L778.0 846.5L778.5 847.7L779.0 846.7L779.5 847.3L780.0 845.9L780.5 847.0L781.0 845.7L781.5 846.9L782.0 845.7L782.5 846.6L783.0 845.4L783.5 846.1L784.0 843.1L784.5 846.1L785.0 844.6L785.5 845.6L786.0 844.7L786.5 845.5L787.0 844.3L787.5 845.2L788.0 843.9L788.5 844.8L789.0 843.5L789.5 845.0L790.0 843.7L790.5 844.6L791.0 843.3L791.5 844.5L792.0 843.6L792.5 844.5L793.0 843.2L793.5 844.4L794.0 842.9L794.5 844.0L795.0 843.2L795.5 843.8L796.0 842.7L796.5 843.6L797.0 842.6L797.5 843.9L798.0 842.5L798.5 843.1L799.0 841.6L799.5 842.9L800.0 842.0L800.5 843.1L801.0 841.7L801.5 842.7L802.0 841.6L802.5 842.6L803.0 841.3L803.5 842.2L804.0 841.1L804.5 841.8L805.0 840.5L805.5 841.7L806.0 840.6L806.5 841.7L807.0 840.2L807.5 840.9L808.0 839.9L808.5 840.7L809.0 839.3L809.5 840.1L810.0 838.2L810.5 840.1L811.0 838.5L811.5 839.4L812.0 838.2L812.5 839.2L813.0 837.7L813.5 838.6L814.0 836.8L814.5 837.7L815.0 836.5L815.5 837.2L816.0 836.1L816.5 836.9L817.0 835.8L817.5 836.6L818.0 835.3L818.5 836.2L819.0 835.1L819.5 836.2L820.0 834.8L820.5 835.7L821.0 834.4L821.5 835.2L822.0 834.1L822.5 834.7L823.0 833.7L823.5 834.4L824.0 833.0L824.5 834.6L825.0 832.4L825.5 833.4L826.0 832.2L826.5 833.2L827.0 831.9L827.5 832.9L828.0 831.6L828.5 832.6L829.0 830.7L829.5 832.0L830.0 830.6L830.5 831.3L831.0 830.3L831.5 831.2L832.0 829.6L832.5 830.5L833.0 829.2L833.5 830.5L834.0 828.6L834.5 830.1L835.0 828.7L835.5 829.6L836.0 828.2L836.5 829.0L837.0 827.9L837.5 828.7L838.0 827.6L838.5 828.4L839.0 827.0L839.5 828.3L840.0 826.7L840.5 828.1L841.0 826.5L841.5 828.0L842.0 826.5L842.5 827.4L843.0 826.1L843.5 827.0L844.0 826.1L844.5 826.8L845.0 825.7L845.5 826.9L846.0 825.5L846.5 826.5L847.0 824.9L847.5 826.4L848.0 825.2L848.5 826.4L849.0 824.7L849.5 826.1L850.0 824.5L850.5 826.0L851.0 824.5L851.5 825.4L852.0 824.5L852.5 825.4L853.0 825.6L853.5 825.3L854.0 823.6L854.5 825.0L855.0 823.7L855.5 824.4L856.0 823.4L856.5 824.2L857.0 823.3L857.5 823.9L858.0 823.0L858.5 823.7L859.0 822.8L859.5 823.4L860.0 822.3L860.5 823.3L861.0 822.3L861.5 823.2L862.0 821.9L862.5 823.0L863.0 821.9L863.5 823.0L864.0 821.8L864.5 822.7L865.0 821.4L865.5 822.3L866.0 821.1L866.5 822.0L867.0 820.6L867.5 821.8L868.0 820.6L868.5 821.6L869.0 820.1L869.5 821.1L870.0 819.5L870.5 821.1L871.0 819.8L871.5 821.0L872.0 819.4L872.5 820.8L873.0 819.1L873.5 820.8L874.0 819.0L874.5 818.5L875.0 818.9L875.5 820.0L876.0 819.1L876.5 819.9L877.0 818.9L877.5 820.2L878.0 818.6L878.5 819.5L879.0 818.2L879.5 819.3L880.0 818.3L880.5 819.1L881.0 818.1L881.5 818.7L882.0 817.8L882.5 819.0L883.0 817.5L883.5 818.5L884.0 817.5L884.5 818.9L885.0 817.0L885.5 818.2L886.0 816.8L886.5 818.1L887.0 816.6L887.5 817.8L888.0 816.6L888.5 817.9L889.0 816.6L889.5 817.6L890.0 816.5L890.5 817.8L891.0 816.3L891.5 817.5L892.0 816.3L892.5 817.2L893.0 816.2L893.5 817.2L894.0 816.2L894.5 817.2L895.0 815.9L895.5 816.8L896.0 815.9L896.5 816.7L897.0 815.5L897.5 816.7L898.0 815.4L898.5 816.6L899.0 814.8L899.5 816.3L900.0 815.2L900.5 816.1L901.0 815.1L901.5 816.1L902.0 814.7L902.5 816.2L903.0 815.0L903.5 815.7L904.0 814.2L904.5 815.7L905.0 814.6L905.5 815.7L906.0 814.5L906.5 815.5L907.0 814.7L907.5 815.5L908.0 814.5L908.5 815.9L909.0 814.4L909.5 815.4L910.0 814.1L910.5 815.0L911.0 813.7L911.5 814.8L912.0 812.6L912.5 814.8L913.0 813.8L913.5 814.8L914.0 813.7L914.5 814.8L915.0 813.4L915.5 814.5L916.0 813.5L916.5 814.5L917.0 813.6L917.5 814.9L918.0 813.5L918.5 814.4L919.0 813.2L919.5 814.3L920.0 813.3L920.5 814.3L921.0 813.3L921.5 814.3L922.0 813.1L922.5 814.1L923.0 812.5L923.5 813.8L924.0 812.8L924.5 814.4L925.0 812.7L925.5 813.7L926.0 812.6L926.5 813.9L927.0 812.1L927.5 813.5L928.0 812.1L928.5 813.7L929.0 812.3L929.5 813.4L930.0 812.2L930.5 813.3L931.0 811.7L931.5 813.3L932.0 812.2L932.5 813.6L933.0 812.0L933.5 813.1L934.0 812.0L934.5 813.0L935.0 811.5L935.5 812.8L936.0 812.0L936.5 812.8L937.0 811.8L937.5 812.8L938.0 811.3L938.5 812.5L939.0 811.4L939.5 812.4L940.0 811.0L940.5 812.6L941.0 811.3L941.5 812.6L942.0 811.2L942.5 812.4L943.0 810.9L943.5 812.4L944.0 811.3L944.5 812.0L945.0 810.8L945.5 812.2L946.0 811.1L946.5 812.3L947.0 810.9L947.5 811.9L948.0 811.0L948.5 812.1L949.0 810.6L949.5 811.7L950.0 811.0L950.5 811.7L951.0 810.8L951.5 811.9L952.0 810.7L952.5 812.1L953.0 810.5L953.5 811.6L954.0 810.4L954.5 811.3L955.0 810.2L955.5 811.4L956.0 810.3L956.5 811.2L957.0 810.1L957.5 811.3L958.0 810.3L958.5 811.2L959.0 810.3L959.5 811.1L960.0 810.3L960.5 811.8L961.0 810.3L961.5 811.4L962.0 810.1L962.5 811.2L963.0 810.2L963.5 811.3L964.0 809.9L964.5 811.4L965.0 810.0L965.5 810.9L966.0 809.9L966.5 810.7L967.0 809.8L967.5 810.9L968.0 809.6L968.5 810.8L969.0 809.3L969.5 810.6L970.0 809.5L970.5 810.5L971.0 809.6L971.5 810.7L972.0 809.5L972.5 810.9L973.0 809.3L973.5 810.4L974.0 809.0L974.5 810.7L975.0 809.3L975.5 810.6L976.0 809.6L976.5 810.6L977.0 809.6L977.5 810.7L978.0 808.8L978.5 810.8L979.0 809.1L979.5 810.3L980.0 809.0L980.5 810.6L981.0 809.0L981.5 810.2L982.0 809.1L982.5 810.2L983.0 808.6L983.5 810.0L984.0 808.9L984.5 810.1L985.0 809.1L985.5 810.0L986.0 808.8L986.5 810.0L987.0 808.9L987.5 809.9L988.0 809.2L988.5 809.9L989.0 808.9L989.5 810.1L990.0 809.0L990.5 810.1L991.0 809.0L991.5 810.3L992.0 809.0L992.5 810.1L993.0 807.5L993.5 810.0L994.0 809.0L994.5 810.0L995.0 808.3L995.5 809.5L996.0 808.8L996.5 809.5L997.0 808.8L997.5 809.5L998.0 808.6L998.5 809.7L999.0 808.6L999.5 809.5L1000.0 808.6L1000.5 809.5L1001.0 808.7L1001.5 809.5L1002.0 808.6L1002.5 809.9L1003.0 808.7L1003.5 809.4L1004.0 808.3L1004.5 809.7L1005.0 808.3L1005.5 809.7L1006.0 808.4L1006.5 809.7L1007.0 808.3L1007.5 809.3L1008.0 808.2L1008.5 809.4L1009.0 808.3L1009.5 809.5L1010.0 808.0L1010.5 809.1L1011.0 808.3L1011.5 809.5L1012.0 808.1L1012.5 808.9L1013.0 808.2L1013.5 809.1L1014.0 808.2L1014.5 809.1L1015.0 807.7L1015.5 809.1L1016.0 808.2L1016.5 809.0L1017.0 808.2L1017.5 809.3L1018.0 808.2L1018.5 809.1L1019.0 808.1L1019.5 809.1L1020.0 808.1L1020.5 808.9L1021.0 807.9L1021.5 808.8L1022.0 807.5L1022.5 808.7L1023.0 807.7L1023.5 808.9L1024.0 807.6L1024.5 808.9L1025.0 807.7L1025.5 808.5L1026.0 807.6L1026.5 808.9L1027.0 807.8L1027.5 809.0L1028.0 807.8L1028.5 808.9L1029.0 807.5L1029.5 809.4L1030.0 807.8L1030.5 809.1L1031.0 807.9L1031.5 808.8L1032.0 807.7L1032.5 808.8L1033.0 807.5L1033.5 808.9L1034.0 808.0L1034.5 809.0L1035.0 807.6L1035.5 807.4L1036.0 807.7L1036.5 808.7L1037.0 807.7L1037.5 808.6L1038.0 807.6L1038.5 808.6L1039.0 807.6L1039.5 809.1L1040.0 807.7L1040.5 808.8L1041.0 807.5L1041.5 808.6L1042.0 807.7L1042.5 809.0L1043.0 807.6L1043.5 808.6L1044.0 807.8L1044.5 808.9L1045.0 807.7L1045.5 808.7L1046.0 807.7L1046.5 809.0L1047.0 807.7L1047.5 808.8L1048.0 807.7L1048.5 808.9L1049.0 807.3L1049.5 808.4L1050.0 807.6L1050.5 808.5L1051.0 807.4L1051.5 808.4L1052.0 807.4L1052.5 808.5L1053.0 807.4L1053.5 808.5L1054.0 807.1L1054.5 808.3L1055.0 807.2L1055.5 808.4L1056.0 808.4L1056.5 808.6L1057.0 807.4L1057.5 808.5L1058.0 807.2L1058.5 808.5L1059.0 807.3L1059.5 808.7L1060.0 807.4L1060.5 808.4L1061.0 807.2L1061.5 808.3L1062.0 807.2L1062.5 808.6L1063.0 807.1L1063.5 808.4L1064.0 807.2L1064.5 808.3L1065.0 806.9L1065.5 808.3L1066.0 807.3L1066.5 808.6L1067.0 807.0L1067.5 808.3L1068.0 805.8L1068.5 808.2L1069.0 807.2L1069.5 808.2L1070.0 806.4L1070.5 808.0L1071.0 807.2L1071.5 808.4L1072.0 806.7L1072.5 808.3L1073.0 807.3L1073.5 808.3L1074.0 807.0L1074.5 808.4L1075.0 807.3L1075.5 808.3L1076.0 806.9L1076.5 808.3L1077.0 806.9L1077.5 809.8L1078.0 808.6L1078.5 807.9L1079.0 806.9L1079.5 808.4L1080.0 806.8L1080.5 807.9L1081.0 806.8L1081.5 808.0L1082.0 806.8L1082.5 808.0L1083.0 807.1L1083.5 808.2L1084.0 806.9L1084.5 808.2L1085.0 807.2L1085.5 808.0L1086.0 806.9L1086.5 808.0L1087.0 806.8L1087.5 808.1L1088.0 806.9L1088.5 808.5L1089.0 806.9L1089.5 808.3L1090.0 807.2L1090.5 808.0L1091.0 807.0L1091.5 808.2L1092.0 807.0L1092.5 808.0L1093.0 806.5L1093.5 807.8L1094.0 806.8L1094.5 807.9L1095.0 806.9L1095.5 808.1L1096.0 807.0L1096.5 807.9L1097.0 806.7L1097.5 807.8L1098.0 807.0L1098.5 808.0L1099.0 806.8L1099.5 807.9L1100.0 807.1L1100.5 808.2L1101.0 806.4L1101.5 808.0L1102.0 807.1L1102.5 807.9L1103.0 807.1L1103.5 807.9L1104.0 806.6L1104.5 808.1L1105.0 806.6L1105.5 808.5L1106.0 806.9L1106.5 807.8L1107.0 806.7L1107.5 808.3L1108.0 806.4L1108.5 807.8L1109.0 806.8L1109.5 807.9L1110.0 806.8L1110.5 807.7L1111.0 806.8L1111.5 807.7L1112.0 806.6L1112.5 807.7L1113.0 806.9L1113.5 807.8L1114.0 807.0L1114.5 807.9L1115.0 806.9L1115.5 808.0L1116.0 806.8L1116.5 807.9L1117.0 806.9L1117.5 808.5L1118.0 806.5L1118.5 807.8L1119.0 806.8L1119.5 808.0L1120.0 806.9L1120.5 808.1L1121.0 806.5L1121.5 807.8L1122.0 806.6L1122.5 807.8L1123.0 806.8L1123.5 807.5L1124.0 806.7" stroke="#008a00" stroke-width="2.2" fill="none" stroke-linejoin="round"/>
<path d="M719.5 748.5v4.6M719.5 868.5v-4.6M854.5 748.5v4.6M854.5 868.5v-4.6M989.5 748.5v4.6M989.5 868.5v-4.6M652.5 748.5h4.6M1124.5 748.5h-4.6M652.5 788.5h4.6M1124.5 788.5h-4.6M652.5 828.5h4.6M1124.5 828.5h-4.6M652.5 868.5h4.6M1124.5 868.5h-4.6" stroke="#262626" stroke-width="1" fill="none"/>
<rect x="652.5" y="748.5" width="472" height="120" fill="none" stroke="#262626" stroke-width="1"/>
<text transform="translate(111.2 0) rotate(-90)" font-size="20"><tspan x="-835" font-style="italic">x</tspan><tspan font-size="14.5" dy="3.2">2</tspan><tspan x="-808.5" dy="-3.2" textLength="25.7" lengthAdjust="spacingAndGlyphs">(V)</tspan></text>
<path d="M218.5 884.5V1003.5M352.5 884.5V1003.5M487.5 884.5V1003.5M151.5 908.5H621.5M151.5 932.5H621.5M151.5 956.5H621.5M151.5 979.5H621.5" stroke="#e0e0e0" stroke-width="1" fill="none"/>
<path d="M151.0 982.5L151.5 982.8L152.0 982.5L152.5 982.5L153.0 982.3L153.5 982.5L154.0 982.9L154.5 982.7L155.0 982.9L155.5 982.7L156.0 982.7L156.5 982.7L157.0 982.1L157.5 982.9L158.0 982.8L158.5 982.7L159.0 982.1L159.5 982.1L160.0 982.3L160.5 982.5L161.0 982.7L161.5 982.6L162.0 982.8L162.5 982.4L163.0 982.7L163.5 982.7L164.0 982.4L164.5 983.1L165.0 982.8L165.5 983.0L166.0 982.4L166.5 982.4L167.0 982.5L167.5 982.6L168.0 982.8L168.5 982.7L169.0 982.5L169.5 982.3L170.0 982.4L170.5 983.0L171.0 982.4L171.5 982.7L172.0 982.7L172.5 982.2L173.0 982.6L173.5 983.0L174.0 982.0L174.5 982.5L175.0 982.6L175.5 982.4L176.0 982.7L176.5 982.6L177.0 982.2L177.5 982.8L178.0 982.8L178.5 982.9L179.0 983.0L179.5 982.7L180.0 982.6L180.5 982.2L181.0 982.8L181.5 982.4L182.0 982.5L182.5 982.2L183.0 982.3L183.5 982.4L184.0 983.0L184.5 982.0L185.0 982.2L185.5 982.7L186.0 983.0L186.5 982.8L187.0 982.0L187.5 981.8L188.0 982.7L188.5 982.4L189.0 982.3L189.5 982.9L190.0 982.9L190.5 982.6L191.0 982.7L191.5 982.7L192.0 983.1L192.5 982.8L193.0 982.8L193.5 982.8L194.0 982.1L194.5 983.0L195.0 982.9L195.5 982.8L196.0 982.0L196.5 982.4L197.0 982.9L197.5 982.1L198.0 982.5L198.5 982.9L199.0 982.2L199.5 983.1L200.0 982.8L200.5 982.6L201.0 982.7L201.5 982.8L202.0 982.6L202.5 982.9L203.0 982.4L203.5 982.5L204.0 982.9L204.5 982.6L205.0 982.3L205.5 982.9L206.0 983.0L206.5 982.5L207.0 982.2L207.5 982.6L208.0 982.6L208.5 982.5L209.0 983.0L209.5 982.3L210.0 983.0L210.5 982.2L211.0 982.4L211.5 982.8L212.0 982.9L212.5 982.9L213.0 982.7L213.5 982.6L214.0 982.6L214.5 982.8L215.0 982.5L215.5 982.7L216.0 982.8L216.5 982.6L217.0 982.8L217.5 982.8L218.0 983.2L218.5 943.6L219.0 939.4L219.5 945.1L220.0 944.8L220.5 944.0L221.0 942.7L221.5 942.0L222.0 941.5L222.5 939.3L223.0 938.8L223.5 938.3L224.0 937.5L224.5 936.5L225.0 935.4L225.5 934.8L226.0 933.8L226.5 932.6L227.0 932.5L227.5 930.9L228.0 929.6L228.5 928.6L229.0 927.5L229.5 926.4L230.0 924.5L230.5 924.0L231.0 923.4L231.5 921.6L232.0 920.9L232.5 920.2L233.0 919.2L233.5 918.5L234.0 916.8L234.5 916.4L235.0 915.8L235.5 915.4L236.0 915.0L236.5 913.4L237.0 914.0L237.5 912.8L238.0 913.0L238.5 912.0L239.0 912.1L239.5 912.1L240.0 911.4L240.5 911.2L241.0 911.2L241.5 910.8L242.0 910.5L242.5 910.8L243.0 910.5L243.5 910.0L244.0 910.7L244.5 909.4L245.0 909.9L245.5 909.4L246.0 909.4L246.5 909.4L247.0 909.2L247.5 909.2L248.0 908.5L248.5 908.4L249.0 908.9L249.5 908.4L250.0 908.3L250.5 908.1L251.0 908.9L251.5 908.7L252.0 908.9L252.5 908.2L253.0 908.5L253.5 908.2L254.0 908.7L254.5 909.0L255.0 908.2L255.5 909.0L256.0 908.8L256.5 908.4L257.0 907.9L257.5 908.9L258.0 908.5L258.5 908.3L259.0 908.6L259.5 908.6L260.0 909.0L260.5 908.2L261.0 908.9L261.5 909.0L262.0 909.0L262.5 908.5L263.0 908.3L263.5 908.8L264.0 908.6L264.5 908.6L265.0 909.0L265.5 908.5L266.0 907.8L266.5 908.4L267.0 908.0L267.5 908.8L268.0 908.6L268.5 908.4L269.0 908.5L269.5 908.8L270.0 908.6L270.5 909.0L271.0 908.5L271.5 908.9L272.0 909.0L272.5 909.1L273.0 908.4L273.5 908.8L274.0 908.0L274.5 908.3L275.0 908.0L275.5 908.9L276.0 908.2L276.5 908.6L277.0 908.5L277.5 908.6L278.0 908.4L278.5 908.7L279.0 909.2L279.5 908.6L280.0 908.8L280.5 908.9L281.0 908.6L281.5 908.3L282.0 908.5L282.5 909.0L283.0 908.2L283.5 908.5L284.0 909.0L284.5 908.9L285.0 908.7L285.5 908.9L286.0 908.7L286.5 908.3L287.0 908.2L287.5 908.5L288.0 909.0L288.5 908.5L289.0 908.4L289.5 908.5L290.0 908.3L290.5 908.7L291.0 908.4L291.5 908.8L292.0 908.0L292.5 908.8L293.0 908.6L293.5 908.2L294.0 909.0L294.5 908.7L295.0 908.1L295.5 908.5L296.0 908.9L296.5 908.7L297.0 909.0L297.5 909.0L298.0 909.0L298.5 908.9L299.0 909.2L299.5 909.0L300.0 909.0L300.5 908.2L301.0 909.1L301.5 909.2L302.0 908.8L302.5 908.7L303.0 909.4L303.5 908.3L304.0 909.0L304.5 909.6L305.0 908.6L305.5 909.1L306.0 909.5L306.5 908.9L307.0 909.1L307.5 909.2L308.0 908.7L308.5 908.9L309.0 909.0L309.5 909.2L310.0 908.9L310.5 908.9L311.0 908.7L311.5 908.9L312.0 909.2L312.5 909.0L313.0 908.7L313.5 908.7L314.0 909.8L314.5 909.4L315.0 909.2L315.5 908.3L316.0 909.2L316.5 909.2L317.0 909.6L317.5 909.2L318.0 909.0L318.5 909.2L319.0 908.5L319.5 909.4L320.0 909.2L320.5 908.9L321.0 909.5L321.5 909.7L322.0 908.7L322.5 908.9L323.0 909.2L323.5 909.2L324.0 909.0L324.5 908.9L325.0 909.8L325.5 909.5L326.0 908.8L326.5 908.8L327.0 909.7L327.5 909.5L328.0 909.7L328.5 909.4L329.0 908.9L329.5 909.3L330.0 908.6L330.5 909.0L331.0 909.2L331.5 909.4L332.0 909.0L332.5 909.2L333.0 909.4L333.5 909.4L334.0 909.5L334.5 909.3L335.0 909.2L335.5 909.5L336.0 909.3L336.5 909.1L337.0 909.1L337.5 909.3L338.0 909.3L338.5 909.4L339.0 909.3L339.5 909.4L340.0 909.3L340.5 909.0L341.0 909.5L341.5 909.7L342.0 909.5L342.5 909.3L343.0 909.5L343.5 909.1L344.0 908.8L344.5 909.4L345.0 909.1L345.5 909.6L346.0 909.1L346.5 908.7L347.0 909.1L347.5 909.9L348.0 909.3L348.5 909.1L349.0 909.2L349.5 909.6L350.0 909.6L350.5 909.5L351.0 909.9L351.5 909.7L352.0 909.5L352.5 909.7L353.0 910.0L353.5 909.8L354.0 909.8L354.5 909.2L355.0 909.5L355.5 909.8L356.0 909.5L356.5 909.9L357.0 909.7L357.5 909.8L358.0 909.5L358.5 910.3L359.0 910.0L359.5 909.5L360.0 909.6L360.5 910.4L361.0 909.5L361.5 909.9L362.0 909.9L362.5 909.6L363.0 909.3L363.5 909.7L364.0 909.7L364.5 910.0L365.0 909.9L365.5 909.7L366.0 909.9L366.5 909.8L367.0 909.7L367.5 909.7L368.0 909.6L368.5 909.9L369.0 909.4L369.5 909.5L370.0 909.7L370.5 909.3L371.0 909.6L371.5 909.1L372.0 909.5L372.5 909.9L373.0 909.9L373.5 909.7L374.0 909.6L374.5 909.3L375.0 910.3L375.5 909.9L376.0 910.1L376.5 909.5L377.0 909.7L377.5 909.2L378.0 910.0L378.5 910.0L379.0 909.2L379.5 909.7L380.0 909.9L380.5 909.2L381.0 909.2L381.5 909.4L382.0 909.6L382.5 909.4L383.0 909.8L383.5 909.9L384.0 910.0L384.5 910.0L385.0 910.2L385.5 910.1L386.0 909.4L386.5 909.6L387.0 909.5L387.5 909.5L388.0 909.8L388.5 909.8L389.0 909.9L389.5 909.3L390.0 909.4L390.5 909.8L391.0 909.7L391.5 909.7L392.0 909.8L392.5 909.6L393.0 910.0L393.5 909.9L394.0 909.8L394.5 909.6L395.0 909.8L395.5 909.0L396.0 909.5L396.5 909.8L397.0 909.4L397.5 909.9L398.0 909.9L398.5 909.4L399.0 909.7L399.5 909.7L400.0 910.0L400.5 910.0L401.0 909.8L401.5 909.6L402.0 909.8L402.5 909.8L403.0 910.1L403.5 909.9L404.0 909.6L404.5 909.4L405.0 909.7L405.5 909.6L406.0 909.5L406.5 909.8L407.0 909.7L407.5 909.9L408.0 910.0L408.5 909.7L409.0 910.5L409.5 909.7L410.0 910.2L410.5 909.9L411.0 910.2L411.5 909.1L412.0 909.6L412.5 909.9L413.0 910.0L413.5 910.6L414.0 910.0L414.5 910.2L415.0 910.1L415.5 910.1L416.0 910.0L416.5 909.8L417.0 910.0L417.5 909.5L418.0 910.2L418.5 909.6L419.0 909.9L419.5 910.5L420.0 909.8L420.5 909.9L421.0 910.2L421.5 909.9L422.0 909.6L422.5 909.9L423.0 910.0L423.5 910.1L424.0 909.6L424.5 910.4L425.0 910.4L425.5 909.9L426.0 910.0L426.5 909.7L427.0 910.3L427.5 909.7L428.0 910.1L428.5 909.7L429.0 909.7L429.5 910.1L430.0 910.3L430.5 909.9L431.0 909.7L431.5 910.1L432.0 909.9L432.5 910.0L433.0 910.3L433.5 910.2L434.0 909.7L434.5 910.6L435.0 909.9L435.5 910.1L436.0 909.7L436.5 909.9L437.0 909.4L437.5 910.4L438.0 910.3L438.5 909.5L439.0 909.4L439.5 909.4L440.0 910.3L440.5 909.8L441.0 909.9L441.5 909.8L442.0 909.9L442.5 909.6L443.0 909.9L443.5 909.5L444.0 909.9L444.5 910.0L445.0 910.0L445.5 909.8L446.0 909.6L446.5 910.0L447.0 909.8L447.5 910.4L448.0 910.1L448.5 909.9L449.0 909.8L449.5 909.7L450.0 909.6L450.5 909.8L451.0 910.0L451.5 910.1L452.0 910.1L452.5 910.5L453.0 909.7L453.5 909.9L454.0 910.8L454.5 909.4L455.0 909.8L455.5 910.0L456.0 910.0L456.5 910.0L457.0 909.8L457.5 910.0L458.0 909.9L458.5 910.2L459.0 909.4L459.5 909.7L460.0 909.9L460.5 909.6L461.0 909.6L461.5 910.1L462.0 909.7L462.5 910.1L463.0 910.2L463.5 910.0L464.0 910.1L464.5 909.9L465.0 909.5L465.5 909.9L466.0 910.1L466.5 909.8L467.0 909.9L467.5 910.2L468.0 909.7L468.5 910.1L469.0 910.5L469.5 909.8L470.0 910.0L470.5 909.9L471.0 910.4L471.5 910.0L472.0 910.2L472.5 909.7L473.0 909.9L473.5 909.9L474.0 909.4L474.5 910.4L475.0 910.2L475.5 909.4L476.0 910.2L476.5 909.9L477.0 910.1L477.5 910.1L478.0 909.5L478.5 909.9L479.0 910.4L479.5 909.8L480.0 909.6L480.5 909.5L481.0 909.6L481.5 910.0L482.0 910.5L482.5 910.1L483.0 910.0L483.5 910.6L484.0 909.8L484.5 909.7L485.0 910.1L485.5 910.1L486.0 909.6L486.5 909.6L487.0 910.0L487.5 910.0L488.0 909.6L488.5 909.9L489.0 909.8L489.5 910.1L490.0 909.9L490.5 909.9L491.0 909.8L491.5 910.3L492.0 910.4L492.5 909.8L493.0 910.2L493.5 909.7L494.0 910.0L494.5 910.2L495.0 910.4L495.5 909.8L496.0 909.9L496.5 910.0L497.0 909.5L497.5 910.0L498.0 909.8L498.5 910.1L499.0 909.6L499.5 909.4L500.0 910.0L500.5 910.0L501.0 909.8L501.5 910.2L502.0 909.9L502.5 909.8L503.0 910.1L503.5 909.5L504.0 909.8L504.5 910.0L505.0 910.2L505.5 909.9L506.0 910.1L506.5 909.8L507.0 910.1L507.5 910.5L508.0 909.8L508.5 910.7L509.0 909.8L509.5 910.0L510.0 910.0L510.5 910.3L511.0 909.6L511.5 909.3L512.0 910.1L512.5 910.2L513.0 910.2L513.5 910.8L514.0 910.0L514.5 910.0L515.0 910.2L515.5 910.1L516.0 910.5L516.5 909.6L517.0 909.9L517.5 908.9L518.0 910.2L518.5 909.9L519.0 910.2L519.5 910.6L520.0 910.0L520.5 909.9L521.0 909.8L521.5 909.7L522.0 909.8L522.5 910.2L523.0 910.0L523.5 910.0L524.0 909.9L524.5 910.2L525.0 910.1L525.5 909.9L526.0 910.2L526.5 909.9L527.0 909.6L527.5 910.4L528.0 910.1L528.5 909.7L529.0 910.3L529.5 910.1L530.0 909.5L530.5 910.5L531.0 910.1L531.5 910.2L532.0 910.0L532.5 909.9L533.0 909.5L533.5 910.3L534.0 910.0L534.5 909.9L535.0 910.1L535.5 910.0L536.0 910.2L536.5 909.9L537.0 910.0L537.5 909.3L538.0 909.8L538.5 910.2L539.0 910.4L539.5 909.9L540.0 909.9L540.5 910.5L541.0 909.9L541.5 910.2L542.0 910.5L542.5 910.0L543.0 910.3L543.5 909.8L544.0 910.0L544.5 910.0L545.0 910.0L545.5 910.3L546.0 910.7L546.5 909.8L547.0 909.8L547.5 910.1L548.0 909.7L548.5 910.1L549.0 910.2L549.5 909.9L550.0 910.1L550.5 909.5L551.0 910.2L551.5 909.5L552.0 909.8L552.5 909.8L553.0 909.9L553.5 910.2L554.0 910.0L554.5 909.9L555.0 910.1L555.5 910.5L556.0 910.0L556.5 910.1L557.0 910.4L557.5 910.1L558.0 909.6L558.5 910.7L559.0 910.6L559.5 909.4L560.0 910.0L560.5 910.1L561.0 910.3L561.5 910.2L562.0 909.9L562.5 909.7L563.0 910.0L563.5 910.3L564.0 909.7L564.5 909.7L565.0 910.0L565.5 909.4L566.0 909.9L566.5 909.9L567.0 910.1L567.5 909.8L568.0 909.7L568.5 909.9L569.0 910.0L569.5 909.8L570.0 910.0L570.5 910.2L571.0 910.3L571.5 910.5L572.0 909.7L572.5 909.9L573.0 909.2L573.5 910.6L574.0 909.8L574.5 910.0L575.0 910.1L575.5 909.6L576.0 910.1L576.5 910.0L577.0 909.4L577.5 910.1L578.0 910.3L578.5 909.4L579.0 910.2L579.5 910.0L580.0 910.1L580.5 910.1L581.0 910.4L581.5 909.9L582.0 910.2L582.5 909.9L583.0 910.2L583.5 909.7L584.0 910.0L584.5 910.5L585.0 910.1L585.5 909.9L586.0 909.6L586.5 909.8L587.0 910.0L587.5 910.3L588.0 910.1L588.5 910.1L589.0 910.0L589.5 910.4L590.0 909.9L590.5 909.8L591.0 910.3L591.5 910.0L592.0 909.9L592.5 909.8L593.0 909.9L593.5 910.2L594.0 910.1L594.5 909.6L595.0 910.1L595.5 910.0L596.0 909.7L596.5 910.2L597.0 909.9L597.5 909.9L598.0 910.2L598.5 910.4L599.0 909.8L599.5 910.1L600.0 909.7L600.5 910.7L601.0 909.8L601.5 910.4L602.0 909.8L602.5 910.2L603.0 910.7L603.5 909.2L604.0 909.9L604.5 910.1L605.0 910.0L605.5 909.8L606.0 910.6L606.5 910.0L607.0 909.5L607.5 910.3L608.0 909.5L608.5 910.3L609.0 909.8L609.5 910.0L610.0 910.4L610.5 910.0L611.0 909.6L611.5 909.5L612.0 910.4L612.5 910.2L613.0 909.8L613.5 910.3L614.0 910.1L614.5 910.2L615.0 909.3L615.5 909.9L616.0 910.3L616.5 910.2L617.0 910.3L617.5 909.3L618.0 910.0L618.5 910.1L619.0 910.8L619.5 909.7L620.0 909.9L620.5 910.0L621.0 910.3" stroke="#000080" stroke-width="2.1" fill="none" stroke-linejoin="round"/>
<path d="M218.5 884.5v4.6M218.5 1003.5v-4.6M352.5 884.5v4.6M352.5 1003.5v-4.6M487.5 884.5v4.6M487.5 1003.5v-4.6M151.5 884.5h4.6M621.5 884.5h-4.6M151.5 908.5h4.6M621.5 908.5h-4.6M151.5 932.5h4.6M621.5 932.5h-4.6M151.5 956.5h4.6M621.5 956.5h-4.6M151.5 979.5h4.6M621.5 979.5h-4.6M151.5 1003.5h4.6M621.5 1003.5h-4.6" stroke="#262626" stroke-width="1" fill="none"/>
<rect x="151.5" y="884.5" width="470" height="119" fill="none" stroke="#262626" stroke-width="1"/>
<text x="145.4" y="889.0" text-anchor="end" font-size="18.5">14</text>
<text x="145.4" y="913.0" text-anchor="end" font-size="18.5">12</text>
<text x="145.4" y="937.0" text-anchor="end" font-size="18.5">10</text>
<text x="145.4" y="961.0" text-anchor="end" font-size="18.5">8</text>
<text x="145.4" y="984.0" text-anchor="end" font-size="18.5">6</text>
<text x="145.4" y="1008.0" text-anchor="end" font-size="18.5">4</text>
<path d="M719.5 884.5V1003.5M854.5 884.5V1003.5M989.5 884.5V1003.5M652.5 908.5H1124.5M652.5 932.5H1124.5M652.5 956.5H1124.5M652.5 979.5H1124.5" stroke="#e0e0e0" stroke-width="1" fill="none"/>
<path d="M652.0 975.2L652.5 979.6L653.0 976.4L653.5 979.9L654.0 976.5L654.5 980.0L655.0 977.0L655.5 980.4L656.0 976.9L656.5 980.3L657.0 976.7L657.5 980.4L658.0 977.0L658.5 978.9L659.0 976.5L659.5 979.7L660.0 976.3L660.5 979.1L661.0 976.2L661.5 978.9L662.0 974.4L662.5 979.0L663.0 976.1L663.5 979.0L664.0 975.0L664.5 979.5L665.0 975.6L665.5 979.2L666.0 974.7L666.5 978.4L667.0 975.3L667.5 978.9L668.0 976.1L668.5 979.6L669.0 976.3L669.5 979.8L670.0 976.6L670.5 981.1L671.0 977.4L671.5 980.3L672.0 976.2L672.5 980.3L673.0 976.4L673.5 979.6L674.0 976.6L674.5 979.6L675.0 976.1L675.5 979.6L676.0 975.4L676.5 979.3L677.0 976.0L677.5 979.7L678.0 975.4L678.5 979.2L679.0 976.3L679.5 980.1L680.0 976.2L680.5 979.5L681.0 976.2L681.5 979.5L682.0 976.5L682.5 980.2L683.0 974.8L683.5 979.9L684.0 976.8L684.5 980.3L685.0 977.1L685.5 980.2L686.0 976.7L686.5 980.6L687.0 976.9L687.5 980.0L688.0 976.4L688.5 980.1L689.0 976.3L689.5 977.8L690.0 975.9L690.5 980.4L691.0 976.5L691.5 979.8L692.0 976.5L692.5 981.0L693.0 975.5L693.5 980.0L694.0 975.9L694.5 980.2L695.0 976.9L695.5 980.0L696.0 976.7L696.5 979.7L697.0 976.9L697.5 980.2L698.0 976.0L698.5 980.5L699.0 977.0L699.5 980.2L700.0 975.0L700.5 979.7L701.0 976.7L701.5 980.0L702.0 977.0L702.5 980.4L703.0 975.4L703.5 979.7L704.0 976.2L704.5 979.0L705.0 975.8L705.5 979.8L706.0 975.6L706.5 979.4L707.0 975.8L707.5 979.1L708.0 975.7L708.5 980.2L709.0 976.1L709.5 979.9L710.0 975.9L710.5 980.1L711.0 974.6L711.5 980.6L712.0 976.4L712.5 982.9L713.0 977.2L713.5 980.0L714.0 977.7L714.5 982.0L715.0 976.9L715.5 980.7L716.0 975.9L716.5 980.2L717.0 977.4L717.5 981.2L718.0 976.7L718.5 979.5L719.0 976.1L719.5 979.7L720.0 975.6L720.5 981.7L721.0 976.4L721.5 977.0L722.0 964.3L722.5 955.5L723.0 940.3L723.5 938.6L724.0 933.9L724.5 940.4L725.0 938.0L725.5 941.4L726.0 937.3L726.5 939.6L727.0 934.2L727.5 935.0L728.0 932.7L728.5 935.7L729.0 930.6L729.5 933.0L730.0 928.9L730.5 931.7L731.0 927.3L731.5 929.8L732.0 926.1L732.5 928.7L733.0 924.1L733.5 927.2L734.0 922.8L734.5 925.7L735.0 921.5L735.5 923.2L736.0 918.7L736.5 921.4L737.0 918.1L737.5 921.6L738.0 916.8L738.5 919.8L739.0 916.3L739.5 919.3L740.0 916.4L740.5 919.7L741.0 915.5L741.5 919.6L742.0 915.4L742.5 919.0L743.0 915.0L743.5 918.3L744.0 914.5L744.5 918.9L745.0 914.6L745.5 919.9L746.0 915.8L746.5 921.3L747.0 919.2L747.5 922.7L748.0 919.4L748.5 922.9L749.0 919.2L749.5 922.9L750.0 919.3L750.5 922.4L751.0 918.3L751.5 922.6L752.0 916.9L752.5 921.9L753.0 918.2L753.5 922.3L754.0 918.4L754.5 922.2L755.0 918.7L755.5 922.1L756.0 918.3L756.5 925.3L757.0 919.6L757.5 921.2L758.0 917.6L758.5 921.2L759.0 916.9L759.5 920.6L760.0 917.5L760.5 920.5L761.0 917.3L761.5 920.2L762.0 915.6L762.5 917.6L763.0 916.7L763.5 919.7L764.0 915.6L764.5 920.2L765.0 915.8L765.5 919.9L766.0 915.3L766.5 919.7L767.0 915.1L767.5 918.1L768.0 914.5L768.5 918.6L769.0 914.4L769.5 918.2L770.0 910.7L770.5 918.2L771.0 913.7L771.5 918.6L772.0 914.4L772.5 917.9L773.0 913.4L773.5 916.6L774.0 913.7L774.5 916.5L775.0 911.6L775.5 916.7L776.0 913.2L776.5 916.3L777.0 912.7L777.5 915.7L778.0 912.2L778.5 916.3L779.0 911.6L779.5 915.0L780.0 911.8L780.5 915.4L781.0 910.7L781.5 914.4L782.0 911.2L782.5 914.9L783.0 911.3L783.5 914.0L784.0 909.6L784.5 913.3L785.0 910.1L785.5 913.2L786.0 909.2L786.5 911.1L787.0 907.2L787.5 910.7L788.0 907.1L788.5 910.6L789.0 906.3L789.5 909.9L790.0 906.8L790.5 910.9L791.0 906.5L791.5 909.4L792.0 906.5L792.5 909.2L793.0 905.6L793.5 908.5L794.0 905.5L794.5 907.8L795.0 904.9L795.5 908.1L796.0 904.6L796.5 907.8L797.0 903.8L797.5 908.8L798.0 903.7L798.5 907.3L799.0 903.0L799.5 906.4L800.0 901.5L800.5 906.3L801.0 902.5L801.5 905.6L802.0 901.4L802.5 906.3L803.0 902.8L803.5 905.9L804.0 902.0L804.5 905.6L805.0 902.6L805.5 906.1L806.0 902.7L806.5 906.5L807.0 902.9L807.5 907.1L808.0 903.1L808.5 909.3L809.0 904.2L809.5 907.8L810.0 904.3L810.5 909.8L811.0 904.7L811.5 908.3L812.0 905.6L812.5 909.1L813.0 905.4L813.5 909.7L814.0 906.6L814.5 909.1L815.0 906.0L815.5 909.3L816.0 906.0L816.5 910.1L817.0 905.5L817.5 910.2L818.0 906.7L818.5 910.2L819.0 907.5L819.5 911.0L820.0 907.8L820.5 911.6L821.0 907.1L821.5 911.8L822.0 907.8L822.5 911.8L823.0 908.6L823.5 910.3L824.0 908.4L824.5 912.6L825.0 911.1L825.5 913.0L826.0 909.3L826.5 912.0L827.0 908.2L827.5 911.6L828.0 908.7L828.5 911.8L829.0 907.5L829.5 911.0L830.0 907.2L830.5 911.4L831.0 905.5L831.5 910.9L832.0 907.2L832.5 909.8L833.0 907.0L833.5 910.4L834.0 907.1L834.5 910.7L835.0 907.2L835.5 911.1L836.0 907.6L836.5 912.5L837.0 907.7L837.5 911.1L838.0 908.1L838.5 910.7L839.0 907.8L839.5 911.0L840.0 907.3L840.5 910.8L841.0 906.8L841.5 912.1L842.0 907.6L842.5 910.2L843.0 906.8L843.5 910.1L844.0 906.4L844.5 910.3L845.0 906.4L845.5 911.7L846.0 906.0L846.5 910.4L847.0 907.3L847.5 910.5L848.0 907.2L848.5 911.8L849.0 906.7L849.5 910.3L850.0 907.2L850.5 910.2L851.0 907.1L851.5 911.3L852.0 907.8L852.5 911.1L853.0 907.7L853.5 911.1L854.0 906.3L854.5 910.3L855.0 906.6L855.5 910.6L856.0 906.2L856.5 910.4L857.0 906.6L857.5 909.9L858.0 906.8L858.5 909.4L859.0 906.3L859.5 909.3L860.0 906.4L860.5 909.9L861.0 907.0L861.5 910.5L862.0 907.1L862.5 910.9L863.0 907.5L863.5 910.6L864.0 905.0L864.5 910.1L865.0 905.7L865.5 911.7L866.0 907.6L866.5 911.2L867.0 907.3L867.5 910.8L868.0 906.7L868.5 910.3L869.0 907.6L869.5 911.1L870.0 906.7L870.5 910.1L871.0 906.9L871.5 910.5L872.0 906.0L872.5 910.2L873.0 905.3L873.5 909.1L874.0 906.3L874.5 910.6L875.0 906.9L875.5 912.8L876.0 907.7L876.5 910.8L877.0 907.1L877.5 911.1L878.0 906.1L878.5 910.3L879.0 907.2L879.5 910.9L880.0 906.7L880.5 909.7L881.0 907.4L881.5 910.1L882.0 906.8L882.5 910.9L883.0 906.9L883.5 910.7L884.0 906.8L884.5 910.7L885.0 907.8L885.5 911.3L886.0 907.1L886.5 910.2L887.0 905.9L887.5 910.9L888.0 906.6L888.5 910.2L889.0 906.1L889.5 909.8L890.0 906.4L890.5 910.3L891.0 906.9L891.5 910.8L892.0 907.1L892.5 911.7L893.0 907.3L893.5 910.5L894.0 907.8L894.5 910.6L895.0 906.4L895.5 910.5L896.0 907.5L896.5 910.6L897.0 906.4L897.5 910.7L898.0 906.7L898.5 910.8L899.0 906.4L899.5 909.6L900.0 905.4L900.5 909.6L901.0 906.8L901.5 909.9L902.0 906.4L902.5 909.6L903.0 906.7L903.5 910.5L904.0 906.1L904.5 910.0L905.0 904.9L905.5 910.4L906.0 907.2L906.5 911.2L907.0 907.6L907.5 911.1L908.0 906.6L908.5 912.8L909.0 907.3L909.5 910.8L910.0 907.6L910.5 910.8L911.0 907.2L911.5 910.8L912.0 907.4L912.5 910.9L913.0 907.0L913.5 910.4L914.0 906.8L914.5 910.9L915.0 906.1L915.5 910.4L916.0 906.1L916.5 909.6L917.0 905.8L917.5 909.8L918.0 907.0L918.5 911.1L919.0 906.6L919.5 910.1L920.0 906.8L920.5 910.3L921.0 907.1L921.5 910.5L922.0 906.3L922.5 910.9L923.0 906.8L923.5 911.7L924.0 907.1L924.5 910.2L925.0 905.6L925.5 910.3L926.0 906.6L926.5 911.4L927.0 906.6L927.5 910.3L928.0 907.3L928.5 909.9L929.0 906.3L929.5 909.3L930.0 906.3L930.5 911.0L931.0 906.2L931.5 909.9L932.0 906.9L932.5 909.9L933.0 905.0L933.5 911.2L934.0 906.8L934.5 909.5L935.0 905.7L935.5 909.3L936.0 905.7L936.5 910.0L937.0 906.0L937.5 910.1L938.0 907.0L938.5 909.7L939.0 906.6L939.5 909.3L940.0 905.6L940.5 910.7L941.0 906.1L941.5 910.3L942.0 906.8L942.5 910.3L943.0 906.9L943.5 908.7L944.0 907.0L944.5 909.9L945.0 907.0L945.5 910.7L946.0 906.7L946.5 909.7L947.0 906.7L947.5 910.6L948.0 907.2L948.5 911.4L949.0 909.1L949.5 910.7L950.0 906.8L950.5 910.7L951.0 906.3L951.5 910.7L952.0 906.8L952.5 910.4L953.0 907.2L953.5 910.3L954.0 906.6L954.5 911.3L955.0 907.4L955.5 910.2L956.0 905.8L956.5 911.0L957.0 907.0L957.5 910.1L958.0 907.0L958.5 911.9L959.0 906.0L959.5 910.2L960.0 904.9L960.5 910.3L961.0 906.8L961.5 910.3L962.0 907.3L962.5 911.0L963.0 907.6L963.5 911.0L964.0 907.1L964.5 910.3L965.0 906.9L965.5 910.9L966.0 906.5L966.5 910.0L967.0 907.1L967.5 910.6L968.0 907.3L968.5 909.7L969.0 906.5L969.5 909.9L970.0 906.9L970.5 910.7L971.0 906.5L971.5 910.1L972.0 906.3L972.5 910.8L973.0 909.0L973.5 910.2L974.0 906.9L974.5 910.4L975.0 907.0L975.5 910.3L976.0 907.0L976.5 910.2L977.0 907.3L977.5 911.2L978.0 907.8L978.5 910.6L979.0 906.8L979.5 910.7L980.0 907.5L980.5 911.4L981.0 906.7L981.5 910.3L982.0 906.3L982.5 910.8L983.0 906.4L983.5 909.9L984.0 907.1L984.5 910.5L985.0 906.4L985.5 910.5L986.0 906.8L986.5 910.6L987.0 908.6L987.5 910.3L988.0 906.4L988.5 910.1L989.0 906.2L989.5 911.1L990.0 907.0L990.5 910.4L991.0 907.1L991.5 910.1L992.0 906.8L992.5 910.4L993.0 907.4L993.5 910.2L994.0 904.0L994.5 909.8L995.0 906.5L995.5 910.1L996.0 906.3L996.5 910.6L997.0 907.3L997.5 910.6L998.0 906.8L998.5 910.3L999.0 906.6L999.5 910.7L1000.0 906.2L1000.5 910.7L1001.0 906.9L1001.5 910.1L1002.0 907.2L1002.5 910.4L1003.0 906.9L1003.5 911.3L1004.0 907.4L1004.5 910.3L1005.0 906.3L1005.5 910.6L1006.0 907.8L1006.5 910.7L1007.0 907.5L1007.5 910.7L1008.0 905.9L1008.5 910.9L1009.0 907.6L1009.5 910.6L1010.0 906.8L1010.5 911.1L1011.0 907.3L1011.5 910.6L1012.0 906.4L1012.5 910.8L1013.0 907.6L1013.5 910.2L1014.0 905.8L1014.5 910.5L1015.0 906.8L1015.5 910.1L1016.0 906.4L1016.5 911.1L1017.0 907.2L1017.5 910.9L1018.0 907.0L1018.5 910.0L1019.0 907.3L1019.5 910.7L1020.0 907.3L1020.5 910.0L1021.0 907.1L1021.5 910.3L1022.0 905.7L1022.5 911.1L1023.0 906.4L1023.5 910.6L1024.0 907.1L1024.5 911.0L1025.0 907.3L1025.5 910.5L1026.0 906.3L1026.5 910.6L1027.0 907.0L1027.5 910.7L1028.0 906.4L1028.5 910.1L1029.0 907.0L1029.5 910.6L1030.0 906.3L1030.5 909.7L1031.0 905.9L1031.5 910.5L1032.0 905.5L1032.5 910.6L1033.0 907.1L1033.5 910.5L1034.0 906.9L1034.5 911.1L1035.0 907.2L1035.5 908.4L1036.0 907.3L1036.5 910.6L1037.0 906.9L1037.5 911.3L1038.0 907.2L1038.5 909.5L1039.0 908.1L1039.5 909.8L1040.0 906.3L1040.5 909.8L1041.0 906.3L1041.5 910.4L1042.0 905.9L1042.5 910.2L1043.0 906.4L1043.5 910.1L1044.0 905.9L1044.5 910.0L1045.0 906.9L1045.5 911.0L1046.0 907.3L1046.5 909.9L1047.0 906.9L1047.5 910.8L1048.0 906.8L1048.5 913.1L1049.0 906.6L1049.5 910.6L1050.0 907.0L1050.5 910.7L1051.0 907.2L1051.5 910.9L1052.0 906.5L1052.5 910.4L1053.0 907.0L1053.5 910.2L1054.0 906.1L1054.5 910.8L1055.0 906.7L1055.5 910.0L1056.0 906.8L1056.5 910.4L1057.0 907.4L1057.5 911.0L1058.0 907.0L1058.5 910.4L1059.0 909.9L1059.5 910.3L1060.0 906.9L1060.5 911.2L1061.0 906.5L1061.5 911.2L1062.0 908.0L1062.5 911.5L1063.0 907.6L1063.5 911.4L1064.0 907.2L1064.5 912.4L1065.0 907.4L1065.5 910.6L1066.0 906.7L1066.5 911.7L1067.0 907.3L1067.5 911.1L1068.0 905.9L1068.5 910.1L1069.0 906.4L1069.5 910.2L1070.0 905.8L1070.5 910.2L1071.0 906.9L1071.5 909.5L1072.0 907.0L1072.5 909.7L1073.0 906.7L1073.5 910.4L1074.0 906.3L1074.5 910.9L1075.0 907.7L1075.5 911.9L1076.0 907.6L1076.5 911.4L1077.0 906.8L1077.5 910.7L1078.0 907.6L1078.5 910.4L1079.0 906.6L1079.5 910.4L1080.0 909.4L1080.5 910.7L1081.0 906.9L1081.5 910.4L1082.0 905.7L1082.5 910.0L1083.0 907.2L1083.5 909.6L1084.0 906.4L1084.5 910.2L1085.0 907.0L1085.5 909.9L1086.0 906.6L1086.5 910.6L1087.0 907.0L1087.5 909.3L1088.0 907.0L1088.5 911.2L1089.0 907.3L1089.5 910.6L1090.0 907.5L1090.5 910.5L1091.0 907.4L1091.5 911.4L1092.0 906.3L1092.5 910.1L1093.0 907.2L1093.5 910.6L1094.0 906.7L1094.5 910.5L1095.0 907.1L1095.5 911.0L1096.0 907.2L1096.5 910.9L1097.0 907.4L1097.5 910.7L1098.0 907.6L1098.5 910.5L1099.0 907.1L1099.5 911.0L1100.0 907.2L1100.5 910.9L1101.0 906.7L1101.5 910.0L1102.0 906.4L1102.5 912.4L1103.0 907.7L1103.5 910.9L1104.0 906.9L1104.5 910.4L1105.0 907.2L1105.5 910.6L1106.0 907.8L1106.5 911.1L1107.0 907.1L1107.5 910.9L1108.0 907.2L1108.5 910.7L1109.0 906.5L1109.5 909.9L1110.0 908.7L1110.5 910.3L1111.0 905.3L1111.5 909.7L1112.0 906.9L1112.5 910.5L1113.0 906.8L1113.5 910.6L1114.0 906.6L1114.5 910.7L1115.0 907.2L1115.5 910.4L1116.0 906.9L1116.5 911.0L1117.0 907.2L1117.5 911.3L1118.0 906.3L1118.5 911.0L1119.0 908.3L1119.5 911.6L1120.0 907.6L1120.5 908.7L1121.0 907.3L1121.5 910.7L1122.0 907.4L1122.5 911.9L1123.0 906.8L1123.5 910.3L1124.0 906.8" stroke="#000080" stroke-width="2.0" fill="none" stroke-linejoin="round"/>
<path d="M719.5 884.5v4.6M719.5 1003.5v-4.6M854.5 884.5v4.6M854.5 1003.5v-4.6M989.5 884.5v4.6M989.5 1003.5v-4.6M652.5 884.5h4.6M1124.5 884.5h-4.6M652.5 908.5h4.6M1124.5 908.5h-4.6M652.5 932.5h4.6M1124.5 932.5h-4.6M652.5 956.5h4.6M1124.5 956.5h-4.6M652.5 979.5h4.6M1124.5 979.5h-4.6M652.5 1003.5h4.6M1124.5 1003.5h-4.6" stroke="#262626" stroke-width="1" fill="none"/>
<rect x="652.5" y="884.5" width="472" height="119" fill="none" stroke="#262626" stroke-width="1"/>
<text transform="translate(111.2 0) rotate(-90)" font-size="20"><tspan x="-972.1" font-style="italic">P</tspan><tspan x="-948.8" textLength="31.5" lengthAdjust="spacingAndGlyphs">(W)</tspan></text>
<text y="1026" font-size="20"><tspan x="330.9" textLength="28.2" lengthAdjust="spacingAndGlyphs">100</tspan> <tspan x="366.6" textLength="75" lengthAdjust="spacingAndGlyphs">(ms/div)</tspan></text>
<text y="1026" font-size="20"><tspan x="833.5" textLength="28.2" lengthAdjust="spacingAndGlyphs">100</tspan> <tspan x="869.2" textLength="75" lengthAdjust="spacingAndGlyphs">(ms/div)</tspan></text>
<path d="M171.5 1120.5V1280.5M213.5 1120.5V1280.5M255.5 1120.5V1280.5M296.5 1120.5V1280.5M338.5 1120.5V1280.5M380.5 1120.5V1280.5M422.5 1120.5V1280.5M464.5 1120.5V1280.5M506.5 1120.5V1280.5M548.5 1120.5V1280.5M154.5 1160.5H590.5M154.5 1200.5H590.5M154.5 1240.5H590.5" stroke="#e0e0e0" stroke-width="1" fill="none"/>
<path d="M171.5 1280.5v-4.3M171.5 1120.5v4.3M213.5 1280.5v-4.3M213.5 1120.5v4.3M255.5 1280.5v-4.3M255.5 1120.5v4.3M296.5 1280.5v-4.3M296.5 1120.5v4.3M338.5 1280.5v-4.3M338.5 1120.5v4.3M380.5 1280.5v-4.3M380.5 1120.5v4.3M422.5 1280.5v-4.3M422.5 1120.5v4.3M464.5 1280.5v-4.3M464.5 1120.5v4.3M506.5 1280.5v-4.3M506.5 1120.5v4.3M548.5 1280.5v-4.3M548.5 1120.5v4.3M590.5 1280.5v-4.3M590.5 1120.5v4.3M154.5 1120.5h4.3M590.5 1120.5h-4.3M154.5 1160.5h4.3M590.5 1160.5h-4.3M154.5 1200.5h4.3M590.5 1200.5h-4.3M154.5 1240.5h4.3M590.5 1240.5h-4.3M154.5 1280.5h4.3M590.5 1280.5h-4.3" stroke="#262626" stroke-width="1" fill="none"/>
<path d="M187.7 1217.4L204.3 1211.0L221.1 1210.2L238.1 1209.5L254.7 1206.9L271.5 1205.4L288.3 1204.5L305.4 1203.7L322.0 1203.1L338.9 1204.0L355.7 1204.0L372.3 1204.7L389.1 1201.2L405.9 1198.1L422.7 1197.5L439.5 1197.3L456.3 1198.1L473.1 1198.1L490.0 1197.3L506.8 1197.3L523.5 1197.3L540.3 1198.1L557.2 1196.6" stroke="#780000" stroke-width="2.2" fill="none"/>
<circle cx="187.7" cy="1217.4" r="5.9" fill="#009800"/>
<circle cx="204.3" cy="1211.0" r="5.9" fill="#009800"/>
<circle cx="221.1" cy="1210.2" r="5.9" fill="#009800"/>
<circle cx="238.1" cy="1209.5" r="5.9" fill="#009800"/>
<circle cx="254.7" cy="1206.9" r="5.9" fill="#009800"/>
<circle cx="271.5" cy="1205.4" r="5.9" fill="#009800"/>
<circle cx="288.3" cy="1204.5" r="5.9" fill="#009800"/>
<circle cx="305.4" cy="1203.7" r="5.9" fill="#009800"/>
<circle cx="322.0" cy="1203.1" r="5.9" fill="#009800"/>
<circle cx="338.9" cy="1204.0" r="5.9" fill="#009800"/>
<circle cx="355.7" cy="1204.0" r="5.9" fill="#009800"/>
<circle cx="372.3" cy="1204.7" r="5.9" fill="#009800"/>
<circle cx="389.1" cy="1201.2" r="5.9" fill="#009800"/>
<circle cx="405.9" cy="1198.1" r="5.9" fill="#009800"/>
<circle cx="422.7" cy="1197.5" r="5.9" fill="#009800"/>
<circle cx="439.5" cy="1197.3" r="5.9" fill="#009800"/>
<circle cx="456.3" cy="1198.1" r="5.9" fill="#009800"/>
<circle cx="473.1" cy="1198.1" r="5.9" fill="#009800"/>
<circle cx="490.0" cy="1197.3" r="5.9" fill="#009800"/>
<circle cx="506.8" cy="1197.3" r="5.9" fill="#009800"/>
<circle cx="523.5" cy="1197.3" r="5.9" fill="#009800"/>
<circle cx="540.3" cy="1198.1" r="5.9" fill="#009800"/>
<circle cx="557.2" cy="1196.6" r="5.9" fill="#009800"/>
<rect x="154.5" y="1120.5" width="436.0" height="160.0" fill="none" stroke="#262626" stroke-width="1"/>
<rect x="431.5" y="1120.5" width="159.0" height="43.0" fill="#fff" stroke="#262626" stroke-width="1"/>
<path d="M437 1133.3H493" stroke="#780000" stroke-width="2.2"/>
<circle cx="465.3" cy="1151.6" r="5.9" fill="#009800"/>
<text x="497.5" y="1136.7" fill="#000" font-size="15.5" textLength="60.5" lengthAdjust="spacingAndGlyphs">Linear fit</text>
<text x="497.5" y="1155.8" fill="#000" font-size="15.5" textLength="87" lengthAdjust="spacingAndGlyphs">Measurement</text>
<text x="148.5" y="1284.9" text-anchor="end" font-size="17">14</text>
<text x="148.5" y="1244.9" text-anchor="end" font-size="17">14.5</text>
<text x="148.5" y="1204.9" text-anchor="end" font-size="17">15</text>
<text x="148.5" y="1164.9" text-anchor="end" font-size="17">15.5</text>
<text x="148.5" y="1124.9" text-anchor="end" font-size="17">16</text>
<text x="171.5" y="1300.3" text-anchor="middle" font-size="17">5</text>
<text x="255.5" y="1300.3" text-anchor="middle" font-size="17">10</text>
<text x="338.5" y="1300.3" text-anchor="middle" font-size="17">15</text>
<text x="422.5" y="1300.3" text-anchor="middle" font-size="17">20</text>
<text x="506.5" y="1300.3" text-anchor="middle" font-size="17">25</text>
<text x="590.5" y="1300.3" text-anchor="middle" font-size="17">30</text>
<text y="1322.4" font-size="18.5"><tspan x="348.6" font-style="italic">E</tspan><tspan x="370.3" textLength="24.8" lengthAdjust="spacingAndGlyphs">(V)</tspan></text>
<text transform="translate(110.3 0) rotate(-90)" font-size="18.5"><tspan x="-1226.2" font-style="italic">x</tspan><tspan font-size="13.5" dy="3">2</tspan><tspan x="-1201.2" dy="-3" textLength="24.5" lengthAdjust="spacingAndGlyphs">(V)</tspan></text>
<defs><linearGradient id="nl" x1="0" x2="1225" gradientUnits="userSpaceOnUse"><stop offset="0.0000" stop-color="#0c260b"/><stop offset="0.0042" stop-color="#0c260b"/><stop offset="0.0042" stop-color="#083005"/><stop offset="0.0083" stop-color="#083005"/><stop offset="0.0083" stop-color="#18212b"/><stop offset="0.0125" stop-color="#18212b"/><stop offset="0.0125" stop-color="#3ec7a5"/><stop offset="0.0167" stop-color="#3ec7a5"/><stop offset="0.0167" stop-color="#2e2725"/><stop offset="0.0208" stop-color="#2e2725"/><stop offset="0.0208" stop-color="#321718"/><stop offset="0.0250" stop-color="#321718"/><stop offset="0.0250" stop-color="#b1a9d1"/><stop offset="0.0292" stop-color="#b1a9d1"/><stop offset="0.0292" stop-color="#b97e3d"/><stop offset="0.0333" stop-color="#b97e3d"/><stop offset="0.0333" stop-color="#d9ecf9"/><stop offset="0.0375" stop-color="#d9ecf9"/><stop offset="0.0375" stop-color="#141902"/><stop offset="0.0417" stop-color="#141902"/><stop offset="0.0417" stop-color="#001b0d"/><stop offset="0.0458" stop-color="#001b0d"/><stop offset="0.0458" stop-color="#22051d"/><stop offset="0.0500" stop-color="#22051d"/><stop offset="0.0500" stop-color="#0c261d"/><stop offset="0.0542" stop-color="#0c261d"/><stop offset="0.0542" stop-color="#c3a6b1"/><stop offset="0.0583" stop-color="#c3a6b1"/><stop offset="0.0583" stop-color="#f1aaf5"/><stop offset="0.0625" stop-color="#f1aaf5"/><stop offset="0.0625" stop-color="#c055a8"/><stop offset="0.0667" stop-color="#c055a8"/><stop offset="0.0667" stop-color="#31442d"/><stop offset="0.0708" stop-color="#31442d"/><stop offset="0.0708" stop-color="#2b1a05"/><stop offset="0.0750" stop-color="#2b1a05"/><stop offset="0.0750" stop-color="#e6a1a8"/><stop offset="0.0792" stop-color="#e6a1a8"/><stop offset="0.0792" stop-color="#001815"/><stop offset="0.0833" stop-color="#001815"/><stop offset="0.0833" stop-color="#190c32"/><stop offset="0.0875" stop-color="#190c32"/><stop offset="0.0875" stop-color="#e7b1ce"/><stop offset="0.0917" stop-color="#e7b1ce"/><stop offset="0.0917" stop-color="#193008"/><stop offset="0.0958" stop-color="#193008"/><stop offset="0.0958" stop-color="#2c1e03"/><stop offset="0.1000" stop-color="#2c1e03"/><stop offset="0.1000" stop-color="#2d2631"/><stop offset="0.1042" stop-color="#2d2631"/><stop offset="0.1042" stop-color="#c39047"/><stop offset="0.1083" stop-color="#c39047"/><stop offset="0.1083" stop-color="#09120b"/><stop offset="0.1125" stop-color="#09120b"/><stop offset="0.1125" stop-color="#caa8b0"/><stop offset="0.1167" stop-color="#caa8b0"/><stop offset="0.1167" stop-color="#bef8d5"/><stop offset="0.1208" stop-color="#bef8d5"/><stop offset="0.1208" stop-color="#694684"/><stop offset="0.1250" stop-color="#694684"/><stop offset="0.1250" stop-color="#042012"/><stop offset="0.1292" stop-color="#042012"/><stop offset="0.1292" stop-color="#03150d"/><stop offset="0.1333" stop-color="#03150d"/><stop offset="0.1333" stop-color="#151918"/><stop offset="0.1375" stop-color="#151918"/><stop offset="0.1375" stop-color="#172205"/><stop offset="0.1417" stop-color="#172205"/><stop offset="0.1417" stop-color="#02172e"/><stop offset="0.1458" stop-color="#02172e"/><stop offset="0.1458" stop-color="#f8ceb3"/><stop offset="0.1500" stop-color="#f8ceb3"/><stop offset="0.1500" stop-color="#290e29"/><stop offset="0.1542" stop-color="#290e29"/><stop offset="0.1542" stop-color="#43785f"/><stop offset="0.1583" stop-color="#43785f"/><stop offset="0.1583" stop-color="#678a73"/><stop offset="0.1625" stop-color="#678a73"/><stop offset="0.1625" stop-color="#051c1a"/><stop offset="0.1667" stop-color="#051c1a"/><stop offset="0.1667" stop-color="#b69ed6"/><stop offset="0.1708" stop-color="#b69ed6"/><stop offset="0.1708" stop-color="#2b1432"/><stop offset="0.1750" stop-color="#2b1432"/><stop offset="0.1750" stop-color="#08101b"/><stop offset="0.1792" stop-color="#08101b"/><stop offset="0.1792" stop-color="#caeaff"/><stop offset="0.1833" stop-color="#caeaff"/><stop offset="0.1833" stop-color="#7089c2"/><stop offset="0.1875" stop-color="#7089c2"/><stop offset="0.1875" stop-color="#e5ebf1"/><stop offset="0.1917" stop-color="#e5ebf1"/><stop offset="0.1917" stop-color="#18150c"/><stop offset="0.1958" stop-color="#18150c"/><stop offset="0.1958" stop-color="#2a162c"/><stop offset="0.2000" stop-color="#2a162c"/><stop offset="0.2000" stop-color="#0c2a2a"/><stop offset="0.2042" stop-color="#0c2a2a"/><stop offset="0.2042" stop-color="#28102a"/><stop offset="0.2083" stop-color="#28102a"/><stop offset="0.2083" stop-color="#302d0e"/><stop offset="0.2125" stop-color="#302d0e"/><stop offset="0.2125" stop-color="#162a19"/><stop offset="0.2167" stop-color="#162a19"/><stop offset="0.2167" stop-color="#20220c"/><stop offset="0.2208" stop-color="#20220c"/><stop offset="0.2208" stop-color="#132b2f"/><stop offset="0.2250" stop-color="#132b2f"/><stop offset="0.2250" stop-color="#d7fafd"/><stop offset="0.2292" stop-color="#d7fafd"/><stop offset="0.2292" stop-color="#0d102f"/><stop offset="0.2333" stop-color="#0d102f"/><stop offset="0.2333" stop-color="#cbd1dd"/><stop offset="0.2375" stop-color="#cbd1dd"/><stop offset="0.2375" stop-color="#273128"/><stop offset="0.2417" stop-color="#273128"/><stop offset="0.2417" stop-color="#c3715b"/><stop offset="0.2458" stop-color="#c3715b"/><stop offset="0.2458" stop-color="#42763b"/><stop offset="0.2500" stop-color="#42763b"/><stop offset="0.2500" stop-color="#369274"/><stop offset="0.2542" stop-color="#369274"/><stop offset="0.2542" stop-color="#23282d"/><stop offset="0.2583" stop-color="#23282d"/><stop offset="0.2583" stop-color="#735941"/><stop offset="0.2625" stop-color="#735941"/><stop offset="0.2625" stop-color="#fbc8c9"/><stop offset="0.2667" stop-color="#fbc8c9"/><stop offset="0.2667" stop-color="#6b9d7c"/><stop offset="0.2708" stop-color="#6b9d7c"/><stop offset="0.2708" stop-color="#081c2c"/><stop offset="0.2750" stop-color="#081c2c"/><stop offset="0.2750" stop-color="#93b755"/><stop offset="0.2792" stop-color="#93b755"/><stop offset="0.2792" stop-color="#0d111d"/><stop offset="0.2833" stop-color="#0d111d"/><stop offset="0.2833" stop-color="#8957a2"/><stop offset="0.2875" stop-color="#8957a2"/><stop offset="0.2875" stop-color="#c8a153"/><stop offset="0.2917" stop-color="#c8a153"/><stop offset="0.2917" stop-color="#dab4d0"/><stop offset="0.2958" stop-color="#dab4d0"/><stop offset="0.2958" stop-color="#071532"/><stop offset="0.3000" stop-color="#071532"/><stop offset="0.3000" stop-color="#15292e"/><stop offset="0.3042" stop-color="#15292e"/><stop offset="0.3042" stop-color="#2b2211"/><stop offset="0.3083" stop-color="#2b2211"/><stop offset="0.3083" stop-color="#bd7991"/><stop offset="0.3125" stop-color="#bd7991"/><stop offset="0.3125" stop-color="#082503"/><stop offset="0.3167" stop-color="#082503"/><stop offset="0.3167" stop-color="#031520"/><stop offset="0.3208" stop-color="#031520"/><stop offset="0.3208" stop-color="#30120a"/><stop offset="0.3250" stop-color="#30120a"/><stop offset="0.3250" stop-color="#369262"/><stop offset="0.3292" stop-color="#369262"/><stop offset="0.3292" stop-color="#45a453"/><stop offset="0.3333" stop-color="#45a453"/><stop offset="0.3333" stop-color="#2a1704"/><stop offset="0.3375" stop-color="#2a1704"/><stop offset="0.3375" stop-color="#5ab754"/><stop offset="0.3417" stop-color="#5ab754"/><stop offset="0.3417" stop-color="#b03c45"/><stop offset="0.3458" stop-color="#b03c45"/><stop offset="0.3458" stop-color="#4b4eb3"/><stop offset="0.3500" stop-color="#4b4eb3"/><stop offset="0.3500" stop-color="#302029"/><stop offset="0.3542" stop-color="#302029"/><stop offset="0.3542" stop-color="#16322d"/><stop offset="0.3583" stop-color="#16322d"/><stop offset="0.3583" stop-color="#263027"/><stop offset="0.3625" stop-color="#263027"/><stop offset="0.3625" stop-color="#310315"/><stop offset="0.3667" stop-color="#310315"/><stop offset="0.3667" stop-color="#975876"/><stop offset="0.3708" stop-color="#975876"/><stop offset="0.3708" stop-color="#07091f"/><stop offset="0.3750" stop-color="#07091f"/><stop offset="0.3750" stop-color="#ad2b63"/><stop offset="0.3792" stop-color="#ad2b63"/><stop offset="0.3792" stop-color="#2b3206"/><stop offset="0.3833" stop-color="#2b3206"/><stop offset="0.3833" stop-color="#64b999"/><stop offset="0.3875" stop-color="#64b999"/><stop offset="0.3875" stop-color="#c23c51"/><stop offset="0.3917" stop-color="#c23c51"/><stop offset="0.3917" stop-color="#abf9ce"/><stop offset="0.3958" stop-color="#abf9ce"/><stop offset="0.3958" stop-color="#142502"/><stop offset="0.4000" stop-color="#142502"/><stop offset="0.4000" stop-color="#2d7450"/><stop offset="0.4042" stop-color="#2d7450"/><stop offset="0.4042" stop-color="#001223"/><stop offset="0.4083" stop-color="#001223"/><stop offset="0.4083" stop-color="#071f1b"/><stop offset="0.4125" stop-color="#071f1b"/><stop offset="0.4125" stop-color="#328251"/><stop offset="0.4167" stop-color="#328251"/><stop offset="0.4167" stop-color="#797d7b"/><stop offset="0.4208" stop-color="#797d7b"/><stop offset="0.4208" stop-color="#30886d"/><stop offset="0.4250" stop-color="#30886d"/><stop offset="0.4250" stop-color="#b44e2c"/><stop offset="0.4292" stop-color="#b44e2c"/><stop offset="0.4292" stop-color="#718e93"/><stop offset="0.4333" stop-color="#718e93"/><stop offset="0.4333" stop-color="#310e0b"/><stop offset="0.4375" stop-color="#310e0b"/><stop offset="0.4375" stop-color="#030d0f"/><stop offset="0.4417" stop-color="#030d0f"/><stop offset="0.4417" stop-color="#51b940"/><stop offset="0.4458" stop-color="#51b940"/><stop offset="0.4458" stop-color="#24010c"/><stop offset="0.4500" stop-color="#24010c"/><stop offset="0.4500" stop-color="#0b2813"/><stop offset="0.4542" stop-color="#0b2813"/><stop offset="0.4542" stop-color="#100b25"/><stop offset="0.4583" stop-color="#100b25"/><stop offset="0.4583" stop-color="#4e2831"/><stop offset="0.4625" stop-color="#4e2831"/><stop offset="0.4625" stop-color="#1c040a"/><stop offset="0.4667" stop-color="#1c040a"/><stop offset="0.4667" stop-color="#7f9749"/><stop offset="0.4708" stop-color="#7f9749"/><stop offset="0.4708" stop-color="#270517"/><stop offset="0.4750" stop-color="#270517"/><stop offset="0.4750" stop-color="#0e2e24"/><stop offset="0.4792" stop-color="#0e2e24"/><stop offset="0.4792" stop-color="#2d061b"/><stop offset="0.4833" stop-color="#2d061b"/><stop offset="0.4833" stop-color="#544aa1"/><stop offset="0.4875" stop-color="#544aa1"/><stop offset="0.4875" stop-color="#675469"/><stop offset="0.4917" stop-color="#675469"/><stop offset="0.4917" stop-color="#212b20"/><stop offset="0.4958" stop-color="#212b20"/><stop offset="0.4958" stop-color="#db9fb4"/><stop offset="0.5000" stop-color="#db9fb4"/><stop offset="0.5000" stop-color="#0e2b2d"/><stop offset="0.5042" stop-color="#0e2b2d"/><stop offset="0.5042" stop-color="#212304"/><stop offset="0.5083" stop-color="#212304"/><stop offset="0.5083" stop-color="#143124"/><stop offset="0.5125" stop-color="#143124"/><stop offset="0.5125" stop-color="#0c0632"/><stop offset="0.5167" stop-color="#0c0632"/><stop offset="0.5167" stop-color="#319737"/><stop offset="0.5208" stop-color="#319737"/><stop offset="0.5208" stop-color="#032a12"/><stop offset="0.5250" stop-color="#032a12"/><stop offset="0.5250" stop-color="#2a1000"/><stop offset="0.5292" stop-color="#2a1000"/><stop offset="0.5292" stop-color="#735a85"/><stop offset="0.5333" stop-color="#735a85"/><stop offset="0.5333" stop-color="#161809"/><stop offset="0.5375" stop-color="#161809"/><stop offset="0.5375" stop-color="#af6a5a"/><stop offset="0.5417" stop-color="#af6a5a"/><stop offset="0.5417" stop-color="#01160e"/><stop offset="0.5458" stop-color="#01160e"/><stop offset="0.5458" stop-color="#051801"/><stop offset="0.5500" stop-color="#051801"/><stop offset="0.5500" stop-color="#14180f"/><stop offset="0.5542" stop-color="#14180f"/><stop offset="0.5542" stop-color="#310401"/><stop offset="0.5583" stop-color="#310401"/><stop offset="0.5583" stop-color="#0d0e15"/><stop offset="0.5625" stop-color="#0d0e15"/><stop offset="0.5625" stop-color="#3a2897"/><stop offset="0.5667" stop-color="#3a2897"/><stop offset="0.5667" stop-color="#1b052c"/><stop offset="0.5708" stop-color="#1b052c"/><stop offset="0.5708" stop-color="#86a794"/><stop offset="0.5750" stop-color="#86a794"/><stop offset="0.5750" stop-color="#88b76b"/><stop offset="0.5792" stop-color="#88b76b"/><stop offset="0.5792" stop-color="#160711"/><stop offset="0.5833" stop-color="#160711"/><stop offset="0.5833" stop-color="#04020e"/><stop offset="0.5875" stop-color="#04020e"/><stop offset="0.5875" stop-color="#270611"/><stop offset="0.5917" stop-color="#270611"/><stop offset="0.5917" stop-color="#e5e5b5"/><stop offset="0.5958" stop-color="#e5e5b5"/><stop offset="0.5958" stop-color="#2a1c21"/><stop offset="0.6000" stop-color="#2a1c21"/><stop offset="0.6000" stop-color="#2f1004"/><stop offset="0.6042" stop-color="#2f1004"/><stop offset="0.6042" stop-color="#472c70"/><stop offset="0.6083" stop-color="#472c70"/><stop offset="0.6083" stop-color="#2d1c1b"/><stop offset="0.6125" stop-color="#2d1c1b"/><stop offset="0.6125" stop-color="#7aaa64"/><stop offset="0.6167" stop-color="#7aaa64"/><stop offset="0.6167" stop-color="#b04371"/><stop offset="0.6208" stop-color="#b04371"/><stop offset="0.6208" stop-color="#0d0425"/><stop offset="0.6250" stop-color="#0d0425"/><stop offset="0.6250" stop-color="#d0f5d4"/><stop offset="0.6292" stop-color="#d0f5d4"/><stop offset="0.6292" stop-color="#26052c"/><stop offset="0.6333" stop-color="#26052c"/><stop offset="0.6333" stop-color="#240528"/><stop offset="0.6375" stop-color="#240528"/><stop offset="0.6375" stop-color="#1a0c1b"/><stop offset="0.6417" stop-color="#1a0c1b"/><stop offset="0.6417" stop-color="#eae1e0"/><stop offset="0.6458" stop-color="#eae1e0"/><stop offset="0.6458" stop-color="#07140d"/><stop offset="0.6500" stop-color="#07140d"/><stop offset="0.6500" stop-color="#280600"/><stop offset="0.6542" stop-color="#280600"/><stop offset="0.6542" stop-color="#baada7"/><stop offset="0.6583" stop-color="#baada7"/><stop offset="0.6583" stop-color="#715592"/><stop offset="0.6625" stop-color="#715592"/><stop offset="0.6625" stop-color="#0b301a"/><stop offset="0.6667" stop-color="#0b301a"/><stop offset="0.6667" stop-color="#060411"/><stop offset="0.6708" stop-color="#060411"/><stop offset="0.6708" stop-color="#bcb6f3"/><stop offset="0.6750" stop-color="#bcb6f3"/><stop offset="0.6750" stop-color="#112e07"/><stop offset="0.6792" stop-color="#112e07"/><stop offset="0.6792" stop-color="#260410"/><stop offset="0.6833" stop-color="#260410"/><stop offset="0.6833" stop-color="#081226"/><stop offset="0.6875" stop-color="#081226"/><stop offset="0.6875" stop-color="#312013"/><stop offset="0.6917" stop-color="#312013"/><stop offset="0.6917" stop-color="#68a868"/><stop offset="0.6958" stop-color="#68a868"/><stop offset="0.6958" stop-color="#9d704e"/><stop offset="0.7000" stop-color="#9d704e"/><stop offset="0.7000" stop-color="#200820"/><stop offset="0.7042" stop-color="#200820"/><stop offset="0.7042" stop-color="#162621"/><stop offset="0.7083" stop-color="#162621"/><stop offset="0.7083" stop-color="#231b32"/><stop offset="0.7125" stop-color="#231b32"/><stop offset="0.7125" stop-color="#00152e"/><stop offset="0.7167" stop-color="#00152e"/><stop offset="0.7167" stop-color="#8ebc3d"/><stop offset="0.7208" stop-color="#8ebc3d"/><stop offset="0.7208" stop-color="#051b1d"/><stop offset="0.7250" stop-color="#051b1d"/><stop offset="0.7250" stop-color="#000c05"/><stop offset="0.7292" stop-color="#000c05"/><stop offset="0.7292" stop-color="#745945"/><stop offset="0.7333" stop-color="#745945"/><stop offset="0.7333" stop-color="#102d13"/><stop offset="0.7375" stop-color="#102d13"/><stop offset="0.7375" stop-color="#232b29"/><stop offset="0.7417" stop-color="#232b29"/><stop offset="0.7417" stop-color="#270714"/><stop offset="0.7458" stop-color="#270714"/><stop offset="0.7458" stop-color="#0d1319"/><stop offset="0.7500" stop-color="#0d1319"/><stop offset="0.7500" stop-color="#021c29"/><stop offset="0.7542" stop-color="#021c29"/><stop offset="0.7542" stop-color="#d3dbe4"/><stop offset="0.7583" stop-color="#d3dbe4"/><stop offset="0.7583" stop-color="#160802"/><stop offset="0.7625" stop-color="#160802"/><stop offset="0.7625" stop-color="#b5635d"/><stop offset="0.7667" stop-color="#b5635d"/><stop offset="0.7667" stop-color="#c8adc2"/><stop offset="0.7708" stop-color="#c8adc2"/><stop offset="0.7708" stop-color="#1e0a26"/><stop offset="0.7750" stop-color="#1e0a26"/><stop offset="0.7750" stop-color="#0b2e21"/><stop offset="0.7792" stop-color="#0b2e21"/><stop offset="0.7792" stop-color="#b0762d"/><stop offset="0.7833" stop-color="#b0762d"/><stop offset="0.7833" stop-color="#251609"/><stop offset="0.7875" stop-color="#251609"/><stop offset="0.7875" stop-color="#020422"/><stop offset="0.7917" stop-color="#020422"/><stop offset="0.7917" stop-color="#2b2312"/><stop offset="0.7958" stop-color="#2b2312"/><stop offset="0.7958" stop-color="#54b57c"/><stop offset="0.8000" stop-color="#54b57c"/><stop offset="0.8000" stop-color="#41b473"/><stop offset="0.8042" stop-color="#41b473"/><stop offset="0.8042" stop-color="#151b0c"/><stop offset="0.8083" stop-color="#151b0c"/><stop offset="0.8083" stop-color="#3254c8"/><stop offset="0.8125" stop-color="#3254c8"/><stop offset="0.8125" stop-color="#191b22"/><stop offset="0.8167" stop-color="#191b22"/><stop offset="0.8167" stop-color="#172529"/><stop offset="0.8208" stop-color="#172529"/><stop offset="0.8208" stop-color="#886a42"/><stop offset="0.8250" stop-color="#886a42"/><stop offset="0.8250" stop-color="#f9c3a7"/><stop offset="0.8292" stop-color="#f9c3a7"/><stop offset="0.8292" stop-color="#2b0600"/><stop offset="0.8333" stop-color="#2b0600"/><stop offset="0.8333" stop-color="#14250f"/><stop offset="0.8375" stop-color="#14250f"/><stop offset="0.8375" stop-color="#c2726e"/><stop offset="0.8417" stop-color="#c2726e"/><stop offset="0.8417" stop-color="#08082a"/><stop offset="0.8458" stop-color="#08082a"/><stop offset="0.8458" stop-color="#a6baef"/><stop offset="0.8500" stop-color="#a6baef"/><stop offset="0.8500" stop-color="#2eb4aa"/><stop offset="0.8542" stop-color="#2eb4aa"/><stop offset="0.8542" stop-color="#090f1a"/><stop offset="0.8583" stop-color="#090f1a"/><stop offset="0.8583" stop-color="#081013"/><stop offset="0.8625" stop-color="#081013"/><stop offset="0.8625" stop-color="#180516"/><stop offset="0.8667" stop-color="#180516"/><stop offset="0.8667" stop-color="#1f0e1e"/><stop offset="0.8708" stop-color="#1f0e1e"/><stop offset="0.8708" stop-color="#a77565"/><stop offset="0.8750" stop-color="#a77565"/><stop offset="0.8750" stop-color="#31489c"/><stop offset="0.8792" stop-color="#31489c"/><stop offset="0.8792" stop-color="#3982b7"/><stop offset="0.8833" stop-color="#3982b7"/><stop offset="0.8833" stop-color="#e8c3f9"/><stop offset="0.8875" stop-color="#e8c3f9"/><stop offset="0.8875" stop-color="#32382b"/><stop offset="0.8917" stop-color="#32382b"/><stop offset="0.8917" stop-color="#2b9b5b"/><stop offset="0.8958" stop-color="#2b9b5b"/><stop offset="0.8958" stop-color="#9da728"/><stop offset="0.9000" stop-color="#9da728"/><stop offset="0.9000" stop-color="#02260e"/><stop offset="0.9042" stop-color="#02260e"/><stop offset="0.9042" stop-color="#281b0b"/><stop offset="0.9083" stop-color="#281b0b"/><stop offset="0.9083" stop-color="#fddcd0"/><stop offset="0.9125" stop-color="#fddcd0"/><stop offset="0.9125" stop-color="#260131"/><stop offset="0.9167" stop-color="#260131"/><stop offset="0.9167" stop-color="#307536"/><stop offset="0.9208" stop-color="#307536"/><stop offset="0.9208" stop-color="#67b98c"/><stop offset="0.9250" stop-color="#67b98c"/><stop offset="0.9250" stop-color="#a74a70"/><stop offset="0.9292" stop-color="#a74a70"/><stop offset="0.9292" stop-color="#4e307c"/><stop offset="0.9333" stop-color="#4e307c"/><stop offset="0.9333" stop-color="#87b15b"/><stop offset="0.9375" stop-color="#87b15b"/><stop offset="0.9375" stop-color="#6b55ab"/><stop offset="0.9417" stop-color="#6b55ab"/><stop offset="0.9417" stop-color="#05182d"/><stop offset="0.9458" stop-color="#05182d"/><stop offset="0.9458" stop-color="#102613"/><stop offset="0.9500" stop-color="#102613"/><stop offset="0.9500" stop-color="#230b31"/><stop offset="0.9542" stop-color="#230b31"/><stop offset="0.9542" stop-color="#efb6b3"/><stop offset="0.9583" stop-color="#efb6b3"/><stop offset="0.9583" stop-color="#2b2d01"/><stop offset="0.9625" stop-color="#2b2d01"/><stop offset="0.9625" stop-color="#0e1310"/><stop offset="0.9667" stop-color="#0e1310"/><stop offset="0.9667" stop-color="#16190a"/><stop offset="0.9708" stop-color="#16190a"/><stop offset="0.9708" stop-color="#c5faab"/><stop offset="0.9750" stop-color="#c5faab"/><stop offset="0.9750" stop-color="#231d1d"/><stop offset="0.9792" stop-color="#231d1d"/><stop offset="0.9792" stop-color="#1e2814"/><stop offset="0.9833" stop-color="#1e2814"/><stop offset="0.9833" stop-color="#557bb9"/><stop offset="0.9875" stop-color="#557bb9"/><stop offset="0.9875" stop-color="#270320"/><stop offset="0.9917" stop-color="#270320"/><stop offset="0.9917" stop-color="#2a2509"/><stop offset="0.9958" stop-color="#2a2509"/><stop offset="0.9958" stop-color="#9f5ea8"/><stop offset="1.0000" stop-color="#9f5ea8"/></linearGradient></defs>
<rect x="0" y="1584" width="1225" height="1" fill="url(#nl)"/>
<rect x="0" y="1583" width="1225" height="1" fill="url(#nl)" opacity="0.08"/>
</svg></body></html>
